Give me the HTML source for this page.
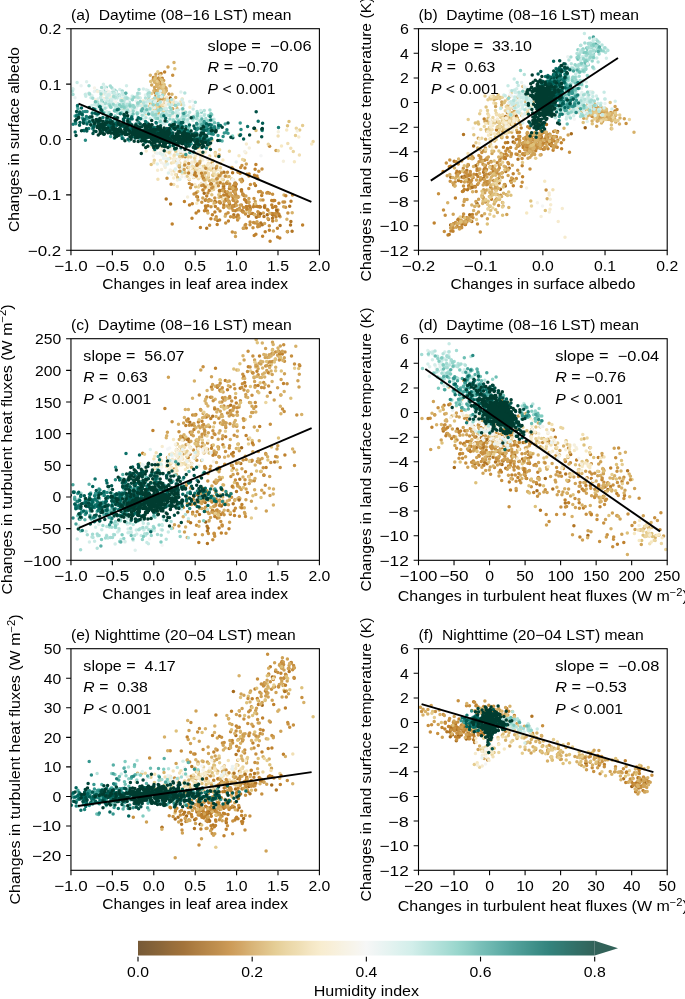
<!DOCTYPE html><html><head><meta charset="utf-8"><style>html,body{margin:0;padding:0;background:#fff}svg{display:block;will-change:transform} text{white-space:pre}</style></head><body>
<svg width="685" height="999" viewBox="0 0 685 999" font-family="Liberation Sans, sans-serif" font-size="14.6">
<rect width="685" height="999" fill="#fff"/>
<defs>
<clipPath id="c0"><rect x="70.96" y="28.70" width="248.44" height="221.60"/></clipPath>
<clipPath id="c1"><rect x="418.50" y="28.70" width="248.70" height="221.60"/></clipPath>
<clipPath id="c2"><rect x="70.96" y="338.70" width="248.44" height="221.60"/></clipPath>
<clipPath id="c3"><rect x="418.50" y="338.70" width="248.70" height="221.60"/></clipPath>
<clipPath id="c4"><rect x="70.96" y="648.70" width="248.44" height="221.60"/></clipPath>
<clipPath id="c5"><rect x="418.50" y="648.70" width="248.70" height="221.60"/></clipPath>
<linearGradient id="cb" x1="0" x2="1" y1="0" y2="0">
<stop offset="0.000" stop-color="#543005"/>
<stop offset="0.025" stop-color="#613806"/>
<stop offset="0.050" stop-color="#6e4007"/>
<stop offset="0.075" stop-color="#7e4909"/>
<stop offset="0.100" stop-color="#8b500a"/>
<stop offset="0.125" stop-color="#995d13"/>
<stop offset="0.150" stop-color="#a5691b"/>
<stop offset="0.175" stop-color="#b17423"/>
<stop offset="0.200" stop-color="#bf812d"/>
<stop offset="0.225" stop-color="#c79040"/>
<stop offset="0.250" stop-color="#cfa256"/>
<stop offset="0.275" stop-color="#d7b169"/>
<stop offset="0.300" stop-color="#dec17b"/>
<stop offset="0.325" stop-color="#e5cc8f"/>
<stop offset="0.350" stop-color="#ead59f"/>
<stop offset="0.375" stop-color="#f1dfb3"/>
<stop offset="0.400" stop-color="#f6e8c3"/>
<stop offset="0.425" stop-color="#f6ebcf"/>
<stop offset="0.450" stop-color="#f5efdc"/>
<stop offset="0.475" stop-color="#f5f2e8"/>
<stop offset="0.500" stop-color="#f4f5f5"/>
<stop offset="0.525" stop-color="#e9f2f1"/>
<stop offset="0.550" stop-color="#def0ed"/>
<stop offset="0.575" stop-color="#d2ede9"/>
<stop offset="0.600" stop-color="#c7eae5"/>
<stop offset="0.625" stop-color="#b4e2db"/>
<stop offset="0.650" stop-color="#a3dbd3"/>
<stop offset="0.675" stop-color="#92d4ca"/>
<stop offset="0.700" stop-color="#7fccc0"/>
<stop offset="0.725" stop-color="#6dbfb4"/>
<stop offset="0.750" stop-color="#58b0a7"/>
<stop offset="0.775" stop-color="#47a49b"/>
<stop offset="0.800" stop-color="#35978f"/>
<stop offset="0.825" stop-color="#278a82"/>
<stop offset="0.850" stop-color="#1a7e76"/>
<stop offset="0.875" stop-color="#0c7169"/>
<stop offset="0.900" stop-color="#01655d"/>
<stop offset="0.925" stop-color="#015b52"/>
<stop offset="0.950" stop-color="#005046"/>
<stop offset="0.975" stop-color="#00463b"/>
<stop offset="1.000" stop-color="#003c30"/>
</linearGradient></defs>
<g clip-path="url(#c0)" stroke-linecap="round" stroke-width="3.50" fill="none">
<path stroke="#c79040" d="M269.6 146.2h0"/>
<path stroke="#cfa256" d="M276.0 150.4h0"/>
<path stroke="#dec17b" d="M244.4 160.2h0M258.2 141.9h0M289.0 121.6h0M256.0 130.5h0M287.5 125.8h0"/>
<path stroke="#e5cc8f" d="M299.7 129.9h0M302.6 125.5h0M323.1 176.4h0M295.5 135.5h0"/>
<path stroke="#ead59f" d="M338.7 156.6h0M268.3 144.3h0M313.1 141.4h0M293.3 151.4h0M278.2 150.7h0M296.3 128.3h0"/>
<path stroke="#f1dfb3" d="M278.1 136.1h0M299.4 154.9h0M287.8 143.4h0M290.8 148.3h0M239.0 134.7h0"/>
<path stroke="#f6e8c3" d="M294.4 161.8h0M311.7 143.9h0M281.5 145.9h0M286.7 129.9h0"/>
<path stroke="#f6ebcf" d="M245.8 152.8h0M246.4 144.0h0M298.8 137.1h0"/>
<path stroke="#f5efdc" d="M249.3 148.1h0M278.3 131.7h0M283.4 161.2h0M297.2 131.1h0"/>
<path stroke="#f5f2e8" d="M244.7 151.5h0"/>
<path stroke="#f4f5f5" d="M261.0 155.8h0"/>
<path stroke="#35978f" d="M240.2 123.1h0"/>
<path stroke="#1a7e76" d="M278.5 127.4h0M262.2 130.4h0M226.9 129.7h0"/>
<path stroke="#0c7169" d="M258.2 121.3h0M247.6 126.5h0M240.6 134.7h0"/>
<path stroke="#01655d" d="M220.4 125.4h0"/>
<path stroke="#015b52" d="M243.6 139.1h0M262.6 123.3h0M239.9 135.5h0"/>
<path stroke="#005046" d="M261.8 129.2h0M261.7 136.7h0M232.8 137.7h0M256.2 111.7h0"/>
<path stroke="#00463b" d="M222.2 127.3h0M249.6 134.9h0M254.5 128.3h0"/>
<path stroke="#003c30" d="M262.3 128.5h0M253.9 128.2h0"/>
<path stroke="#d7b169" d="M178.3 161.4h0M180.9 153.3h0"/>
<path stroke="#dec17b" d="M177.0 161.9h0M179.4 164.2h0M151.2 164.4h0M177.6 177.6h0"/>
<path stroke="#e5cc8f" d="M170.1 148.7h0M154.6 147.9h0"/>
<path stroke="#ead59f" d="M183.1 155.3h0M179.0 171.5h0M166.3 161.3h0M190.8 156.9h0M190.5 172.1h0M185.0 164.6h0M161.2 146.9h0M163.9 154.8h0M175.6 159.8h0"/>
<path stroke="#f1dfb3" d="M165.4 164.2h0M179.3 159.1h0M169.9 158.3h0M169.9 151.6h0M179.9 163.0h0M165.0 156.1h0M202.8 154.3h0M171.5 163.0h0M156.2 144.2h0M179.7 149.7h0M153.8 162.7h0M174.2 171.0h0M157.9 179.2h0M197.1 167.9h0"/>
<path stroke="#f6e8c3" d="M214.8 171.4h0M188.1 157.3h0M200.6 157.3h0M185.6 154.4h0M197.1 171.6h0M192.9 174.2h0M173.4 159.2h0M184.4 172.1h0M182.3 173.8h0M173.5 162.5h0M195.6 163.2h0M184.0 154.5h0M166.1 139.0h0M166.3 151.4h0M194.4 162.2h0M157.7 133.2h0M174.0 156.3h0"/>
<path stroke="#f6ebcf" d="M191.6 174.8h0M146.2 150.9h0M187.6 173.1h0M182.0 168.5h0M208.2 159.7h0M162.1 149.8h0M156.9 144.4h0M201.6 159.1h0M171.3 171.1h0M182.3 157.4h0M174.6 149.4h0M178.0 154.5h0M204.3 172.8h0M200.4 172.5h0M164.1 157.1h0M154.0 150.6h0M166.0 146.2h0M157.7 147.3h0M194.9 162.2h0M168.8 148.0h0M199.7 147.9h0M186.9 147.1h0M164.9 166.0h0M160.4 160.6h0M212.2 161.7h0M213.5 185.4h0M157.6 170.2h0M192.8 169.5h0M150.9 146.5h0M184.5 163.6h0M185.6 155.7h0M180.4 155.5h0"/>
<path stroke="#f5efdc" d="M182.9 166.5h0M187.1 155.4h0M177.4 180.1h0M180.4 157.1h0M171.9 174.3h0M188.6 170.2h0M160.4 148.5h0M210.2 144.4h0M173.5 142.6h0M186.6 163.0h0M213.0 167.5h0M171.5 146.3h0M169.0 153.3h0M161.6 169.5h0M187.1 167.2h0M188.4 170.8h0M168.8 152.1h0M163.7 157.4h0M157.4 142.2h0M165.2 167.4h0M173.5 159.7h0M186.0 163.4h0M160.9 153.7h0M155.5 152.8h0M202.8 160.0h0M164.2 156.5h0M202.2 167.9h0M174.8 158.7h0M180.1 151.1h0"/>
<path stroke="#f5f2e8" d="M178.4 161.9h0M186.1 154.0h0M187.7 161.9h0M170.2 169.9h0M217.3 180.3h0M186.1 152.7h0M194.4 145.9h0M163.7 154.2h0M151.8 143.3h0M153.3 155.9h0M181.4 142.9h0M178.8 158.4h0M175.8 152.7h0M191.2 164.6h0M181.8 176.7h0M163.8 164.1h0M192.6 162.8h0M213.5 178.5h0M157.1 143.0h0M178.4 163.8h0M161.3 162.6h0M187.7 160.5h0M181.4 170.1h0M171.7 149.5h0M160.1 152.6h0"/>
<path stroke="#f4f5f5" d="M199.2 170.5h0M175.8 170.1h0M205.7 176.7h0M194.9 156.6h0M162.0 155.5h0M177.6 166.2h0M168.1 149.6h0M196.9 162.1h0M185.2 159.9h0M185.5 177.1h0M197.2 162.2h0M182.7 151.6h0M164.9 158.4h0M163.2 150.7h0M194.4 175.7h0M177.7 160.2h0M194.6 146.5h0M192.3 161.2h0M194.3 168.9h0M178.4 149.8h0M193.8 171.0h0"/>
<path stroke="#e9f2f1" d="M180.4 150.9h0M175.9 148.5h0M163.5 158.5h0M194.9 160.6h0M157.2 153.3h0M161.5 138.8h0M196.9 171.5h0M167.0 158.7h0M183.2 169.9h0M190.6 164.5h0M165.1 144.3h0M165.7 165.2h0M183.7 170.7h0M181.4 166.7h0M176.9 163.3h0M170.2 154.0h0"/>
<path stroke="#def0ed" d="M167.7 163.9h0M168.4 173.1h0M199.2 177.6h0M192.3 153.4h0M162.6 154.7h0M168.9 150.5h0M185.3 156.3h0M181.5 155.2h0M168.4 159.1h0M218.3 174.1h0M160.1 153.4h0M175.3 169.1h0M157.3 164.0h0M214.6 171.7h0"/>
<path stroke="#d2ede9" d="M195.2 155.7h0M177.5 154.2h0"/>
<path stroke="#c7eae5" d="M193.4 166.8h0"/>
<path stroke="#b4e2db" d="M181.8 172.0h0"/>
<path stroke="#a3dbd3" d="M177.4 139.5h0"/>
<path stroke="#b17423" d="M211.7 184.7h0"/>
<path stroke="#bf812d" d="M226.7 183.6h0M219.0 202.1h0M185.2 156.7h0"/>
<path stroke="#c79040" d="M189.3 183.4h0M211.9 168.3h0"/>
<path stroke="#cfa256" d="M179.4 166.9h0M200.1 142.5h0M231.6 168.3h0M213.0 174.9h0M212.1 162.9h0M216.4 178.9h0M202.9 174.3h0M202.8 197.9h0M189.3 179.4h0M220.7 175.8h0M219.1 155.0h0M187.8 167.5h0M216.7 169.4h0"/>
<path stroke="#d7b169" d="M169.6 141.8h0M209.4 180.7h0M194.3 167.9h0M200.0 161.2h0M176.3 174.7h0M217.6 178.1h0M208.3 176.9h0M199.5 166.0h0M260.7 200.1h0"/>
<path stroke="#dec17b" d="M212.5 185.8h0M231.8 168.5h0M194.3 171.0h0M211.8 194.7h0M213.8 171.4h0M205.8 170.8h0M197.7 191.4h0M213.1 175.4h0M199.7 185.4h0M200.5 167.3h0M214.0 180.7h0M179.1 165.7h0M201.3 183.9h0M224.2 206.5h0M215.8 155.8h0M189.7 171.4h0M208.0 186.0h0M174.3 128.4h0M227.7 181.5h0M198.5 175.7h0M174.0 142.1h0M204.3 166.3h0M185.0 172.8h0M203.8 170.0h0M229.6 193.7h0M219.0 197.5h0M218.8 194.8h0M212.0 179.9h0M210.9 186.8h0M195.6 186.8h0M193.9 177.2h0"/>
<path stroke="#e5cc8f" d="M223.3 179.8h0M193.6 177.6h0M175.8 151.3h0M233.4 190.0h0M203.2 178.9h0M217.9 176.3h0M196.7 174.0h0M184.8 165.6h0M215.3 152.4h0M207.8 178.8h0M231.7 178.9h0M206.2 179.5h0M219.5 193.0h0M212.1 140.0h0M219.5 190.3h0M208.3 187.1h0M213.4 180.6h0M179.7 156.5h0M218.0 177.6h0M187.3 176.3h0M213.6 189.4h0M227.7 176.7h0M223.0 186.9h0M212.9 160.4h0M204.9 188.3h0M212.9 188.4h0M223.8 185.0h0M250.2 206.9h0M220.5 167.7h0"/>
<path stroke="#ead59f" d="M204.7 182.0h0M223.7 184.3h0M202.4 169.3h0M201.6 170.9h0M208.3 169.1h0M245.8 212.3h0M218.3 174.3h0M184.4 155.5h0M198.5 186.9h0M204.0 141.5h0M217.3 169.5h0M199.1 177.1h0M199.0 176.4h0M242.6 159.4h0M194.7 158.3h0M202.6 166.6h0M203.2 189.9h0M188.2 156.8h0M195.4 175.1h0M154.3 160.3h0M229.4 151.3h0M209.7 156.1h0M196.9 169.2h0M213.8 173.9h0M220.5 163.5h0M206.5 168.9h0M210.9 169.9h0M169.2 152.5h0M219.0 182.2h0M204.6 176.5h0M233.9 188.5h0"/>
<path stroke="#f1dfb3" d="M202.0 172.9h0M226.1 174.6h0M201.7 175.7h0M174.3 154.9h0M208.5 175.2h0M173.8 184.6h0M192.3 170.3h0M221.0 170.9h0M179.4 140.1h0M205.1 184.2h0M215.6 174.9h0M208.4 163.6h0M194.9 161.4h0M189.0 167.2h0M175.7 174.5h0M200.3 151.9h0M209.2 146.7h0M219.6 149.7h0M211.2 190.7h0M215.2 200.8h0M214.3 185.3h0M224.2 190.8h0M195.4 167.8h0M222.4 199.0h0M222.1 179.0h0M209.5 159.3h0M208.4 173.2h0M192.5 166.3h0M215.3 153.8h0M234.8 186.2h0M210.5 167.7h0M198.5 178.8h0M197.4 166.2h0M206.3 171.2h0M185.2 162.0h0"/>
<path stroke="#f6e8c3" d="M222.9 159.9h0M239.7 179.7h0M204.8 182.5h0M199.9 171.3h0M216.1 187.2h0M205.5 152.0h0M213.6 204.4h0M198.8 171.9h0M198.2 174.0h0M214.1 171.2h0M225.4 196.9h0M217.6 164.3h0M197.2 196.4h0M241.0 190.3h0M220.4 181.7h0M208.7 187.0h0M189.5 179.1h0M239.0 155.7h0M233.4 179.7h0M195.8 155.8h0M200.6 177.0h0M196.8 203.3h0M207.2 165.6h0M189.5 174.4h0M222.3 183.6h0M196.8 177.3h0"/>
<path stroke="#f6ebcf" d="M208.7 186.8h0M208.3 164.3h0M173.7 178.1h0M191.8 162.3h0M194.9 184.4h0M190.1 171.4h0M198.3 152.1h0M201.9 184.5h0M197.0 137.0h0M191.9 171.8h0M223.1 185.1h0M185.4 165.4h0M197.2 167.7h0M211.3 166.3h0M177.4 186.4h0M210.2 186.4h0M218.0 156.1h0"/>
<path stroke="#f5efdc" d="M239.9 196.5h0M205.0 170.0h0M202.2 169.0h0M213.0 164.5h0M208.4 157.6h0M222.5 170.9h0M187.6 197.0h0M207.3 158.8h0M190.2 174.8h0M217.5 169.0h0"/>
<path stroke="#f5f2e8" d="M200.4 166.8h0M198.7 176.2h0M193.4 177.1h0M191.8 171.4h0M201.1 184.8h0M223.1 176.5h0"/>
<path stroke="#f4f5f5" d="M235.2 181.7h0M229.4 166.3h0M232.5 179.7h0M203.2 182.1h0"/>
<path stroke="#e9f2f1" d="M236.2 161.9h0M193.6 173.1h0"/>
<path stroke="#def0ed" d="M179.8 179.4h0"/>
<path stroke="#a5691b" d="M267.3 214.8h0M235.8 196.7h0M235.3 187.2h0M258.3 214.8h0M204.2 193.3h0M227.2 193.0h0M242.8 211.0h0"/>
<path stroke="#b17423" d="M224.0 172.2h0M197.5 197.1h0M260.3 207.0h0M277.1 212.0h0M233.8 214.8h0M260.8 222.9h0M170.6 204.0h0M234.6 205.3h0M211.3 183.8h0M196.9 165.2h0M166.2 199.1h0M255.5 185.5h0M273.2 215.0h0M219.4 190.7h0M226.6 199.4h0M206.7 228.3h0M250.2 208.6h0M257.8 178.4h0M264.0 216.5h0M217.6 220.5h0M205.3 200.2h0M237.9 215.0h0M223.7 186.3h0M232.0 206.9h0M221.8 190.2h0M242.9 193.9h0M235.6 189.3h0M232.6 172.7h0M227.1 192.8h0M236.0 184.1h0M275.8 206.8h0M214.9 201.4h0M256.4 217.3h0M226.5 194.8h0M235.4 186.1h0M248.4 216.2h0M272.5 218.3h0M241.5 189.8h0M246.7 202.2h0"/>
<path stroke="#bf812d" d="M259.1 213.0h0M230.2 193.3h0M244.1 195.8h0M233.3 186.1h0M250.5 213.6h0M196.0 193.1h0M195.2 172.7h0M267.8 192.5h0M188.6 172.9h0M259.7 225.9h0M233.0 197.2h0M302.6 225.0h0M220.3 203.1h0M265.2 231.7h0M192.0 218.3h0M242.5 180.7h0M225.9 199.3h0M219.6 219.9h0M248.9 176.0h0M223.7 195.1h0M203.1 184.9h0M204.5 210.7h0M237.8 209.8h0M244.5 199.6h0M277.6 237.0h0M241.7 210.8h0M240.1 173.2h0M255.9 164.6h0M253.3 206.8h0M235.2 183.0h0M220.0 211.1h0M237.9 196.6h0M268.5 219.6h0M264.7 207.4h0M262.6 236.3h0M210.9 218.7h0M278.9 203.3h0M236.6 217.0h0M257.5 206.6h0M228.4 220.9h0M203.5 178.2h0M252.7 213.6h0M224.8 191.4h0M200.4 227.4h0M209.2 190.6h0M197.8 147.3h0M261.7 195.4h0M228.7 196.8h0M238.1 216.0h0M189.5 205.0h0M235.3 210.7h0M255.9 234.3h0M194.5 174.8h0M225.5 200.5h0M254.3 204.6h0M226.5 194.8h0M229.1 202.5h0M238.0 197.3h0M172.2 223.9h0M215.5 202.3h0M192.3 203.8h0M249.5 212.0h0M196.1 213.0h0M215.4 206.6h0M191.8 184.7h0M272.6 207.5h0M210.6 183.9h0M223.8 204.8h0M246.0 201.3h0M234.0 206.0h0M241.6 191.2h0M202.9 190.1h0M223.8 188.6h0M242.9 211.4h0M207.9 205.7h0M249.1 206.0h0M254.4 175.3h0M254.2 206.3h0M258.9 206.7h0M249.1 174.1h0M206.7 195.9h0M230.5 188.4h0M229.4 188.6h0M241.8 179.2h0M277.4 228.3h0M258.4 216.2h0M197.5 164.0h0M201.5 173.2h0M245.9 200.4h0M240.8 269.7h0M270.1 241.3h0M234.8 205.9h0M243.3 228.3h0M233.2 197.0h0M205.5 206.1h0M220.2 182.7h0M198.6 210.9h0M272.7 221.1h0M254.5 214.6h0M229.6 204.3h0M184.4 201.6h0M236.0 189.6h0M246.3 227.9h0M214.9 212.1h0M254.2 235.4h0M205.7 207.9h0M196.3 176.1h0M207.4 211.0h0M279.8 237.9h0M249.6 205.9h0M246.9 174.2h0M233.0 200.0h0M291.0 201.3h0M205.1 187.0h0M246.3 206.5h0M257.0 176.0h0M255.1 169.2h0M216.1 167.9h0M212.4 214.8h0M245.0 168.1h0M217.2 224.4h0"/>
<path stroke="#c79040" d="M223.6 207.5h0M245.5 214.0h0M248.8 188.5h0M167.0 178.2h0M272.6 194.3h0M222.8 190.2h0M233.3 191.3h0M233.6 200.6h0M225.8 214.3h0M254.0 198.5h0M283.0 202.1h0M235.8 203.1h0M239.5 208.4h0M238.0 172.2h0M267.4 209.4h0M285.6 207.3h0M228.1 212.8h0M212.9 186.9h0M216.2 216.8h0M262.0 168.9h0M214.8 197.9h0M243.5 207.6h0M269.5 193.3h0M201.7 185.4h0M209.3 199.6h0M254.4 183.7h0M220.9 196.5h0M236.2 188.9h0M257.7 226.8h0M277.9 210.1h0M201.8 202.2h0M218.4 185.7h0M233.6 217.3h0M259.2 225.8h0M227.5 172.3h0M237.1 201.6h0M236.0 184.3h0M205.9 199.7h0M242.9 212.0h0M241.4 205.0h0M241.9 165.4h0M273.3 200.5h0M246.8 209.6h0M234.7 183.8h0M225.3 176.3h0M229.7 184.0h0M258.8 171.2h0M217.1 178.7h0M284.6 202.1h0M225.7 222.9h0M245.1 225.3h0M257.8 224.2h0M230.6 216.7h0M223.3 184.2h0M209.6 225.2h0M292.5 195.1h0M245.7 224.6h0M248.7 202.2h0M250.0 224.7h0M258.5 191.7h0M250.4 184.5h0M258.5 213.9h0M219.8 201.8h0M207.9 193.0h0M184.7 165.0h0M235.6 194.2h0M250.1 222.1h0M253.5 222.5h0M242.9 194.7h0M232.3 231.9h0M211.7 188.0h0M221.6 173.1h0M231.9 208.2h0M217.9 208.8h0M188.7 163.5h0M237.7 209.4h0M215.2 219.3h0M253.0 227.7h0M190.5 187.8h0M273.3 213.8h0M235.0 193.5h0M226.5 182.9h0M202.4 176.3h0M259.4 216.3h0M228.7 207.3h0M205.8 168.2h0M266.8 193.1h0M179.9 171.3h0M275.6 206.8h0M260.5 191.5h0M240.7 167.6h0M263.0 200.0h0M250.1 209.5h0M237.6 220.0h0M219.1 175.8h0M269.3 225.7h0M229.0 201.3h0M194.0 194.1h0M233.1 210.5h0M196.7 196.6h0M171.1 184.3h0M264.8 205.4h0M255.0 223.1h0M232.6 168.6h0M232.6 205.7h0M211.0 206.7h0M262.3 193.0h0"/>
<path stroke="#cfa256" d="M240.1 205.2h0M224.1 201.7h0M255.5 204.5h0M217.0 183.1h0M267.9 218.6h0M283.7 206.7h0M238.9 217.9h0M240.3 179.8h0M222.6 190.7h0M263.3 213.1h0M208.4 201.2h0M235.5 236.5h0M237.8 197.1h0M248.9 198.4h0M239.5 209.8h0M231.9 167.5h0M231.7 195.5h0M216.2 218.7h0M249.9 210.8h0M235.2 232.7h0M229.7 186.5h0M199.7 163.1h0M211.2 200.5h0M236.4 205.6h0M232.1 187.4h0M229.2 202.2h0M227.1 205.9h0M216.7 166.5h0M204.3 179.9h0M184.2 169.5h0M198.0 200.1h0M249.0 202.1h0M234.6 197.1h0M205.3 173.0h0M280.1 216.7h0M246.3 164.0h0M182.6 156.3h0M227.6 199.2h0M227.4 191.7h0M237.7 196.5h0M241.6 181.7h0M255.2 201.4h0M235.3 192.1h0M243.6 228.3h0M273.4 231.1h0"/>
<path stroke="#d7b169" d="M254.6 214.7h0M229.1 176.5h0M284.0 195.0h0M214.2 203.1h0M249.1 212.4h0M207.9 212.9h0M229.9 193.8h0M225.2 216.2h0M236.1 199.2h0M233.1 188.2h0M229.3 208.1h0"/>
<path stroke="#a5691b" d="M260.5 213.8h0M276.6 210.2h0M287.5 231.7h0"/>
<path stroke="#b17423" d="M290.9 221.5h0M280.1 225.5h0M289.7 206.2h0M290.5 225.1h0M279.1 215.4h0M264.4 206.8h0M292.1 231.3h0M262.3 224.7h0M272.3 214.4h0"/>
<path stroke="#bf812d" d="M274.6 214.5h0M271.9 213.5h0M275.3 206.6h0M246.9 208.6h0M274.7 200.6h0M276.0 216.9h0M275.1 215.2h0M285.8 195.8h0M271.8 205.0h0M273.2 200.7h0M256.0 206.2h0M259.7 206.4h0M268.0 210.2h0M271.7 200.5h0M269.4 230.3h0M278.8 214.0h0"/>
<path stroke="#c79040" d="M257.9 211.7h0M275.5 213.5h0M287.9 213.0h0"/>
<path stroke="#cfa256" d="M245.9 196.0h0M264.6 223.6h0M287.3 231.4h0M257.0 221.8h0"/>
<path stroke="#d7b169" d="M286.9 219.2h0M269.7 213.3h0M292.2 212.7h0M276.3 220.6h0"/>
<path stroke="#dec17b" d="M255.4 203.7h0"/>
<path stroke="#a5691b" d="M158.3 80.0h0"/>
<path stroke="#b17423" d="M158.7 98.3h0"/>
<path stroke="#bf812d" d="M163.5 94.0h0M164.6 72.1h0M158.7 78.1h0M156.6 84.0h0M153.5 77.4h0M166.0 98.8h0M155.0 92.5h0M162.2 78.3h0M156.7 79.8h0M161.1 73.6h0M158.4 82.5h0M154.9 90.5h0M163.4 85.0h0"/>
<path stroke="#c79040" d="M160.1 82.4h0M156.5 92.3h0M159.6 74.0h0M161.3 90.5h0M153.2 79.6h0M159.1 88.6h0M155.9 95.4h0M150.6 101.2h0M162.1 99.1h0M159.1 97.5h0M172.7 75.2h0M168.9 94.0h0M165.5 87.9h0M160.3 84.1h0M165.5 87.8h0M165.0 102.5h0M156.5 86.1h0M158.8 83.3h0"/>
<path stroke="#cfa256" d="M155.3 100.4h0M156.2 79.7h0M154.5 87.6h0M157.1 107.5h0M161.6 87.7h0M151.7 84.9h0M159.0 100.0h0M156.6 84.0h0M155.3 98.9h0M168.0 66.9h0M166.3 90.6h0M161.5 85.9h0M159.8 78.4h0M161.2 103.7h0M164.5 86.8h0M156.8 90.5h0M156.4 82.6h0M166.1 88.6h0M159.3 96.3h0M163.7 80.4h0M157.4 84.9h0M163.8 94.2h0M155.9 74.3h0M161.4 96.8h0M162.3 99.0h0M161.0 87.7h0"/>
<path stroke="#d7b169" d="M157.9 84.3h0M153.8 99.2h0M161.3 86.2h0M174.0 62.4h0M158.7 87.9h0M158.8 95.7h0M153.7 80.6h0M156.7 85.3h0M150.3 75.3h0M154.5 82.2h0M165.7 91.0h0M160.0 102.2h0M154.2 98.8h0M163.6 92.3h0M158.2 83.9h0M172.0 94.3h0M162.1 97.6h0M155.3 77.1h0M158.0 93.6h0M165.4 91.7h0M169.9 85.7h0M158.5 90.8h0M156.7 85.9h0M153.9 90.7h0M158.6 82.7h0M158.9 96.0h0M157.9 84.4h0M161.8 104.0h0"/>
<path stroke="#dec17b" d="M174.8 68.8h0M158.9 98.4h0M165.4 100.1h0M150.7 81.6h0M157.6 102.1h0M155.0 78.8h0M161.8 91.8h0M164.5 92.6h0M157.7 105.8h0M161.5 79.7h0M154.7 107.0h0M162.9 88.5h0M164.2 84.4h0M161.8 87.3h0"/>
<path stroke="#e5cc8f" d="M157.2 81.3h0M163.5 95.1h0M163.4 86.6h0M157.8 71.7h0M157.1 97.4h0M163.8 91.3h0M156.5 98.6h0M162.7 82.8h0"/>
<path stroke="#f1dfb3" d="M160.4 75.7h0"/>
<path stroke="#995d13" d="M170.3 97.9h0"/>
<path stroke="#b17423" d="M150.5 106.7h0M151.2 103.2h0"/>
<path stroke="#bf812d" d="M150.4 102.7h0"/>
<path stroke="#c79040" d="M157.0 102.4h0M161.0 100.0h0"/>
<path stroke="#cfa256" d="M150.0 107.0h0M156.8 110.8h0M171.0 101.6h0M154.2 113.2h0M158.1 105.8h0M148.4 99.7h0M172.7 108.8h0M143.0 105.9h0"/>
<path stroke="#d7b169" d="M155.4 104.8h0M175.7 97.6h0M127.8 107.7h0M159.4 102.3h0M161.0 96.9h0M147.2 110.8h0M158.3 113.1h0M159.9 107.3h0M167.4 101.8h0M177.2 108.8h0M150.1 105.8h0M174.1 104.6h0M144.3 105.5h0M170.1 104.0h0"/>
<path stroke="#dec17b" d="M163.0 105.7h0M136.8 97.6h0M176.7 105.2h0M168.6 100.4h0M132.4 98.0h0M168.1 113.0h0M155.6 104.0h0M122.6 110.7h0"/>
<path stroke="#e5cc8f" d="M165.1 100.9h0M163.5 105.6h0M157.7 108.2h0M151.2 103.2h0M163.5 110.9h0M143.8 103.5h0M151.7 93.4h0M154.4 109.1h0M152.4 108.8h0M146.0 113.7h0M162.6 104.3h0M181.3 104.4h0M175.9 114.2h0M149.5 101.5h0"/>
<path stroke="#ead59f" d="M173.0 101.4h0M163.4 109.5h0M152.2 101.3h0M161.4 104.7h0M162.3 95.5h0M156.8 106.4h0M173.7 102.5h0M152.0 100.1h0"/>
<path stroke="#f1dfb3" d="M153.2 102.6h0M182.2 99.0h0M162.3 103.6h0M157.7 95.4h0M146.2 111.3h0M137.4 103.0h0M180.1 102.0h0M152.0 108.2h0M162.9 104.4h0"/>
<path stroke="#f6e8c3" d="M172.0 101.3h0M166.8 97.3h0M141.8 105.4h0M172.4 103.5h0M143.2 101.1h0M154.2 100.5h0M129.2 105.9h0M189.9 107.2h0M161.6 109.6h0"/>
<path stroke="#f6ebcf" d="M164.3 108.2h0M173.4 99.8h0M166.0 105.0h0M151.0 108.9h0M139.6 97.8h0M183.9 111.5h0M167.2 102.4h0M164.6 109.5h0M175.4 114.9h0"/>
<path stroke="#f5efdc" d="M155.5 100.7h0M141.5 103.0h0M165.2 105.3h0"/>
<path stroke="#f5f2e8" d="M166.0 102.5h0M161.7 101.9h0"/>
<path stroke="#f5efdc" d="M123.0 100.2h0M125.0 101.3h0"/>
<path stroke="#f5f2e8" d="M141.8 108.6h0M182.6 110.9h0M147.3 101.5h0"/>
<path stroke="#f4f5f5" d="M109.7 95.4h0M178.0 102.4h0M192.4 101.1h0M174.2 115.2h0M127.9 111.0h0M132.9 107.4h0"/>
<path stroke="#e9f2f1" d="M145.7 110.0h0M81.1 85.7h0M116.2 99.6h0M94.4 91.4h0M75.0 97.8h0M112.8 89.2h0M107.1 98.0h0M73.6 89.2h0M103.5 88.4h0M125.3 98.1h0M108.2 91.6h0M136.1 109.6h0M97.0 106.1h0M85.9 93.9h0M107.5 101.2h0M116.7 94.8h0M145.9 98.4h0M137.8 94.8h0M136.2 100.9h0M127.7 106.2h0M121.8 112.5h0"/>
<path stroke="#def0ed" d="M173.0 119.8h0M86.6 81.8h0M113.8 94.7h0M180.9 91.9h0M121.4 99.0h0M106.9 107.2h0M146.3 89.8h0M158.4 103.6h0M175.9 102.3h0M98.0 99.0h0M132.1 96.0h0M89.0 94.6h0M145.4 94.9h0M136.7 97.6h0M107.0 95.0h0M160.4 91.0h0M131.2 104.5h0M189.7 101.5h0M106.2 91.2h0M143.9 108.8h0M147.2 107.8h0M124.7 95.1h0M120.8 98.5h0M150.6 106.0h0M92.0 95.8h0M136.4 105.7h0"/>
<path stroke="#d2ede9" d="M171.3 111.5h0M127.4 107.0h0M140.3 105.6h0M143.8 105.4h0M143.4 89.0h0M122.0 94.7h0M115.1 106.6h0M109.2 98.1h0M144.6 103.4h0M120.1 110.4h0M119.8 89.5h0M117.9 103.6h0M148.1 90.5h0M182.1 99.7h0M158.9 103.7h0M115.5 92.0h0M72.6 88.8h0M140.3 98.1h0M139.2 112.4h0M105.1 94.0h0M97.0 90.5h0M105.1 99.8h0M103.4 84.2h0M105.0 90.5h0M101.1 96.1h0M122.8 111.6h0M151.5 100.8h0M183.8 105.3h0M150.7 109.0h0M151.7 101.2h0M137.6 93.6h0M122.6 99.1h0M149.3 101.1h0M179.0 104.0h0M126.5 85.7h0M146.9 101.6h0M138.9 93.4h0"/>
<path stroke="#c7eae5" d="M178.4 110.1h0M117.2 98.0h0M145.5 102.2h0M85.8 96.3h0M146.2 104.5h0M147.6 94.5h0M117.2 93.9h0M100.5 97.5h0M148.9 99.9h0M117.8 94.5h0M143.8 102.0h0M91.0 97.7h0M127.3 103.0h0M85.3 94.6h0M139.5 93.6h0M153.7 103.0h0M113.3 102.4h0M125.7 110.1h0M125.8 96.8h0M167.4 100.2h0M129.8 107.5h0M130.8 114.9h0M117.7 96.5h0M100.0 91.5h0M131.6 99.0h0M193.1 109.0h0M128.3 98.5h0M123.3 117.9h0M132.6 96.4h0M77.1 82.4h0M158.6 93.7h0M168.7 104.3h0M114.5 105.2h0M164.3 109.0h0"/>
<path stroke="#b4e2db" d="M136.9 96.8h0M171.6 99.6h0M143.6 103.1h0M151.5 114.0h0M137.0 96.0h0M72.2 91.3h0M141.4 111.1h0M131.4 106.2h0M114.1 94.7h0M129.4 102.3h0M160.3 102.0h0M145.5 98.1h0M178.3 104.2h0M168.6 111.7h0M137.9 103.1h0M184.8 92.9h0M138.1 97.7h0M112.2 92.6h0M126.1 93.0h0M125.0 98.1h0M109.7 101.1h0M147.8 110.4h0M158.5 109.8h0M124.1 102.0h0M155.0 102.4h0M123.2 100.4h0M156.7 112.1h0M166.5 110.7h0M89.0 93.2h0M126.8 100.4h0"/>
<path stroke="#a3dbd3" d="M139.0 89.5h0M89.0 85.7h0M111.8 87.8h0M156.8 93.6h0M148.1 93.4h0M162.3 115.9h0M122.0 106.6h0M127.0 98.0h0M122.3 90.9h0M99.3 112.7h0M115.0 90.3h0M101.6 87.6h0M153.2 102.0h0M116.3 91.4h0M158.7 96.5h0M156.6 93.5h0M110.3 85.9h0M162.6 95.2h0M122.4 107.8h0M149.5 92.7h0M137.9 93.2h0M89.7 93.9h0M92.8 98.3h0M154.8 98.1h0M73.0 94.5h0M148.8 96.8h0"/>
<path stroke="#92d4ca" d="M133.9 97.3h0M140.3 101.4h0M157.7 104.5h0M201.5 112.2h0M106.0 90.4h0M132.4 99.8h0M170.0 107.6h0M106.3 87.4h0M175.5 105.4h0M114.1 90.8h0M99.0 104.4h0"/>
<path stroke="#7fccc0" d="M102.4 101.7h0"/>
<path stroke="#6dbfb4" d="M119.5 95.3h0M160.9 109.1h0"/>
<path stroke="#58b0a7" d="M125.6 93.2h0"/>
<path stroke="#ead59f" d="M113.4 96.7h0"/>
<path stroke="#f6ebcf" d="M103.9 98.4h0M121.9 99.5h0"/>
<path stroke="#f5efdc" d="M124.4 106.6h0M95.6 100.0h0M97.6 91.6h0M110.2 97.1h0M102.5 94.2h0"/>
<path stroke="#f5f2e8" d="M108.9 91.8h0M115.3 101.5h0M113.0 95.6h0M106.1 93.2h0M130.8 110.6h0M94.5 87.9h0"/>
<path stroke="#f4f5f5" d="M113.0 101.3h0M106.6 99.9h0M106.5 89.5h0M112.9 98.4h0M115.4 99.8h0"/>
<path stroke="#e9f2f1" d="M115.8 92.3h0M114.1 98.4h0M108.4 96.1h0M110.1 92.9h0M122.6 95.4h0M109.0 94.0h0M103.1 99.2h0"/>
<path stroke="#def0ed" d="M109.0 94.5h0M97.3 101.5h0M101.9 91.7h0M106.8 96.3h0"/>
<path stroke="#d2ede9" d="M108.0 95.0h0M105.1 92.7h0M113.4 89.9h0M105.0 87.0h0M111.6 99.2h0M111.6 100.4h0"/>
<path stroke="#c7eae5" d="M106.7 98.0h0M117.0 105.7h0M119.7 95.6h0"/>
<path stroke="#b4e2db" d="M113.9 92.5h0"/>
<path stroke="#f5f2e8" d="M172.2 116.5h0M170.6 113.7h0M101.7 104.8h0"/>
<path stroke="#f4f5f5" d="M94.8 102.7h0M183.2 122.5h0M100.6 102.5h0M146.2 112.8h0M194.8 115.0h0M174.2 120.1h0M95.9 105.7h0M127.1 101.7h0M180.1 121.4h0M169.8 130.8h0M146.0 105.3h0"/>
<path stroke="#e9f2f1" d="M196.1 128.2h0M101.4 110.5h0M104.4 105.4h0M104.8 111.8h0M143.6 109.0h0M193.6 105.7h0M105.0 118.0h0M185.5 131.5h0M163.1 118.4h0M161.5 120.6h0M124.3 116.2h0M128.2 108.0h0M210.9 122.6h0M212.6 115.0h0"/>
<path stroke="#def0ed" d="M211.3 121.0h0M119.5 110.9h0M154.4 107.8h0M124.5 105.4h0M181.4 123.1h0M102.3 105.7h0M161.4 96.8h0M136.9 107.1h0M154.7 101.9h0M188.5 127.3h0M129.2 107.1h0M173.4 121.8h0M133.8 124.4h0M133.1 106.0h0M102.0 117.9h0M96.6 109.9h0M125.8 123.4h0M132.4 112.6h0M116.9 109.3h0M211.4 136.1h0M153.8 115.0h0M131.0 107.6h0M191.4 116.8h0"/>
<path stroke="#d2ede9" d="M94.7 104.6h0M101.0 102.1h0M166.3 108.5h0M183.9 123.9h0M163.1 113.4h0M134.0 108.5h0M198.3 120.2h0M109.1 95.1h0M176.7 110.5h0M146.2 112.2h0M107.0 111.8h0M161.3 114.0h0M185.6 120.2h0M142.9 110.7h0M146.4 109.6h0M200.7 116.3h0M168.2 112.8h0M185.6 121.6h0M183.2 102.7h0M140.8 111.7h0M205.9 121.9h0M93.0 110.7h0M178.7 113.7h0M154.0 117.7h0M172.8 121.5h0M150.2 109.7h0M92.2 124.2h0M91.8 105.5h0M113.9 97.3h0M192.9 120.6h0M200.8 110.6h0M121.6 102.4h0M108.5 103.9h0M164.7 124.0h0M115.7 116.9h0M98.6 106.9h0M137.5 117.3h0"/>
<path stroke="#c7eae5" d="M189.3 118.3h0M158.3 116.5h0M99.7 105.6h0M187.6 132.7h0M195.2 116.0h0M197.6 118.7h0M152.2 113.8h0M121.6 108.3h0M143.6 115.3h0M143.2 119.2h0M204.7 114.2h0M162.4 123.1h0M188.2 122.6h0M193.0 118.4h0M201.2 117.6h0M123.1 94.7h0M114.0 93.8h0M165.0 115.1h0M110.9 102.1h0M126.4 104.9h0M115.5 97.9h0M207.2 121.7h0M128.8 123.7h0M182.0 109.3h0M130.7 106.3h0M177.7 119.7h0M95.9 104.7h0M132.6 108.5h0M129.0 111.8h0M152.9 112.3h0M171.8 104.9h0M214.0 119.2h0M123.6 104.6h0M106.9 101.1h0M97.6 105.4h0M101.8 112.4h0M122.3 92.6h0M154.8 111.4h0M161.6 117.7h0M176.0 112.7h0M183.1 116.2h0M171.7 104.9h0"/>
<path stroke="#b4e2db" d="M165.2 119.0h0M118.3 117.8h0M123.8 107.3h0M115.5 97.3h0M99.7 105.8h0M100.8 109.8h0M180.7 118.9h0M188.2 115.3h0M137.7 105.2h0M117.7 113.3h0M203.3 122.7h0M150.2 118.8h0M168.1 115.5h0M209.0 115.8h0M115.1 109.3h0M148.9 95.8h0M189.7 112.2h0M184.3 118.7h0M144.1 110.5h0M187.6 119.8h0M124.7 113.6h0M158.0 110.2h0M204.3 110.5h0M170.1 111.6h0M141.4 118.5h0M163.6 114.7h0M178.1 125.3h0M118.1 111.0h0M144.6 112.2h0M127.1 104.2h0M166.1 113.7h0M145.9 117.7h0M212.3 119.7h0M120.8 100.4h0M204.2 115.3h0M184.0 119.4h0M115.5 105.5h0M182.3 117.0h0"/>
<path stroke="#a3dbd3" d="M173.2 119.7h0M155.2 116.8h0M176.9 118.2h0M209.9 110.1h0M105.1 108.3h0M138.2 103.5h0M183.7 114.6h0M110.2 115.0h0M102.3 110.0h0M189.2 124.9h0M185.5 116.0h0M109.6 104.5h0M212.6 120.3h0M162.8 113.5h0M170.0 115.5h0M141.3 109.8h0M109.1 104.3h0M197.2 113.3h0M195.3 102.2h0M105.6 103.2h0M205.8 118.4h0M197.1 111.6h0M101.6 100.2h0M105.2 103.4h0M200.1 124.5h0M127.6 109.9h0M196.3 118.4h0M132.9 106.6h0M109.2 112.4h0M152.3 112.8h0M206.9 123.9h0M117.9 108.1h0M92.9 112.6h0M126.3 106.6h0M142.1 115.2h0M190.9 130.8h0M97.2 102.1h0M110.7 107.2h0M205.8 120.0h0M200.1 120.8h0M172.4 113.4h0M161.0 110.0h0M138.9 119.2h0M182.7 113.3h0M113.6 96.6h0M192.4 118.8h0"/>
<path stroke="#92d4ca" d="M149.9 108.8h0M169.9 119.0h0M161.4 116.3h0M161.2 115.0h0M101.0 94.1h0M160.3 121.1h0M200.9 123.4h0M122.0 100.7h0M115.5 111.2h0M146.0 106.0h0M172.9 112.6h0M202.0 129.6h0M145.1 106.1h0M123.1 104.4h0M153.2 104.7h0M190.4 130.3h0M117.5 120.5h0M152.8 114.9h0M158.6 110.4h0M213.8 129.2h0M134.3 107.2h0M133.2 105.6h0M171.2 109.2h0M208.5 120.6h0M183.4 115.1h0M137.0 112.8h0M173.5 120.8h0M201.0 121.9h0M210.8 113.5h0M156.0 118.6h0M124.6 108.0h0M129.8 104.8h0M155.8 114.4h0M133.2 110.9h0M98.8 105.6h0M137.8 103.1h0M185.7 112.2h0M113.1 104.3h0M96.9 115.5h0"/>
<path stroke="#7fccc0" d="M119.6 104.8h0M208.8 115.5h0M121.1 106.4h0M126.7 111.8h0M107.3 115.2h0M183.5 119.4h0M159.9 121.8h0M193.3 118.1h0M211.5 114.6h0M208.8 129.7h0M197.6 127.5h0M111.0 107.2h0M196.7 123.3h0M197.4 115.8h0M203.4 126.0h0M197.8 113.8h0M115.1 115.9h0M178.7 122.2h0M130.0 105.9h0M157.8 118.4h0M121.3 112.7h0M137.2 113.9h0M123.9 107.0h0M110.1 105.9h0M104.1 112.8h0"/>
<path stroke="#6dbfb4" d="M210.8 115.0h0M92.3 119.6h0M95.2 109.3h0M146.7 109.8h0M178.9 121.1h0M182.8 108.7h0M114.4 110.7h0M127.4 116.2h0M95.4 101.7h0M133.1 114.0h0"/>
<path stroke="#58b0a7" d="M201.9 119.1h0M174.0 128.0h0M205.0 122.8h0M142.6 108.8h0M141.6 110.7h0"/>
<path stroke="#47a49b" d="M203.3 123.9h0"/>
<path stroke="#35978f" d="M177.5 116.1h0M100.5 107.0h0M148.6 114.0h0M183.8 113.4h0"/>
<path stroke="#278a82" d="M118.6 109.2h0"/>
<path stroke="#0c7169" d="M163.8 115.8h0"/>
<path stroke="#b4e2db" d="M205.1 126.4h0"/>
<path stroke="#7fccc0" d="M232.5 136.1h0M210.8 132.1h0"/>
<path stroke="#6dbfb4" d="M214.6 122.8h0M200.4 127.4h0M213.0 132.4h0M198.0 128.9h0M188.9 127.2h0"/>
<path stroke="#58b0a7" d="M178.2 122.4h0M197.8 137.3h0M222.1 141.0h0M197.1 124.6h0M185.3 136.4h0M201.5 128.8h0M201.7 124.5h0"/>
<path stroke="#47a49b" d="M225.2 123.9h0M218.2 123.4h0M209.5 132.3h0M211.5 138.4h0M193.2 117.1h0M202.2 129.1h0"/>
<path stroke="#35978f" d="M204.9 129.3h0M218.0 135.6h0M212.5 131.3h0M204.8 129.8h0M204.1 121.4h0M226.4 132.5h0M218.4 127.7h0M179.6 123.5h0M224.3 133.1h0M208.6 133.5h0M228.0 133.3h0M212.0 128.1h0"/>
<path stroke="#278a82" d="M211.8 124.9h0M223.1 136.4h0M197.3 128.7h0M186.3 131.3h0M241.0 129.5h0M207.1 126.8h0M206.3 128.2h0M205.6 137.5h0M203.3 131.7h0M198.6 139.3h0M189.2 135.0h0M184.8 136.3h0M196.7 123.6h0M173.1 127.9h0M180.3 125.5h0M196.5 130.0h0M197.7 128.6h0M213.3 134.2h0M214.7 126.8h0"/>
<path stroke="#1a7e76" d="M180.9 131.9h0M214.7 128.0h0M215.9 130.6h0M175.1 122.3h0M210.2 116.4h0M201.8 134.1h0"/>
<path stroke="#0c7169" d="M210.7 120.1h0M206.6 130.6h0M209.8 124.4h0M185.9 126.6h0M203.7 129.9h0M210.5 124.9h0M219.8 140.4h0M187.6 130.5h0M208.4 129.5h0M206.5 136.5h0"/>
<path stroke="#01655d" d="M218.6 125.6h0M179.8 128.7h0M182.3 126.5h0M201.5 133.6h0M206.4 123.8h0"/>
<path stroke="#015b52" d="M210.9 127.9h0M208.3 125.0h0M204.1 130.4h0"/>
<path stroke="#005046" d="M228.0 123.0h0"/>
<path stroke="#00463b" d="M191.2 117.7h0M215.8 131.8h0"/>
<path stroke="#003c30" d="M171.0 135.0h0"/>
<path stroke="#b4e2db" d="M110.2 131.1h0M143.6 132.0h0"/>
<path stroke="#7fccc0" d="M135.7 132.2h0M91.1 122.2h0M208.4 138.3h0M202.2 139.4h0M107.6 130.3h0M174.4 141.7h0M145.4 135.8h0"/>
<path stroke="#6dbfb4" d="M117.2 124.5h0M146.7 128.7h0M172.1 123.9h0M154.0 135.9h0M124.3 133.0h0M96.1 120.2h0"/>
<path stroke="#58b0a7" d="M90.7 121.2h0M75.0 115.9h0M77.5 106.9h0M182.4 140.7h0M114.3 138.3h0M88.0 119.1h0M111.3 127.8h0M129.2 140.8h0M201.6 138.0h0M109.1 122.8h0M191.4 143.8h0M166.9 121.5h0M135.2 128.1h0M114.1 120.6h0"/>
<path stroke="#47a49b" d="M78.0 108.8h0M156.1 134.3h0M147.5 125.9h0M120.7 126.9h0M194.8 147.6h0M144.1 130.0h0M110.6 136.5h0M123.2 138.4h0M154.5 135.8h0M191.3 140.0h0M175.0 149.5h0M86.8 122.7h0M149.9 134.9h0M140.2 139.1h0M179.6 139.1h0M114.7 126.1h0"/>
<path stroke="#35978f" d="M145.0 142.4h0M127.0 129.2h0M110.1 125.1h0M86.6 118.4h0M76.8 114.9h0M137.6 127.1h0M160.9 134.6h0M75.9 120.3h0M119.5 132.8h0M82.5 118.3h0M111.0 127.5h0M209.8 130.5h0M111.9 126.0h0M157.4 134.4h0M85.2 121.3h0M151.6 144.4h0M198.6 142.6h0M189.8 152.5h0M186.9 132.8h0M156.5 123.2h0M116.4 130.1h0M125.4 115.7h0M117.6 124.0h0M185.8 154.4h0M147.0 133.3h0"/>
<path stroke="#278a82" d="M110.9 115.1h0M99.9 118.5h0M146.7 141.0h0M99.2 127.4h0M133.5 129.6h0M95.1 122.2h0M156.5 145.2h0M85.4 140.2h0M87.0 111.4h0M82.5 115.1h0M135.2 138.2h0M204.0 139.4h0M206.0 138.2h0M201.0 133.0h0M101.7 127.7h0M82.9 111.8h0M137.7 126.1h0M206.3 126.6h0M91.7 125.8h0M85.2 111.6h0M146.8 134.3h0M138.9 122.5h0M106.3 123.3h0M146.0 130.1h0M123.5 126.4h0M178.4 137.2h0M75.7 123.8h0M203.7 136.5h0M99.6 124.4h0M97.6 119.5h0M134.2 136.8h0M147.3 126.1h0M105.2 123.8h0M201.6 137.7h0M82.1 113.0h0M193.6 136.1h0M101.2 125.4h0M92.7 128.7h0M127.9 122.7h0M206.1 137.1h0M204.5 138.3h0M128.3 124.1h0M112.5 122.9h0M197.1 138.5h0M121.8 136.3h0M123.6 123.8h0M113.6 130.7h0"/>
<path stroke="#1a7e76" d="M126.1 131.8h0M88.8 128.5h0M182.5 131.9h0M170.9 130.1h0M94.5 125.0h0M75.6 122.8h0M187.7 135.2h0M120.1 127.7h0M134.8 129.5h0M112.0 126.3h0M179.7 131.6h0M185.2 134.2h0M179.9 141.9h0M106.9 119.0h0M120.3 113.7h0M78.5 118.2h0M132.2 119.0h0M108.0 125.5h0M130.1 119.2h0M86.4 116.6h0M194.6 140.2h0M156.2 131.1h0M211.4 133.8h0M154.8 127.6h0M199.6 141.4h0M173.5 145.7h0M164.4 134.2h0M147.3 123.1h0M140.1 129.7h0M171.8 138.0h0M147.5 133.8h0M109.5 119.4h0M154.7 129.6h0M73.1 124.2h0"/>
<path stroke="#0c7169" d="M103.1 113.5h0M131.8 116.8h0M131.5 128.6h0M169.9 143.2h0M76.3 116.1h0M140.6 118.8h0M125.8 134.1h0M162.8 133.0h0M181.1 130.4h0M90.2 117.1h0M102.9 117.5h0M149.0 131.2h0M206.3 147.9h0M124.8 128.8h0M83.3 122.2h0M146.9 127.0h0M204.5 139.2h0M172.8 135.9h0M154.5 128.8h0M99.5 121.4h0M145.5 121.6h0M106.9 117.6h0M117.2 109.8h0M98.0 121.5h0M169.8 146.3h0M100.8 127.0h0M160.0 134.1h0M93.2 121.6h0M183.5 129.4h0M171.7 133.6h0M77.5 105.6h0M116.5 125.6h0M181.2 124.0h0M211.4 138.8h0M131.4 118.3h0M191.5 138.5h0M115.9 130.2h0M159.3 132.0h0M129.8 122.5h0M148.5 129.5h0M158.1 131.8h0M209.2 139.8h0M156.0 122.4h0M77.9 115.2h0M187.1 134.3h0M110.7 129.1h0M172.4 134.6h0M174.8 126.5h0M195.4 144.9h0"/>
<path stroke="#01655d" d="M138.7 135.6h0M111.2 125.8h0M79.4 113.9h0M153.3 127.8h0M145.7 132.5h0M87.0 124.0h0M164.7 135.6h0M194.8 128.5h0M94.3 109.5h0M109.2 125.8h0M201.9 133.4h0M165.7 118.3h0M187.4 133.4h0M151.7 134.8h0M138.5 130.7h0M127.9 119.0h0M128.4 129.6h0M123.8 120.7h0M163.2 133.2h0M158.8 129.7h0M124.7 117.4h0M185.5 134.3h0M209.2 144.0h0M186.0 140.8h0M122.2 138.6h0M169.6 130.6h0M131.5 118.6h0M195.3 133.1h0M130.6 128.9h0M176.0 139.8h0M189.5 125.0h0M169.7 135.8h0M115.2 123.5h0M188.2 142.8h0M84.2 130.7h0M108.8 131.7h0M129.3 128.8h0M138.4 117.7h0M169.7 125.1h0M171.9 126.8h0M110.1 127.7h0M176.2 137.8h0M173.9 124.4h0M189.9 132.8h0M110.2 131.9h0M81.5 107.9h0M75.2 132.0h0M99.7 106.8h0M150.0 129.2h0M130.4 130.6h0M207.7 144.9h0M195.5 141.7h0M167.6 129.5h0M92.2 113.3h0M84.3 119.2h0M154.8 149.4h0M83.3 130.4h0"/>
<path stroke="#015b52" d="M89.3 121.7h0M79.5 125.2h0M101.8 110.8h0M166.9 128.4h0M173.1 136.0h0M82.0 114.3h0M114.5 134.6h0M86.8 130.9h0M121.9 133.6h0M145.1 124.5h0M117.2 121.2h0M93.1 108.7h0M177.5 128.2h0M165.8 135.0h0M199.8 138.5h0M79.7 112.1h0M97.4 113.9h0M206.4 141.1h0M136.0 123.9h0M83.4 120.1h0M123.0 126.1h0M158.9 137.9h0M157.2 133.2h0M95.1 113.3h0M193.7 152.0h0M203.6 142.0h0M175.0 129.6h0M102.2 129.3h0M123.4 119.3h0M193.9 125.9h0M181.3 122.6h0M197.9 146.6h0M171.9 133.1h0M181.0 147.8h0M189.9 139.4h0M89.6 117.2h0M105.0 125.0h0M110.4 120.2h0M80.0 122.6h0M178.8 139.7h0M170.1 133.7h0M184.4 137.8h0M128.4 122.9h0M98.3 113.8h0M182.8 122.6h0"/>
<path stroke="#005046" d="M189.2 146.0h0M111.1 114.5h0M208.1 140.9h0M169.5 132.7h0M201.9 141.2h0M171.3 136.1h0M94.1 131.0h0M194.8 141.0h0M203.1 126.2h0M76.6 111.6h0M98.8 125.8h0M100.9 109.4h0M199.7 141.4h0M114.4 117.8h0M75.2 120.8h0M143.4 134.7h0M151.4 129.1h0M98.8 123.3h0M143.5 124.9h0M165.5 139.1h0M131.6 125.3h0M83.6 123.2h0M137.1 119.9h0M196.5 133.9h0M124.6 115.7h0M165.5 134.1h0M86.4 128.8h0M144.7 132.0h0M144.2 133.6h0M166.4 130.1h0M142.5 135.4h0"/>
<path stroke="#00463b" d="M152.8 131.3h0M173.1 145.2h0M131.6 124.7h0M103.4 124.5h0M81.5 130.7h0M203.3 133.5h0M188.6 139.0h0M206.0 135.3h0M107.4 122.0h0M123.9 114.6h0M124.7 126.6h0M76.0 135.5h0M127.2 125.1h0M124.0 124.6h0M203.6 139.2h0M99.7 119.7h0M139.0 128.8h0M179.9 132.2h0"/>
<path stroke="#003c30" d="M92.0 116.7h0M174.2 140.6h0M76.6 119.3h0M165.1 121.0h0M151.7 120.6h0M127.7 120.9h0M124.8 124.5h0M160.3 132.2h0M172.9 124.8h0M150.7 134.6h0M173.9 128.3h0M100.0 118.5h0M137.5 129.1h0M144.6 124.6h0M206.5 136.3h0M78.7 117.4h0M119.1 124.8h0M99.7 129.2h0M197.0 139.5h0M203.6 127.0h0M89.2 107.6h0M117.3 117.7h0M212.4 130.6h0M117.5 135.5h0M207.6 144.5h0M148.6 126.0h0M168.2 130.8h0M126.7 112.7h0M102.3 123.7h0"/>
<path stroke="#01655d" d="M196.9 133.8h0M190.0 144.4h0M128.0 139.3h0M175.6 138.4h0"/>
<path stroke="#015b52" d="M107.8 130.8h0M93.4 127.4h0M188.1 141.1h0M159.8 129.9h0M198.8 142.3h0M190.1 141.6h0M177.1 137.9h0M203.1 146.5h0M106.2 120.9h0M94.1 126.3h0M205.0 136.9h0M140.8 132.2h0M119.2 130.9h0M195.5 139.8h0"/>
<path stroke="#005046" d="M106.3 131.2h0M102.3 131.6h0M112.1 127.3h0M105.8 121.8h0M204.3 139.1h0M93.0 133.5h0M169.0 134.8h0M172.9 133.1h0M117.2 124.8h0M184.5 141.9h0M196.3 134.8h0M140.3 124.0h0M125.3 127.1h0M160.6 125.8h0M94.3 122.5h0M146.9 136.1h0M164.5 129.3h0M127.1 129.4h0M106.0 124.6h0M182.5 136.5h0M185.6 144.7h0M182.5 137.3h0M190.2 141.3h0M109.9 130.9h0M201.2 134.2h0M109.6 130.6h0M132.8 127.6h0M101.1 128.1h0M119.9 132.5h0M185.3 143.2h0M121.4 133.7h0M162.3 135.9h0M176.0 139.5h0"/>
<path stroke="#00463b" d="M174.0 138.0h0M169.2 138.5h0M98.0 123.4h0M119.0 123.9h0M118.0 122.5h0M189.8 138.2h0M172.1 138.3h0M140.0 133.7h0M190.9 140.2h0M113.6 126.9h0M103.8 134.3h0M104.2 128.7h0M193.6 139.6h0M177.2 139.1h0M96.0 131.5h0M160.7 137.5h0M194.9 136.1h0M104.1 128.2h0M158.7 127.2h0M165.0 133.6h0M192.3 134.2h0M100.3 127.7h0M111.9 127.8h0M184.9 134.5h0M175.4 138.1h0M165.1 135.8h0M175.1 140.3h0M118.3 132.3h0M165.9 135.4h0M154.4 132.5h0M185.4 136.9h0M141.8 126.8h0M155.0 132.0h0M144.8 137.4h0M122.7 132.0h0M175.3 138.7h0M195.0 148.2h0M185.2 141.7h0M149.1 135.1h0M184.2 131.9h0M131.9 137.0h0M156.2 131.0h0M119.7 128.5h0M149.0 125.9h0M153.8 131.8h0M131.6 132.8h0M169.3 132.8h0M193.3 147.4h0M138.0 137.7h0M135.4 127.2h0M146.1 135.8h0M193.2 134.0h0M111.2 123.7h0"/>
<path stroke="#003c30" d="M128.0 123.9h0M167.8 142.1h0M122.7 133.2h0M101.2 125.4h0M180.0 141.9h0M175.2 128.2h0M188.2 138.7h0M156.6 129.3h0M169.5 142.6h0M121.6 131.7h0M177.7 135.7h0M186.8 134.0h0M146.3 136.5h0M109.9 122.4h0M117.9 129.6h0M201.3 141.3h0M138.6 128.7h0M194.4 145.4h0M103.8 125.8h0M152.3 139.3h0M146.4 128.1h0M100.0 120.3h0M173.3 137.1h0M127.9 125.6h0M163.6 143.5h0M168.1 135.0h0M127.6 115.8h0M161.7 141.3h0M172.2 136.6h0M148.9 124.2h0M167.0 131.4h0M191.4 140.0h0M114.0 133.6h0M105.4 128.2h0M128.3 126.1h0M124.8 129.7h0M200.4 135.4h0M161.4 138.4h0M182.1 127.8h0M100.9 124.6h0M90.7 124.7h0M158.9 128.6h0M99.7 128.8h0M158.3 146.2h0M112.9 129.4h0M186.0 138.7h0M142.5 130.8h0M190.6 137.0h0M199.7 145.1h0M150.3 126.7h0M184.2 134.3h0M104.6 124.8h0M107.4 122.2h0M104.3 134.1h0M114.1 131.3h0M176.4 144.4h0M147.0 131.3h0M159.2 136.2h0M103.0 133.5h0M99.9 133.5h0M153.9 129.4h0M150.3 136.9h0M116.1 129.0h0M186.6 136.7h0M115.3 130.3h0M137.9 129.7h0M185.7 129.1h0M146.5 126.6h0M97.2 127.6h0M102.2 127.0h0M177.9 143.5h0M168.5 130.8h0M196.1 148.1h0M196.6 141.8h0M100.7 124.8h0M163.8 136.7h0M191.8 135.6h0M150.2 135.2h0M123.3 123.5h0M147.9 137.2h0M161.2 131.8h0M120.9 129.9h0M102.1 125.3h0M143.1 131.4h0M163.7 135.0h0M183.4 140.5h0M118.7 123.5h0M167.7 135.9h0M125.7 128.1h0M197.6 141.3h0M158.4 133.6h0M184.2 131.9h0M202.1 147.5h0M150.4 126.7h0M107.3 117.6h0M147.4 134.1h0M202.4 143.7h0M191.1 138.9h0M112.2 121.7h0M117.0 136.1h0M201.6 133.1h0M138.2 141.6h0M169.3 128.6h0M145.2 130.9h0M182.5 135.8h0M154.3 135.7h0M120.8 124.3h0M157.7 126.8h0M194.4 136.3h0M133.3 130.3h0M129.1 133.8h0M99.4 126.7h0M178.0 134.0h0M159.0 135.1h0M182.6 139.6h0M184.6 140.3h0M165.4 134.0h0M104.6 129.1h0M145.3 127.3h0M136.1 127.2h0M145.7 132.7h0M105.1 123.4h0M150.5 131.4h0M182.3 143.7h0M98.7 120.9h0M203.9 146.3h0M96.8 121.0h0M177.8 126.2h0M132.0 125.8h0M136.6 135.1h0M97.6 125.9h0M148.8 135.2h0M102.8 121.3h0M165.5 142.9h0M133.2 132.7h0M151.3 130.8h0M165.4 132.7h0M165.4 137.4h0M92.8 120.3h0M103.7 129.5h0M109.9 131.1h0M202.8 144.3h0M173.9 138.3h0M140.5 132.0h0M133.3 129.5h0M186.5 136.5h0M185.7 139.7h0M115.5 132.1h0M176.3 148.2h0M185.8 137.6h0M111.0 133.3h0M113.8 132.3h0M115.6 136.7h0M145.3 125.4h0M154.9 134.1h0M177.8 140.2h0M141.4 131.9h0M203.7 133.7h0M152.9 136.2h0M138.6 131.0h0M182.1 133.8h0M203.9 138.2h0M113.0 128.8h0M135.3 135.0h0M151.6 125.1h0M153.2 133.8h0M196.2 143.6h0M96.2 119.4h0M138.1 136.0h0M168.8 133.6h0M113.2 127.6h0M191.1 131.0h0M105.8 129.8h0M144.3 124.9h0M185.2 140.5h0M134.2 132.9h0M160.9 136.5h0M176.4 133.7h0M98.3 135.0h0M154.8 142.7h0M150.4 132.5h0M162.7 135.3h0M136.6 137.3h0M171.3 125.7h0M100.3 131.2h0M116.8 133.5h0M154.1 137.7h0M94.4 123.5h0M139.9 136.6h0M107.9 132.7h0M164.1 127.9h0M190.8 138.2h0M160.1 136.2h0M180.2 138.7h0M172.6 137.0h0M107.9 128.1h0"/>
<path stroke="#003c30" d="M146.2 135.2h0M163.1 135.9h0M135.8 127.8h0M159.8 144.4h0M115.7 129.0h0M164.3 146.5h0M157.9 134.0h0M164.2 150.8h0M159.6 142.1h0M187.9 136.4h0M167.9 147.6h0M172.9 142.2h0M147.8 134.1h0M129.7 131.2h0M131.7 133.5h0M150.5 134.4h0M146.3 136.9h0M129.9 136.8h0M157.0 141.3h0M147.9 135.9h0M156.8 139.0h0M147.0 135.1h0M144.5 134.5h0M140.7 131.7h0M134.2 141.2h0M141.5 135.2h0M135.4 135.4h0M178.0 138.6h0M157.2 138.2h0M170.7 140.5h0M152.6 136.6h0M116.6 136.3h0M186.3 139.7h0M170.7 141.0h0M182.5 140.6h0M162.1 146.0h0M165.3 141.2h0M155.0 135.5h0M158.8 134.5h0M186.3 146.8h0M154.2 131.1h0M174.7 148.6h0M163.8 144.5h0M172.8 141.7h0M151.4 138.7h0M180.3 140.5h0M127.1 134.4h0M158.7 139.0h0M160.7 134.1h0M140.7 134.3h0M154.5 141.0h0M169.5 142.2h0M154.3 133.8h0M148.4 129.9h0M142.1 138.2h0M166.9 135.7h0M179.1 131.5h0M165.2 140.2h0M151.9 139.8h0M145.7 147.5h0M146.8 135.3h0M162.4 130.3h0M153.7 131.4h0M180.4 140.4h0M153.9 129.6h0M189.7 136.1h0M128.1 129.9h0M113.5 124.5h0M145.5 141.5h0M175.7 136.1h0M142.9 139.1h0M176.5 137.8h0M148.9 136.9h0M156.6 137.1h0M187.4 142.7h0M175.7 144.3h0M218.8 156.5h0M117.8 134.7h0M114.8 137.6h0M150.4 127.1h0M135.7 133.0h0M180.9 143.1h0M163.5 136.3h0M145.8 129.1h0M146.0 134.9h0M152.3 133.2h0M148.8 134.3h0M157.4 134.9h0M141.3 130.7h0M138.8 133.1h0M131.0 139.2h0M170.3 141.8h0M166.6 133.4h0M139.6 132.3h0M155.0 141.2h0M168.6 132.6h0M149.3 141.8h0M146.0 138.0h0M119.5 131.3h0M148.0 126.4h0M165.2 145.8h0M167.1 137.8h0M149.4 133.2h0M162.6 141.0h0M178.6 141.5h0M169.3 138.8h0M138.2 134.4h0M136.1 129.9h0M165.0 142.6h0M137.4 129.9h0M148.2 132.5h0M164.9 137.5h0M127.0 128.2h0M157.3 147.7h0M161.9 131.8h0M133.6 134.3h0M147.5 136.6h0M189.7 138.3h0M132.3 133.0h0M151.3 137.6h0M166.5 139.2h0M170.8 140.9h0M159.6 129.7h0M134.9 131.8h0M163.9 135.7h0M133.5 129.8h0M184.8 135.3h0M155.4 137.6h0M177.7 144.7h0M144.4 139.6h0M176.2 139.4h0M121.0 125.6h0M153.4 132.2h0M153.1 142.6h0M153.7 147.8h0M150.2 130.7h0M154.5 142.2h0M125.2 134.4h0M182.9 143.4h0M187.6 135.9h0M163.9 130.9h0M120.0 124.1h0M171.4 141.8h0M178.8 137.5h0M118.9 135.3h0M139.7 127.3h0M165.3 144.3h0M136.8 134.9h0M162.8 134.2h0M135.8 135.4h0M183.7 137.7h0M166.7 142.4h0M155.8 136.7h0M135.5 137.4h0M152.0 124.7h0M159.1 134.4h0M147.8 146.3h0M160.5 128.2h0M144.8 130.1h0M174.2 124.5h0M163.0 139.2h0M144.9 137.9h0M188.6 134.2h0M142.3 135.2h0M153.1 136.0h0M161.6 139.5h0M145.9 126.8h0M164.7 146.8h0M175.6 143.6h0M177.7 134.5h0M168.8 142.1h0M151.4 143.1h0M150.7 135.3h0M135.6 125.4h0M143.3 144.7h0M190.5 141.2h0M155.6 145.8h0M134.1 132.1h0M124.9 140.8h0M141.6 133.8h0M153.7 133.4h0M202.9 152.3h0M197.0 135.1h0M169.2 139.7h0M132.1 134.5h0M185.0 149.4h0M141.3 153.4h0M178.0 138.2h0M138.8 132.2h0M153.8 135.5h0M141.5 140.9h0M142.3 136.9h0M143.4 135.2h0M179.2 143.0h0M171.4 141.1h0M178.2 142.6h0M179.9 136.4h0M177.8 145.0h0M138.3 132.2h0M116.6 130.4h0M159.7 136.6h0M178.0 131.4h0M151.8 131.4h0M143.9 140.7h0M153.0 145.5h0M148.0 133.6h0M150.2 129.7h0M137.0 134.6h0M173.3 136.1h0M137.1 126.6h0M125.5 132.3h0M153.3 139.1h0M146.3 141.5h0M117.8 130.9h0M165.3 137.7h0M161.1 137.6h0M144.8 136.7h0M139.6 134.8h0M165.4 133.9h0M165.1 145.5h0"/>
<path stroke="#005046" d="M208.7 143.3h0"/>
<path stroke="#00463b" d="M230.9 137.3h0M205.2 136.6h0M210.5 149.4h0M188.2 144.2h0M216.0 130.2h0M196.7 139.8h0"/>
<path stroke="#003c30" d="M191.5 139.6h0M210.6 143.1h0M197.6 141.0h0M202.6 141.9h0M205.5 142.5h0M190.0 140.5h0M201.2 128.8h0M217.8 140.4h0M198.0 144.2h0M211.3 130.8h0M185.4 133.9h0M215.6 131.8h0M188.3 139.6h0"/>
</g>
<line x1="78.5" y1="103.7" x2="311.4" y2="201.8" stroke="#000" stroke-width="1.9"/>
<g clip-path="url(#c1)" stroke-linecap="round" stroke-width="3.50" fill="none">
<path stroke="#c79040" d="M546.1 190.0h0"/>
<path stroke="#d7b169" d="M547.2 198.8h0"/>
<path stroke="#dec17b" d="M545.3 210.4h0M530.8 201.1h0"/>
<path stroke="#e5cc8f" d="M535.7 158.2h0"/>
<path stroke="#ead59f" d="M531.5 206.1h0"/>
<path stroke="#f1dfb3" d="M552.9 189.7h0"/>
<path stroke="#f6e8c3" d="M526.7 213.0h0M544.7 181.3h0"/>
<path stroke="#f6ebcf" d="M562.3 208.5h0M558.2 221.5h0M549.1 192.9h0M550.0 209.3h0M565.0 237.3h0M550.7 204.8h0M549.2 195.0h0"/>
<path stroke="#f5efdc" d="M549.3 212.0h0M541.1 216.6h0M550.2 199.2h0"/>
<path stroke="#f5f2e8" d="M526.6 188.0h0M537.4 202.7h0"/>
<path stroke="#f4f5f5" d="M542.5 206.0h0"/>
<path stroke="#995d13" d="M500.4 189.3h0M477.0 203.4h0"/>
<path stroke="#a5691b" d="M483.6 172.3h0M505.3 186.1h0M474.9 186.6h0M473.6 145.9h0M509.2 168.2h0"/>
<path stroke="#b17423" d="M497.4 121.8h0M484.6 160.2h0M463.3 190.9h0M476.5 174.5h0M505.8 171.6h0M499.2 183.0h0M484.1 169.6h0M505.4 158.6h0M450.7 177.3h0M528.1 153.3h0M484.4 169.2h0M470.2 186.4h0M483.7 178.2h0M482.1 178.8h0"/>
<path stroke="#bf812d" d="M485.4 165.4h0M503.4 147.3h0M510.6 181.0h0M477.9 176.6h0M498.6 178.6h0M496.2 147.0h0M501.9 157.0h0M473.1 177.5h0M508.6 163.8h0M490.7 140.9h0M462.4 191.4h0M455.4 198.0h0M490.7 187.2h0M496.0 190.1h0M472.4 214.4h0M468.6 185.7h0M487.0 159.6h0M473.2 158.1h0M491.0 161.5h0M513.2 173.7h0M497.2 162.7h0M485.2 165.5h0M489.2 174.0h0M485.3 202.0h0M510.6 147.4h0M493.7 180.6h0M485.1 168.0h0M484.5 175.6h0M470.7 183.3h0M487.1 181.5h0M434.2 223.1h0M535.1 135.5h0M505.4 142.7h0M486.5 169.6h0M517.3 154.4h0M504.8 184.4h0M484.0 171.3h0M500.0 159.7h0M505.9 153.9h0M492.8 166.5h0M493.2 171.6h0M522.2 165.8h0M491.5 199.2h0M512.9 179.0h0M513.3 185.7h0M461.1 181.5h0M522.6 176.8h0M464.4 189.6h0"/>
<path stroke="#c79040" d="M480.3 232.1h0M491.9 168.8h0M488.8 182.4h0M495.6 173.7h0M522.2 182.2h0M488.4 163.3h0M480.8 156.9h0M521.2 186.4h0M478.7 206.0h0M469.0 187.4h0M499.2 165.2h0M443.5 210.0h0M476.2 191.5h0M467.3 176.2h0M517.7 170.2h0M496.6 199.0h0M486.2 158.9h0M480.2 180.2h0M498.6 205.5h0M481.4 159.7h0M473.5 186.7h0M522.1 158.4h0M516.4 178.6h0M470.8 181.5h0M473.9 174.2h0M491.7 193.0h0M498.1 170.1h0M530.0 169.0h0M527.1 133.5h0M500.6 195.2h0M480.3 158.2h0M516.0 154.0h0M469.8 175.2h0M483.6 198.4h0M488.7 181.5h0M477.0 170.4h0M496.3 172.3h0M480.6 178.1h0M486.4 174.2h0M485.5 181.2h0M470.3 171.5h0M463.3 168.2h0M485.3 148.0h0M445.2 215.2h0M438.5 193.8h0M504.1 158.4h0M479.0 161.8h0M507.9 162.4h0M503.2 154.4h0M498.9 173.9h0M477.5 184.5h0M481.8 152.5h0M478.8 170.0h0M477.5 223.9h0M482.1 195.2h0M483.7 150.7h0M507.8 149.0h0M483.0 164.3h0M484.3 183.0h0M470.1 175.7h0M499.4 168.0h0M478.9 155.5h0M463.2 205.2h0"/>
<path stroke="#cfa256" d="M487.1 157.8h0M522.5 153.8h0M483.2 184.9h0M478.6 182.9h0M487.4 218.8h0M516.1 148.5h0M511.4 182.4h0M489.0 183.0h0M464.5 181.9h0M467.1 199.5h0M472.2 176.9h0M492.2 189.0h0M528.0 158.2h0M491.1 161.9h0M486.9 176.9h0M495.4 171.2h0M491.1 194.0h0M465.3 181.3h0M502.5 202.4h0M490.1 166.8h0M511.5 178.0h0M508.1 175.6h0M472.3 158.7h0M490.6 173.1h0M510.8 156.5h0M504.2 184.7h0M488.4 157.1h0M502.7 157.3h0M496.7 120.7h0M494.5 168.7h0M512.3 165.3h0M464.5 199.4h0M470.3 188.2h0M507.5 169.1h0M483.6 189.7h0M492.0 153.4h0M486.3 184.7h0M481.4 161.8h0M497.9 170.1h0M475.9 201.5h0M483.2 197.5h0M464.1 201.5h0M502.4 172.8h0M453.2 214.3h0M517.3 146.1h0M472.0 156.3h0M495.0 201.9h0M484.8 192.8h0M486.7 190.0h0M505.6 167.1h0M480.8 177.8h0M484.4 179.6h0M477.6 164.3h0M502.4 177.3h0M496.2 194.6h0M478.6 199.3h0M501.1 153.2h0M509.5 151.4h0M499.5 161.1h0"/>
<path stroke="#d7b169" d="M479.9 149.6h0M482.8 161.2h0M447.7 202.7h0M496.8 186.3h0M471.6 184.7h0M491.7 191.7h0M491.3 177.2h0M479.6 173.4h0M454.5 167.9h0M499.4 128.3h0M493.7 151.2h0M469.7 217.3h0M501.6 196.5h0M472.6 191.8h0M489.8 146.2h0M494.9 181.1h0M499.6 176.2h0M490.2 180.0h0M508.2 170.1h0M490.8 185.4h0M527.0 138.1h0M473.6 210.5h0M495.1 175.0h0M494.9 194.1h0M495.6 175.2h0M500.7 164.4h0M498.7 157.1h0M485.3 151.4h0M492.8 175.6h0M497.4 194.6h0M490.4 180.3h0M504.1 166.2h0M484.3 165.3h0M474.7 206.4h0M519.1 173.5h0M471.8 205.0h0M485.9 171.1h0M499.6 196.9h0M452.8 177.5h0M472.0 176.6h0M492.9 184.3h0M484.6 213.8h0"/>
<path stroke="#dec17b" d="M483.0 201.1h0M494.2 160.9h0M504.8 169.7h0M482.0 191.2h0M493.8 173.7h0M491.9 151.1h0M489.3 196.5h0M519.7 155.7h0M527.6 149.6h0M477.1 205.2h0"/>
<path stroke="#e5cc8f" d="M477.0 165.4h0M489.7 167.5h0M495.2 165.7h0M501.4 155.1h0M489.1 190.1h0M522.5 162.4h0M502.6 162.3h0"/>
<path stroke="#995d13" d="M462.0 176.9h0M459.7 172.0h0"/>
<path stroke="#a5691b" d="M475.7 165.7h0"/>
<path stroke="#b17423" d="M468.6 179.5h0M457.5 176.2h0M468.1 175.1h0M466.8 170.3h0M464.8 176.1h0M454.2 161.3h0M468.4 165.1h0M472.2 187.6h0M465.1 176.8h0M450.6 166.2h0M467.4 189.7h0M458.5 180.5h0"/>
<path stroke="#bf812d" d="M449.3 166.8h0M456.9 171.2h0M443.1 171.6h0M456.3 173.2h0M477.2 168.8h0M459.6 172.6h0M470.2 174.8h0"/>
<path stroke="#c79040" d="M449.8 160.1h0M470.1 173.0h0M471.6 180.3h0M456.9 162.3h0M463.6 177.7h0M450.2 181.2h0M455.2 182.1h0M458.3 164.1h0M468.1 181.9h0M446.3 163.0h0M475.4 186.9h0M453.6 184.9h0M456.1 161.7h0M466.9 175.6h0M464.2 171.9h0M466.3 172.8h0M463.5 185.9h0"/>
<path stroke="#cfa256" d="M458.1 174.2h0M468.4 158.2h0M461.7 161.1h0M468.0 164.5h0M476.6 180.1h0M447.2 175.8h0M452.9 183.0h0M479.8 169.1h0M467.2 166.5h0M456.6 176.5h0"/>
<path stroke="#d7b169" d="M455.2 185.7h0M473.5 166.4h0M454.9 186.2h0M458.6 159.0h0M455.3 178.2h0M471.3 158.5h0M449.8 174.5h0"/>
<path stroke="#dec17b" d="M466.1 179.7h0M462.4 171.1h0M459.0 178.1h0M464.3 165.7h0"/>
<path stroke="#c79040" d="M495.8 200.0h0M487.3 184.4h0"/>
<path stroke="#cfa256" d="M483.1 197.8h0M495.3 187.7h0M506.8 214.6h0M495.4 185.6h0M478.5 211.9h0M496.9 199.8h0M476.4 214.1h0M496.5 188.9h0"/>
<path stroke="#d7b169" d="M498.6 188.5h0M503.1 206.1h0M491.0 196.8h0M508.8 207.4h0M503.5 193.2h0M489.8 206.5h0M501.4 173.2h0M506.2 194.5h0M494.1 204.1h0M497.4 212.5h0M482.6 203.4h0M489.8 192.5h0"/>
<path stroke="#dec17b" d="M490.7 210.5h0M503.3 187.1h0M484.8 201.1h0M494.6 201.4h0M495.7 209.7h0M488.2 201.3h0M507.5 195.6h0M510.9 195.2h0M481.8 196.7h0M502.6 215.3h0M487.3 224.0h0M514.5 180.7h0M499.6 199.5h0M496.7 179.0h0M492.8 194.7h0M508.7 192.1h0M495.3 180.3h0M497.1 199.5h0"/>
<path stroke="#e5cc8f" d="M490.3 206.1h0M487.7 204.5h0M497.5 181.4h0M502.5 207.1h0M494.0 216.2h0M496.1 190.9h0M488.0 208.9h0M493.1 184.5h0M489.8 214.3h0M490.1 197.4h0M476.5 219.6h0M495.8 194.7h0M502.9 202.8h0M485.8 199.5h0M482.5 193.5h0"/>
<path stroke="#ead59f" d="M492.8 207.9h0M499.3 197.0h0M500.1 180.6h0M496.5 184.5h0M488.2 208.7h0"/>
<path stroke="#a5691b" d="M450.6 224.9h0M469.7 214.7h0M465.0 224.6h0"/>
<path stroke="#b17423" d="M471.8 221.5h0M449.2 234.4h0M462.2 224.0h0"/>
<path stroke="#bf812d" d="M466.1 220.3h0M457.2 226.6h0M457.8 219.8h0M450.9 230.9h0M465.5 224.6h0M448.0 234.9h0M461.5 226.8h0M453.4 223.7h0M458.5 219.0h0M463.1 216.7h0M453.0 231.3h0M466.6 217.7h0M459.7 222.0h0"/>
<path stroke="#c79040" d="M481.8 215.8h0M461.7 227.8h0M464.8 223.4h0M444.3 231.4h0M459.7 227.6h0M460.8 222.9h0M452.7 225.3h0M452.2 228.5h0M473.0 217.7h0M453.2 228.1h0M471.8 216.4h0M462.8 221.9h0M466.8 222.0h0M463.6 213.9h0M466.2 220.5h0M455.5 222.5h0"/>
<path stroke="#cfa256" d="M467.9 218.1h0M450.6 228.0h0M452.8 224.6h0M469.6 220.6h0M456.1 227.2h0M464.6 222.1h0M461.0 219.9h0M456.6 223.4h0M461.5 220.8h0M462.2 221.5h0M459.5 229.0h0"/>
<path stroke="#d7b169" d="M461.6 221.5h0M470.6 220.8h0M459.9 222.8h0M465.9 221.8h0M458.1 223.6h0M451.8 225.1h0"/>
<path stroke="#dec17b" d="M460.8 221.8h0M464.7 218.0h0"/>
<path stroke="#e5cc8f" d="M460.2 217.1h0"/>
<path stroke="#995d13" d="M516.2 116.1h0"/>
<path stroke="#b17423" d="M507.9 129.5h0M463.5 134.4h0M505.6 116.4h0M507.2 116.7h0"/>
<path stroke="#bf812d" d="M496.5 129.9h0M510.4 105.0h0M512.8 107.9h0M521.2 127.9h0M484.2 118.9h0M516.3 139.5h0M514.0 106.7h0"/>
<path stroke="#c79040" d="M514.6 124.0h0M504.0 122.0h0M515.7 112.3h0M506.1 127.1h0M499.1 126.6h0M507.5 119.1h0M502.8 131.5h0M508.9 118.9h0M514.3 100.1h0M507.4 112.7h0"/>
<path stroke="#cfa256" d="M528.1 96.1h0M495.6 106.6h0M528.6 108.2h0M502.4 117.6h0M509.6 102.8h0M507.9 109.1h0M517.4 117.9h0M501.8 102.1h0M478.3 138.3h0M487.0 120.9h0M508.6 118.0h0M501.4 137.2h0M485.0 121.6h0M504.2 132.7h0M511.7 115.3h0M533.0 102.5h0M508.9 112.5h0M525.3 101.2h0M506.4 119.3h0M530.5 100.7h0M514.2 111.5h0M501.7 104.8h0"/>
<path stroke="#d7b169" d="M485.6 139.2h0M486.3 129.8h0M508.5 115.7h0M494.5 141.1h0M497.9 126.7h0M522.9 86.5h0M503.2 119.7h0M498.6 122.0h0M517.5 97.5h0M490.3 120.3h0M506.2 125.5h0M511.2 124.6h0M537.4 123.3h0M477.7 148.0h0M502.3 117.5h0M516.7 130.3h0M520.6 124.4h0M512.4 112.6h0M518.5 103.0h0M501.9 137.7h0M511.7 132.3h0M507.4 106.1h0"/>
<path stroke="#dec17b" d="M509.6 96.8h0M473.8 134.8h0M495.4 137.1h0M499.2 125.9h0M512.0 122.1h0M502.9 127.5h0M504.2 102.8h0M515.4 107.1h0M498.9 151.1h0M505.7 120.3h0M486.1 106.9h0M498.6 126.5h0M507.2 131.7h0M521.8 115.5h0M478.6 123.9h0M528.7 103.1h0M511.6 102.9h0M503.7 119.2h0M525.3 100.0h0M510.3 103.8h0M486.7 131.3h0M498.7 132.7h0M503.6 129.8h0M478.0 121.9h0M475.3 123.0h0M488.1 118.2h0M529.1 103.5h0M500.6 126.6h0M514.1 104.7h0M518.6 120.6h0M513.2 121.1h0M516.8 118.4h0M508.4 127.9h0"/>
<path stroke="#e5cc8f" d="M512.5 121.0h0M513.5 101.6h0M503.1 123.1h0M527.7 112.2h0M538.9 97.8h0M513.1 115.3h0M489.6 127.6h0M503.7 128.1h0M487.5 110.4h0M490.6 138.7h0M490.7 134.3h0M503.8 127.1h0M510.1 120.0h0M502.0 136.2h0M497.1 127.3h0M479.7 113.8h0M501.2 107.6h0M513.5 126.9h0M516.3 106.1h0M511.1 93.1h0M512.9 125.9h0M504.1 124.0h0M511.9 115.6h0M500.7 117.2h0M496.2 139.5h0M537.0 109.5h0M502.2 120.8h0M527.1 107.9h0M507.7 99.0h0M511.4 118.1h0M492.3 123.1h0M506.4 129.6h0M488.7 123.3h0M468.2 119.4h0M488.4 129.3h0M508.7 132.2h0M479.7 148.4h0M499.6 123.4h0M476.0 142.7h0M495.0 123.0h0"/>
<path stroke="#ead59f" d="M507.7 118.5h0M496.2 113.2h0M515.6 105.3h0M494.2 120.8h0M508.4 127.4h0M504.8 127.4h0M498.5 121.5h0M490.7 144.3h0M529.8 108.3h0M499.5 115.4h0M505.3 110.7h0M508.9 122.8h0M505.7 131.1h0M525.5 114.0h0M480.8 129.6h0M495.5 110.4h0M513.2 121.1h0M500.0 126.5h0M497.7 133.9h0M485.8 149.4h0M481.8 138.2h0M534.9 101.1h0M506.3 106.8h0M489.7 130.1h0M513.9 113.8h0M487.8 113.7h0M493.2 140.3h0M509.4 110.2h0M504.8 124.5h0M492.9 117.5h0M500.0 129.9h0M484.3 126.6h0M506.2 122.3h0"/>
<path stroke="#f1dfb3" d="M493.8 102.9h0M527.8 96.7h0M496.6 114.7h0M511.5 114.7h0M499.2 114.9h0M514.9 113.2h0M508.9 107.9h0M514.5 121.6h0M480.6 110.8h0M492.2 129.7h0M488.8 115.4h0M507.3 108.7h0M502.7 114.7h0M527.8 109.7h0M505.8 131.8h0M509.3 113.5h0M516.6 126.9h0M506.3 133.4h0M506.8 122.9h0M503.1 122.5h0M511.4 107.4h0M508.3 115.1h0M490.5 120.1h0M468.0 153.5h0"/>
<path stroke="#f6e8c3" d="M539.6 102.2h0M494.4 133.7h0M524.1 118.9h0M485.6 123.6h0M503.1 118.3h0M500.2 97.5h0M492.7 125.8h0M508.2 126.3h0M489.7 139.1h0M493.8 139.5h0M488.5 135.3h0M512.4 123.7h0M509.5 121.1h0M492.0 147.2h0M539.0 102.4h0M516.8 119.5h0M479.5 139.0h0M531.7 106.4h0M503.8 121.6h0M490.9 132.6h0M516.0 100.3h0M516.0 112.6h0"/>
<path stroke="#f6ebcf" d="M494.7 120.5h0M528.0 104.9h0M520.4 113.2h0M497.5 118.9h0M513.9 118.3h0M521.3 113.7h0M523.6 119.2h0M487.7 131.8h0M479.1 143.2h0M506.0 118.0h0M490.6 126.9h0"/>
<path stroke="#f5efdc" d="M490.9 122.6h0M506.1 118.3h0M519.4 136.7h0M505.8 123.2h0M473.2 128.2h0M490.6 124.2h0M520.8 108.9h0M512.5 130.0h0M513.8 121.1h0"/>
<path stroke="#f5f2e8" d="M506.1 126.8h0M489.9 119.4h0"/>
<path stroke="#995d13" d="M557.6 131.4h0M585.2 127.7h0M513.2 142.1h0"/>
<path stroke="#a5691b" d="M546.5 124.4h0M525.8 139.6h0M571.3 133.7h0M534.0 134.4h0M540.2 138.5h0M551.5 145.8h0M530.2 141.1h0"/>
<path stroke="#b17423" d="M531.5 138.4h0M537.5 137.9h0M543.4 149.3h0M544.2 139.2h0M518.0 159.3h0M539.2 140.5h0M537.9 140.8h0M541.3 136.4h0M518.8 138.8h0M513.0 137.0h0M528.2 138.1h0M549.7 144.2h0M546.2 137.2h0M533.1 135.2h0M541.6 138.5h0M522.4 143.9h0M551.3 142.9h0M507.7 142.5h0"/>
<path stroke="#bf812d" d="M553.3 136.4h0M530.5 150.5h0M553.7 131.5h0M543.2 132.5h0M534.0 141.1h0M532.7 148.1h0M526.7 149.1h0M530.8 146.2h0M523.3 154.0h0M531.0 134.1h0M519.6 151.6h0M524.5 155.1h0M535.7 150.7h0M537.0 147.6h0M542.8 144.0h0M527.0 148.0h0M533.4 145.4h0M533.2 139.5h0M525.9 137.3h0M526.6 147.3h0M528.6 146.2h0M540.6 129.7h0M504.8 157.5h0M507.4 148.6h0M552.4 138.1h0M518.4 145.8h0M545.5 142.9h0M523.2 146.2h0M536.4 138.6h0M525.7 142.4h0M539.7 142.6h0M538.8 137.5h0M524.2 138.5h0M561.3 142.8h0M532.3 135.8h0M554.2 140.9h0M523.1 147.6h0M546.9 140.0h0M553.1 150.2h0M531.1 147.1h0M519.5 132.2h0M529.7 141.9h0M519.8 136.4h0M525.7 139.6h0M531.6 137.1h0M556.4 136.8h0M548.6 141.9h0M529.5 127.9h0M549.5 134.3h0M532.1 135.3h0M561.6 148.8h0M517.4 132.6h0M542.8 143.5h0M548.0 148.7h0M557.2 147.2h0M529.7 143.6h0"/>
<path stroke="#c79040" d="M532.0 146.8h0M544.5 148.9h0M538.0 147.8h0M511.3 154.6h0M536.0 145.4h0M539.7 122.3h0M537.3 146.6h0M542.0 145.3h0M518.0 146.2h0M569.5 152.3h0M553.9 145.7h0M507.3 155.4h0M523.0 154.2h0M539.2 134.8h0M541.0 154.8h0M540.8 148.4h0M551.5 144.7h0M539.1 144.8h0M536.8 148.3h0M538.4 137.5h0M557.2 141.3h0M534.8 142.3h0M557.9 140.0h0M505.8 151.1h0M542.8 140.9h0M536.2 145.4h0M519.7 140.6h0M527.6 143.0h0M550.3 140.2h0M544.9 132.3h0M541.8 145.1h0M511.4 153.5h0M531.0 143.5h0M546.4 133.3h0M525.9 140.8h0M540.0 141.4h0M526.8 145.4h0M536.0 126.6h0M555.9 146.7h0M552.8 140.1h0M523.8 142.6h0M532.3 143.5h0M534.7 143.3h0M527.3 136.6h0M540.1 136.4h0M527.1 150.3h0M528.3 145.3h0M546.8 135.1h0M518.7 136.3h0M514.6 142.8h0M527.7 126.8h0M528.3 144.3h0M552.2 140.5h0M524.1 144.3h0M541.8 140.5h0M554.3 137.0h0M563.6 139.7h0M519.2 137.2h0M519.2 145.6h0M507.1 137.2h0M541.6 133.5h0M535.6 138.9h0M544.8 147.6h0M524.8 149.7h0M547.9 137.5h0"/>
<path stroke="#cfa256" d="M529.3 148.9h0M533.3 148.1h0M531.1 139.2h0M531.6 155.2h0M538.8 137.1h0M525.1 149.2h0M534.6 154.6h0M540.1 141.0h0M525.4 153.2h0M568.1 134.9h0M532.7 150.1h0M530.2 147.7h0M532.0 134.4h0M546.8 146.5h0M528.5 138.4h0M534.8 132.5h0M538.1 144.6h0M532.3 152.2h0M547.1 139.3h0M530.4 150.3h0M519.4 142.4h0M553.6 148.1h0M539.0 137.1h0M522.4 143.2h0M527.4 132.5h0M539.8 140.7h0M529.6 149.6h0M530.1 140.6h0M534.3 153.7h0M538.1 133.4h0M535.8 134.9h0M553.5 146.2h0M523.7 138.4h0M530.0 157.3h0M555.0 136.4h0M546.1 144.1h0M527.1 137.0h0M535.2 140.0h0M538.2 139.7h0M525.6 142.8h0M535.7 138.3h0M539.7 147.9h0M537.9 139.6h0M550.0 134.2h0M546.2 132.8h0M557.3 132.4h0M517.5 145.0h0M535.8 142.6h0M546.1 136.3h0M536.5 137.1h0M530.1 142.0h0"/>
<path stroke="#d7b169" d="M540.1 155.1h0M534.9 141.9h0M530.8 151.9h0M560.4 137.8h0M543.3 140.1h0M555.2 130.7h0M539.8 133.0h0M537.2 140.3h0M532.8 145.8h0M534.0 147.5h0M564.0 128.3h0M540.2 142.5h0M554.0 137.3h0M550.6 135.9h0M533.9 134.8h0M555.8 143.7h0M535.2 139.2h0M540.1 145.1h0M546.1 131.9h0M529.4 151.2h0M530.2 146.2h0M557.1 141.5h0M533.1 148.7h0M525.3 142.1h0"/>
<path stroke="#dec17b" d="M531.5 145.4h0M527.4 153.7h0M533.4 144.5h0M549.5 141.2h0M536.7 134.8h0M527.9 142.6h0"/>
<path stroke="#d7b169" d="M494.1 99.7h0M496.7 98.5h0"/>
<path stroke="#dec17b" d="M498.1 95.1h0M505.1 101.0h0M500.5 97.6h0M490.1 97.5h0"/>
<path stroke="#e5cc8f" d="M497.3 97.6h0M485.0 96.1h0M495.7 103.4h0M493.3 96.1h0M499.7 98.7h0M488.0 99.8h0M490.9 99.1h0M495.6 97.4h0"/>
<path stroke="#ead59f" d="M493.1 97.8h0M502.4 97.3h0M493.4 97.0h0"/>
<path stroke="#f6e8c3" d="M491.1 96.3h0"/>
<path stroke="#b17423" d="M590.3 109.7h0M587.9 112.2h0"/>
<path stroke="#bf812d" d="M579.8 107.4h0M604.3 115.2h0M615.7 115.0h0M585.7 111.3h0M607.8 119.0h0M592.0 116.3h0M614.9 111.0h0M587.7 103.3h0"/>
<path stroke="#c79040" d="M593.2 113.2h0M611.0 119.1h0M600.4 112.2h0M595.8 106.7h0M602.6 121.3h0M582.9 110.1h0M591.8 113.5h0M617.0 109.6h0M626.1 123.6h0M598.5 116.4h0M586.7 110.3h0M599.5 109.3h0M601.7 117.6h0M601.1 107.5h0M597.2 121.0h0M596.0 113.2h0M592.6 110.3h0M610.9 112.6h0M606.0 118.4h0M602.3 115.0h0M607.7 115.1h0M606.6 115.4h0M595.7 105.2h0M604.8 113.9h0M592.6 116.5h0M608.0 117.8h0"/>
<path stroke="#cfa256" d="M579.2 111.6h0M596.1 105.4h0M591.8 113.4h0M591.8 106.8h0M599.8 107.3h0M611.3 128.8h0M598.0 118.1h0M599.3 119.3h0M615.8 121.9h0M603.4 112.6h0M581.1 108.7h0M608.1 117.6h0M589.8 114.4h0M581.7 111.5h0M585.7 101.3h0M590.8 109.0h0M591.0 110.1h0M615.1 106.6h0M598.1 114.1h0M598.0 108.1h0M605.9 112.0h0M597.6 110.2h0M589.4 104.5h0M602.1 118.4h0M609.7 117.6h0M604.1 117.1h0M609.9 117.3h0M583.7 118.3h0M598.1 108.2h0M624.3 118.7h0M589.5 107.6h0M606.5 118.2h0M615.5 115.1h0M607.7 119.1h0M594.9 115.5h0M596.7 126.2h0M591.7 109.3h0M586.3 113.7h0M604.5 116.2h0M603.7 110.8h0"/>
<path stroke="#d7b169" d="M606.6 111.5h0M599.9 119.9h0M614.6 118.6h0M615.5 121.1h0M611.9 113.2h0M591.6 114.4h0M591.5 112.5h0M609.3 116.9h0M603.0 109.8h0M620.0 118.1h0M566.7 110.0h0M587.1 116.3h0M601.5 123.1h0M611.2 114.9h0M592.1 121.1h0M586.3 113.9h0M609.1 119.6h0M611.7 121.1h0M601.4 119.5h0M606.5 112.3h0M603.9 115.3h0M588.3 115.5h0M597.7 120.7h0M613.8 112.8h0M585.3 106.6h0M595.8 116.0h0M610.1 116.5h0M582.2 108.3h0M600.5 107.4h0M634.0 132.2h0M569.8 108.6h0M594.2 103.7h0M605.4 110.1h0M613.2 117.2h0M566.2 107.6h0M591.6 107.6h0M572.3 111.4h0M577.0 106.5h0M595.2 115.8h0M619.5 124.0h0M600.3 111.1h0"/>
<path stroke="#dec17b" d="M594.8 112.7h0M611.4 124.9h0M576.4 107.7h0M603.9 110.1h0M586.4 106.9h0M592.3 123.8h0M606.5 109.3h0M613.3 119.4h0M615.7 114.8h0M571.4 107.6h0M587.6 112.2h0M597.8 111.3h0M609.5 113.6h0M588.8 105.7h0M591.1 114.1h0M593.0 112.0h0M592.4 112.5h0M595.9 110.7h0M594.1 114.0h0M582.2 110.1h0M593.9 113.9h0M587.8 112.0h0M605.1 108.2h0M577.6 112.0h0M583.2 122.5h0M610.2 102.6h0M580.4 111.2h0M596.5 113.3h0M602.6 115.6h0M608.5 114.8h0M596.9 117.6h0M598.0 115.3h0"/>
<path stroke="#e5cc8f" d="M611.9 128.7h0M596.2 114.5h0M615.4 112.7h0M598.9 110.2h0M604.6 116.0h0M618.0 120.5h0M605.3 114.7h0M615.3 120.8h0M595.1 113.0h0M586.6 118.6h0M594.3 118.9h0M586.6 109.3h0M619.7 115.0h0M606.1 119.5h0M580.4 114.1h0M596.1 113.1h0M603.3 119.8h0"/>
<path stroke="#ead59f" d="M629.4 119.4h0M613.0 117.6h0M603.7 115.0h0"/>
<path stroke="#f1dfb3" d="M601.1 121.0h0"/>
<path stroke="#f6ebcf" d="M526.1 98.5h0"/>
<path stroke="#f5f2e8" d="M524.5 91.2h0"/>
<path stroke="#f4f5f5" d="M525.8 97.0h0M518.2 101.9h0M517.8 106.5h0M517.3 94.8h0M530.9 99.3h0M508.6 103.0h0M510.1 90.7h0M513.5 96.9h0M532.2 86.1h0M510.0 94.3h0M527.0 87.2h0"/>
<path stroke="#e9f2f1" d="M511.3 96.1h0M529.9 94.9h0M524.2 86.1h0M528.5 90.4h0M528.1 101.8h0M514.0 108.2h0M519.6 102.3h0M533.2 96.8h0M519.2 100.0h0M521.6 92.0h0M522.7 116.0h0M510.9 105.7h0M537.0 90.6h0M521.5 95.6h0M521.6 82.6h0"/>
<path stroke="#def0ed" d="M522.6 108.1h0M524.7 113.8h0M516.7 108.0h0M514.3 98.9h0M522.3 104.4h0M522.9 100.8h0M523.3 99.4h0M509.3 102.5h0M529.3 99.7h0M520.2 102.6h0M519.7 110.2h0M519.5 105.2h0M524.5 87.6h0M519.2 100.0h0M527.5 107.7h0M514.3 102.3h0M538.1 102.2h0M508.0 111.5h0"/>
<path stroke="#d2ede9" d="M528.9 102.8h0M522.8 123.0h0M534.2 107.8h0M527.1 93.7h0M523.8 97.2h0M518.2 96.2h0M535.7 99.2h0M515.8 99.1h0M503.9 95.1h0M522.3 93.9h0M533.2 93.2h0M516.1 92.3h0M537.7 101.8h0M515.1 92.5h0M522.7 106.0h0M516.7 88.7h0M519.3 96.1h0M522.5 108.5h0M521.4 102.1h0"/>
<path stroke="#c7eae5" d="M517.2 111.4h0M544.5 97.9h0M514.8 97.0h0M526.9 89.3h0M531.3 102.7h0M524.6 94.5h0M512.6 101.5h0M540.3 90.1h0M510.9 101.8h0M513.9 103.7h0M508.0 85.7h0M512.2 104.4h0M500.6 108.6h0M505.2 95.7h0M514.2 79.1h0M519.1 112.8h0M521.1 97.4h0M518.3 106.2h0M511.0 114.9h0M530.9 101.1h0M514.6 90.1h0M540.6 86.5h0M527.4 100.8h0M519.3 93.9h0M528.9 98.2h0M518.2 85.4h0M523.2 97.7h0M517.4 103.1h0"/>
<path stroke="#b4e2db" d="M526.4 99.2h0M526.5 97.3h0M524.9 109.7h0M519.0 92.3h0M517.2 82.4h0M513.8 100.5h0M514.9 108.1h0M524.3 74.6h0M525.6 104.5h0M511.9 90.8h0M537.9 91.0h0M529.8 107.6h0"/>
<path stroke="#a3dbd3" d="M510.7 114.8h0M527.6 91.4h0"/>
<path stroke="#92d4ca" d="M508.6 98.2h0M520.5 70.6h0"/>
<path stroke="#7fccc0" d="M522.8 91.3h0"/>
<path stroke="#f5f2e8" d="M577.2 89.6h0M592.0 91.5h0M578.4 101.2h0M573.2 103.0h0M567.4 108.9h0"/>
<path stroke="#f4f5f5" d="M586.7 101.7h0M574.4 119.3h0M570.7 112.7h0M563.4 103.0h0M581.5 84.0h0M572.0 102.7h0M580.4 113.4h0M580.6 105.8h0M584.4 112.7h0M578.0 90.0h0M583.4 105.0h0M561.6 90.7h0"/>
<path stroke="#e9f2f1" d="M583.2 101.8h0M588.3 91.5h0M586.7 112.2h0M589.7 98.5h0M587.3 95.5h0M570.1 102.8h0M577.4 111.8h0M584.7 100.3h0M552.0 83.9h0M571.9 108.2h0M581.4 88.6h0M581.8 106.2h0M591.4 101.7h0M567.9 103.6h0M576.5 103.7h0M605.0 103.6h0M582.1 97.8h0M571.9 109.1h0M576.5 102.2h0M560.4 112.5h0M581.5 108.9h0M588.3 106.0h0M589.9 106.0h0"/>
<path stroke="#def0ed" d="M586.3 82.1h0M577.4 98.3h0M575.2 113.0h0M564.5 103.1h0M563.8 89.6h0M583.4 110.5h0M581.9 92.6h0M569.8 114.6h0M572.0 103.4h0M573.5 110.6h0M572.7 93.0h0M580.2 94.8h0M563.4 96.8h0M595.1 115.6h0M577.6 101.8h0M578.3 105.3h0M571.4 104.6h0M587.2 121.4h0M581.7 115.2h0M601.9 114.9h0M582.5 109.3h0M573.7 109.2h0M589.4 105.1h0M592.2 100.9h0M572.6 111.7h0M575.3 102.6h0M582.4 85.4h0M590.3 91.8h0M585.4 100.8h0M605.3 98.9h0M576.3 108.6h0M567.1 117.1h0M582.3 103.8h0M583.0 104.2h0M590.8 109.3h0M592.3 93.7h0M570.6 105.5h0M593.1 99.9h0M554.1 100.1h0M600.0 109.3h0M549.9 90.3h0"/>
<path stroke="#d2ede9" d="M572.7 93.1h0M581.1 98.0h0M568.6 116.7h0M588.5 98.9h0M578.0 105.9h0M589.9 107.2h0M564.2 93.8h0M572.7 111.3h0M581.4 101.8h0M611.9 108.9h0M584.9 101.6h0M567.5 110.0h0M572.4 110.8h0M564.9 113.4h0M577.6 102.0h0M585.6 115.9h0M573.7 115.8h0M569.8 100.9h0M575.8 109.6h0M573.8 110.0h0M604.0 108.0h0M569.6 100.1h0M569.7 111.6h0M589.9 102.5h0M566.6 117.1h0M560.3 100.3h0M590.5 103.4h0M562.3 109.1h0M573.4 106.2h0M581.3 98.3h0M559.4 109.7h0M564.5 102.4h0M571.4 102.7h0M615.2 101.3h0M598.1 103.3h0M577.7 96.2h0M587.6 102.5h0M568.2 99.4h0M596.4 95.9h0"/>
<path stroke="#c7eae5" d="M573.8 107.8h0M569.9 102.6h0M565.9 110.0h0M562.1 94.7h0M604.1 92.2h0M587.9 98.0h0M573.1 104.5h0M592.9 92.4h0M580.7 108.3h0M579.8 106.8h0M559.4 106.4h0M569.8 112.2h0M552.5 102.3h0M592.8 96.6h0M590.7 106.8h0M568.4 95.7h0M584.7 106.4h0M604.8 99.1h0M583.5 102.4h0M566.9 109.3h0M583.2 101.3h0M580.6 102.2h0M582.8 99.7h0M576.0 99.5h0M565.8 102.2h0M584.0 106.8h0M572.8 99.4h0M566.3 119.0h0M564.4 109.5h0M578.8 111.1h0M576.4 104.3h0M582.4 98.2h0M582.6 114.5h0M600.9 103.3h0M565.6 91.4h0M598.7 109.6h0M569.1 86.6h0M594.0 109.3h0M592.5 103.0h0M587.2 113.4h0M582.4 115.8h0M577.9 96.3h0M602.6 114.7h0M565.0 106.3h0"/>
<path stroke="#b4e2db" d="M584.9 99.2h0M584.8 94.3h0M595.8 105.4h0M589.2 101.0h0M582.0 108.8h0M582.2 105.0h0M599.0 111.5h0M600.6 105.5h0M577.3 104.0h0M584.4 108.3h0M586.4 107.7h0M573.3 109.5h0M555.3 117.8h0M590.6 112.8h0"/>
<path stroke="#a3dbd3" d="M580.9 100.8h0M577.6 102.9h0M570.5 117.9h0M597.6 99.1h0M583.5 95.0h0M581.3 114.0h0M565.0 103.6h0M580.5 116.6h0M594.4 101.1h0M590.2 101.9h0M591.4 99.9h0M559.7 113.5h0M588.8 95.0h0M561.5 106.0h0M575.8 91.6h0"/>
<path stroke="#92d4ca" d="M575.3 94.9h0M589.8 110.2h0M594.2 105.4h0M557.3 84.7h0M582.9 115.7h0"/>
<path stroke="#7fccc0" d="M586.6 86.4h0M576.8 103.1h0"/>
<path stroke="#e9f2f1" d="M567.8 56.7h0"/>
<path stroke="#def0ed" d="M568.0 67.6h0M591.7 56.5h0M573.3 78.1h0M597.8 51.4h0M577.6 81.1h0"/>
<path stroke="#d2ede9" d="M572.6 67.4h0M586.1 58.0h0M581.1 52.4h0M568.5 81.1h0M594.2 57.9h0M584.1 65.9h0M572.7 80.4h0M606.4 58.2h0M606.8 49.3h0M582.4 56.8h0"/>
<path stroke="#c7eae5" d="M567.1 65.4h0M588.4 55.0h0M583.9 66.8h0M589.9 56.5h0M575.1 69.3h0M593.2 40.5h0M565.1 78.9h0M592.1 43.8h0M585.0 62.1h0M567.6 76.1h0M575.6 74.2h0M563.7 77.3h0"/>
<path stroke="#b4e2db" d="M589.0 54.4h0M607.9 50.5h0M583.7 80.6h0M587.6 50.4h0M580.0 64.1h0M584.7 65.2h0M580.9 45.3h0M586.1 68.9h0M602.0 45.0h0M590.5 50.9h0M596.2 39.5h0M578.6 64.8h0M581.6 63.6h0M598.4 48.0h0M582.6 69.2h0M587.3 60.0h0M592.8 67.1h0M579.4 53.8h0M604.2 48.1h0M571.5 70.1h0M578.1 71.3h0M571.4 68.0h0M599.2 47.8h0M568.9 59.9h0M566.2 74.1h0M593.9 68.8h0M599.1 42.3h0M605.6 52.4h0M577.9 72.0h0M594.4 43.7h0M568.1 68.1h0M582.3 82.1h0M571.3 63.7h0M577.0 53.4h0M588.0 56.4h0"/>
<path stroke="#a3dbd3" d="M575.8 77.2h0M597.7 49.1h0M599.1 54.0h0M594.0 47.8h0M579.0 55.3h0M572.2 78.5h0M581.2 65.0h0M570.1 68.8h0M584.8 43.0h0M585.5 59.9h0M567.0 68.9h0M576.4 66.1h0M580.3 80.6h0M585.7 68.3h0M584.3 60.3h0M578.8 69.2h0M563.6 67.9h0M599.2 47.6h0M573.2 68.8h0M586.9 60.4h0M579.2 76.3h0M597.5 41.1h0M587.2 54.3h0M595.6 50.4h0M590.5 55.6h0M578.0 84.4h0M589.5 51.4h0M605.0 47.8h0M579.1 64.9h0M570.9 57.0h0M578.0 66.2h0M564.7 73.3h0M573.0 76.9h0M584.2 71.8h0"/>
<path stroke="#92d4ca" d="M568.1 80.3h0M590.9 44.9h0M603.3 50.9h0M577.0 57.6h0M578.1 56.6h0M600.7 50.8h0M564.1 67.3h0M592.2 61.0h0M586.3 65.7h0M574.2 77.4h0M587.3 75.6h0M575.1 64.7h0M572.9 77.5h0M584.0 70.3h0M568.4 76.8h0M586.1 63.7h0M589.7 38.0h0M598.1 45.7h0M592.9 67.3h0M591.3 56.6h0M575.8 79.9h0M585.6 69.4h0M573.8 82.0h0M577.9 49.7h0M588.4 64.8h0M593.7 47.7h0"/>
<path stroke="#7fccc0" d="M583.0 71.1h0M587.8 49.6h0M581.4 63.3h0M583.8 52.5h0M600.7 49.8h0M580.0 72.1h0M586.6 48.0h0M591.0 47.6h0M594.4 47.6h0M583.0 49.0h0M598.7 48.0h0M587.1 62.4h0M572.2 80.5h0M594.3 51.5h0"/>
<path stroke="#6dbfb4" d="M587.0 63.6h0M578.0 59.2h0M593.5 52.8h0M585.0 62.8h0M579.5 72.1h0M568.1 78.4h0"/>
<path stroke="#58b0a7" d="M591.1 56.1h0M577.1 70.1h0M598.3 51.4h0M599.5 47.0h0M595.9 44.3h0M564.9 68.0h0"/>
<path stroke="#47a49b" d="M593.4 37.0h0"/>
<path stroke="#e9f2f1" d="M587.7 63.8h0"/>
<path stroke="#def0ed" d="M592.3 57.2h0M588.4 57.2h0M592.0 56.0h0M589.6 50.1h0"/>
<path stroke="#d2ede9" d="M589.8 45.2h0M589.6 43.1h0M588.7 54.4h0M594.4 39.1h0M587.6 55.1h0M585.5 55.2h0M588.6 55.7h0M593.3 51.8h0M594.4 48.7h0"/>
<path stroke="#c7eae5" d="M587.8 53.7h0M584.4 33.4h0M588.4 47.4h0M580.4 60.5h0M592.3 53.9h0M579.9 50.2h0M596.8 58.1h0M590.4 50.8h0M583.3 57.2h0"/>
<path stroke="#b4e2db" d="M589.6 57.5h0M580.5 45.4h0M581.0 51.7h0M589.2 45.2h0M598.1 62.1h0M591.1 47.0h0M592.7 51.0h0"/>
<path stroke="#a3dbd3" d="M588.2 43.5h0M589.1 59.3h0M582.9 49.9h0M593.6 55.0h0M590.9 43.2h0M596.1 46.0h0M590.4 51.8h0M588.1 47.7h0M586.3 55.6h0M593.5 50.5h0M590.6 54.6h0"/>
<path stroke="#92d4ca" d="M579.0 57.7h0M583.3 58.7h0M590.6 57.2h0M587.6 53.7h0M591.7 45.4h0"/>
<path stroke="#7fccc0" d="M585.9 60.7h0M593.5 57.4h0M586.0 52.4h0M593.6 44.6h0"/>
<path stroke="#def0ed" d="M569.4 105.0h0"/>
<path stroke="#d2ede9" d="M568.8 85.7h0M564.3 80.0h0"/>
<path stroke="#c7eae5" d="M553.4 77.5h0M571.6 92.2h0M561.6 82.8h0M566.6 91.9h0M565.5 87.3h0"/>
<path stroke="#b4e2db" d="M566.4 87.3h0M560.1 101.8h0M562.9 92.2h0"/>
<path stroke="#a3dbd3" d="M575.2 112.1h0M557.6 85.4h0M551.9 98.9h0M566.4 83.8h0M573.9 92.3h0M558.4 96.5h0M556.1 91.3h0M569.9 107.3h0M552.4 106.8h0M547.5 80.1h0M560.2 84.7h0M574.9 90.2h0"/>
<path stroke="#92d4ca" d="M553.8 91.5h0M570.8 83.9h0M550.5 85.5h0M571.3 112.0h0M587.5 92.3h0M568.4 112.9h0M575.2 94.3h0M575.9 105.3h0M562.3 107.2h0M547.0 99.5h0M560.7 83.9h0M562.8 92.0h0M559.0 96.4h0M570.3 97.8h0M556.9 95.1h0M568.3 93.7h0M560.6 87.9h0M552.6 80.6h0"/>
<path stroke="#7fccc0" d="M541.7 96.9h0M568.6 93.6h0M541.9 106.7h0M565.2 83.2h0M579.4 88.3h0M556.1 89.5h0M562.1 83.3h0M563.8 77.5h0M583.9 107.7h0M569.7 103.8h0M556.8 92.9h0M568.0 113.4h0M561.6 98.6h0M557.5 92.6h0M559.9 86.9h0M567.6 103.5h0M541.6 82.5h0M564.8 74.6h0M568.7 89.5h0M554.0 83.1h0M562.2 106.8h0M573.5 90.2h0M557.8 109.1h0M556.7 80.5h0M558.6 94.2h0M559.5 87.0h0M560.7 111.2h0M561.0 84.9h0M581.6 84.4h0"/>
<path stroke="#6dbfb4" d="M558.7 93.7h0M567.9 88.6h0M569.3 85.0h0M553.3 86.6h0M575.8 83.5h0M565.3 94.8h0M561.1 86.8h0M570.1 86.4h0M564.4 108.9h0M584.0 105.4h0M557.2 84.6h0M575.2 90.1h0M575.9 88.7h0M567.2 123.9h0M570.4 85.4h0M563.1 96.8h0"/>
<path stroke="#58b0a7" d="M562.5 93.2h0M566.3 110.4h0M548.7 101.7h0M560.9 102.2h0M552.0 84.1h0M564.4 80.7h0M551.2 96.9h0M562.8 97.2h0M575.1 96.0h0M557.9 88.5h0M558.5 96.0h0M565.8 83.7h0M543.7 91.9h0M561.4 86.1h0M565.4 87.3h0M575.6 97.1h0M557.2 98.1h0M557.1 85.8h0M559.8 96.4h0M546.2 111.7h0M574.8 102.4h0M554.2 96.8h0M567.9 86.4h0M564.1 104.4h0M547.9 97.1h0M569.2 100.5h0M556.6 94.6h0M571.6 98.4h0M552.0 80.3h0"/>
<path stroke="#47a49b" d="M565.0 110.6h0M559.5 86.4h0M553.8 90.1h0M555.7 88.5h0M571.9 106.3h0M567.3 104.5h0M561.3 88.2h0M558.0 82.0h0M572.0 93.4h0M559.3 116.5h0M562.0 105.3h0M580.5 108.7h0M568.9 88.0h0M562.0 102.0h0M552.3 110.6h0M568.0 87.5h0M562.6 88.8h0M560.4 89.3h0M568.1 101.8h0M572.1 97.5h0M568.7 101.3h0M579.0 84.0h0M549.2 100.8h0M557.5 89.6h0M566.7 89.9h0M561.8 86.7h0M559.0 95.2h0M560.4 103.6h0M572.2 91.2h0M553.7 81.0h0M550.8 94.8h0M570.1 101.4h0M568.4 88.9h0M554.1 93.8h0M572.3 89.1h0"/>
<path stroke="#35978f" d="M554.7 95.4h0M566.4 98.2h0M571.7 92.3h0M556.4 86.8h0M557.7 86.7h0M542.1 85.2h0M555.6 82.8h0M572.9 106.4h0M576.1 96.3h0M544.4 88.7h0M567.0 105.0h0M576.4 100.3h0M561.3 94.7h0M548.8 90.2h0M562.7 104.6h0M561.6 98.0h0M569.0 94.6h0M569.9 105.7h0M565.9 84.8h0M571.7 89.8h0M572.4 92.9h0M565.1 80.6h0M558.6 97.3h0"/>
<path stroke="#278a82" d="M574.4 105.8h0M576.2 112.6h0M573.5 98.6h0M554.3 102.9h0M538.0 87.2h0M561.1 98.3h0M578.2 88.6h0M559.4 92.6h0M574.7 104.0h0M559.1 120.6h0M551.2 105.4h0"/>
<path stroke="#1a7e76" d="M577.7 94.9h0M566.0 99.4h0M562.0 93.6h0M562.5 98.2h0M568.0 107.6h0M577.9 82.6h0M557.8 92.6h0M562.5 79.3h0M568.4 88.4h0M553.9 87.5h0M556.8 85.9h0"/>
<path stroke="#0c7169" d="M570.5 100.5h0M562.2 114.2h0"/>
<path stroke="#01655d" d="M564.9 107.4h0M562.3 91.8h0M563.3 103.7h0"/>
<path stroke="#7fccc0" d="M553.3 81.5h0"/>
<path stroke="#6dbfb4" d="M551.6 79.6h0"/>
<path stroke="#47a49b" d="M548.1 78.3h0M552.7 88.6h0M573.5 70.9h0"/>
<path stroke="#35978f" d="M554.4 83.5h0"/>
<path stroke="#278a82" d="M560.3 71.9h0M566.9 73.4h0M555.2 84.3h0M545.5 83.5h0M565.9 78.0h0M556.0 68.6h0M551.2 83.0h0"/>
<path stroke="#1a7e76" d="M551.5 84.7h0M558.0 72.3h0M556.3 80.2h0M554.9 80.8h0M558.6 71.9h0M560.7 76.4h0M565.8 75.2h0M557.1 78.7h0"/>
<path stroke="#0c7169" d="M556.0 76.8h0M563.8 80.4h0M564.8 70.6h0M565.0 67.7h0M564.5 82.5h0M553.4 75.1h0M545.5 76.6h0M564.8 70.0h0M560.4 73.5h0M546.7 82.6h0M565.2 74.6h0M559.3 76.3h0M548.4 83.8h0M555.6 81.6h0M559.0 78.3h0"/>
<path stroke="#01655d" d="M549.3 83.3h0M561.9 71.4h0M551.5 87.4h0M561.9 71.6h0M553.6 61.2h0M559.4 67.7h0M549.5 86.4h0M564.6 78.3h0M551.8 81.6h0M543.1 83.0h0"/>
<path stroke="#015b52" d="M559.6 70.0h0M569.8 69.7h0M557.2 75.7h0M560.0 79.9h0M549.4 84.3h0M565.3 68.6h0M561.3 69.4h0M556.1 72.4h0M551.2 77.3h0M554.6 76.4h0"/>
<path stroke="#005046" d="M548.0 86.8h0M559.7 60.7h0M561.4 84.0h0M553.7 74.4h0M567.3 73.6h0M558.6 80.7h0M555.2 83.4h0M558.3 70.1h0M552.3 80.4h0M565.1 64.0h0M547.1 84.9h0M560.3 75.5h0M561.3 71.0h0M563.9 63.8h0"/>
<path stroke="#00463b" d="M564.7 67.6h0M565.0 77.2h0M555.6 74.8h0M561.0 65.7h0M561.2 70.9h0M566.8 72.6h0M553.7 71.0h0M551.1 79.4h0M555.9 81.9h0M553.9 82.4h0M555.4 74.1h0M553.5 82.8h0M567.3 68.0h0"/>
<path stroke="#003c30" d="M552.1 81.7h0M552.4 83.0h0M551.0 86.7h0M557.6 77.8h0M548.5 88.0h0M561.8 71.2h0M561.8 65.6h0"/>
<path stroke="#35978f" d="M547.6 99.2h0M552.7 80.5h0"/>
<path stroke="#278a82" d="M544.3 82.4h0M551.0 89.8h0M547.4 97.6h0M551.2 89.9h0M545.4 91.2h0"/>
<path stroke="#1a7e76" d="M560.2 114.6h0M548.8 90.0h0M538.8 92.1h0M559.0 78.9h0"/>
<path stroke="#0c7169" d="M562.2 91.9h0M545.8 94.1h0M538.4 85.8h0M569.9 104.0h0M554.3 74.3h0M547.3 81.6h0M554.1 76.3h0M542.9 97.1h0M563.4 101.6h0M553.7 83.4h0M559.0 100.1h0M558.9 82.6h0M550.7 96.8h0M548.0 77.0h0M547.9 75.5h0M557.4 93.4h0M548.3 88.1h0M551.1 88.4h0M556.7 105.5h0M555.6 85.7h0M558.3 96.1h0M549.6 100.8h0M578.6 102.9h0"/>
<path stroke="#01655d" d="M558.1 82.4h0M557.5 94.3h0M557.2 90.7h0M549.8 77.1h0M551.7 99.7h0M561.3 97.8h0M556.7 96.8h0M543.0 98.3h0M550.8 101.6h0M552.3 83.7h0M549.4 77.1h0M541.8 86.7h0M562.9 88.2h0M559.1 98.3h0M565.2 87.7h0M543.2 85.5h0M558.2 90.8h0M547.2 90.6h0M556.7 69.3h0M545.8 88.2h0M563.8 82.4h0M554.2 105.3h0M552.2 82.2h0"/>
<path stroke="#015b52" d="M561.0 99.8h0M550.4 82.7h0M555.3 100.3h0M543.2 91.1h0M555.1 98.2h0M573.1 99.3h0M540.8 71.4h0M556.4 100.8h0M546.2 100.1h0M544.9 96.1h0M548.9 100.0h0M562.7 103.5h0M550.9 97.0h0M538.5 96.9h0M560.9 105.8h0M547.5 90.7h0M549.8 81.0h0M561.0 94.6h0M555.8 92.3h0M556.5 112.0h0M550.1 84.2h0M542.9 92.1h0M538.1 74.0h0M554.6 95.5h0M554.8 93.5h0M541.0 82.9h0M545.6 94.1h0M560.5 109.7h0M551.8 104.4h0M561.4 91.0h0M548.2 94.7h0"/>
<path stroke="#005046" d="M550.7 94.3h0M546.0 84.1h0M553.9 108.3h0M554.7 103.9h0M561.3 90.4h0M559.3 84.6h0M558.9 94.0h0M570.1 103.4h0M556.8 75.1h0M552.6 103.7h0M560.6 90.5h0M549.4 114.9h0M547.5 76.9h0M542.5 81.3h0M552.8 97.1h0M570.5 86.1h0M545.1 89.8h0M555.4 82.6h0M552.1 89.0h0M561.4 95.3h0M549.6 92.9h0M548.8 83.7h0M553.7 88.6h0M553.6 98.4h0M549.8 85.5h0M555.6 86.7h0M555.4 96.6h0M554.0 78.1h0"/>
<path stroke="#00463b" d="M568.7 91.3h0M540.7 90.8h0M550.7 84.5h0M549.8 84.3h0M548.4 96.0h0M550.0 88.5h0M556.4 91.6h0M567.4 100.1h0M556.0 87.1h0M560.2 86.7h0M546.6 102.0h0M548.7 113.1h0M550.2 84.5h0M554.5 81.5h0M551.0 93.8h0M555.1 89.9h0M547.8 91.1h0M547.2 98.0h0M553.4 102.8h0"/>
<path stroke="#003c30" d="M552.2 92.5h0M558.2 89.7h0M554.1 86.9h0M562.5 87.5h0M539.1 99.8h0M560.9 97.3h0M554.5 92.6h0M557.6 122.9h0M548.8 92.2h0M559.0 105.8h0M561.6 83.2h0M558.9 91.5h0M551.5 86.2h0M556.6 82.9h0M560.5 95.7h0"/>
<path stroke="#01655d" d="M543.5 125.0h0M537.1 124.3h0"/>
<path stroke="#015b52" d="M538.6 123.9h0M537.4 124.1h0M539.7 125.9h0M529.9 123.0h0"/>
<path stroke="#005046" d="M537.6 124.9h0M538.9 128.2h0M540.8 125.6h0M530.9 125.7h0M536.4 129.4h0M539.4 113.5h0M536.8 125.5h0M540.8 128.2h0"/>
<path stroke="#00463b" d="M544.0 118.3h0M536.5 127.9h0M541.3 102.6h0M539.6 124.8h0M539.4 113.5h0M538.3 110.5h0M543.4 127.5h0M539.9 115.1h0M536.6 133.0h0M528.4 114.2h0M544.6 122.7h0M536.1 137.3h0M539.8 119.5h0"/>
<path stroke="#003c30" d="M537.2 121.2h0M538.6 125.1h0M544.6 128.9h0M541.5 119.2h0M538.6 125.2h0M532.8 116.9h0M537.9 128.5h0M537.0 122.3h0M533.1 121.3h0M535.4 125.7h0M528.9 121.7h0M534.0 127.7h0M537.9 109.1h0M532.7 124.1h0M535.0 122.6h0M537.7 120.5h0M534.1 120.0h0M542.5 115.2h0M530.1 136.0h0M542.1 124.3h0M532.7 113.0h0M541.9 131.3h0M539.5 109.8h0M535.8 121.1h0M535.0 119.5h0M539.3 125.8h0M538.8 106.6h0M533.0 121.5h0M531.6 132.8h0M540.6 121.3h0M532.8 120.6h0M539.7 115.4h0M537.9 126.3h0"/>
<path stroke="#00463b" d="M538.8 102.6h0M546.6 101.7h0M541.7 101.3h0M533.7 89.3h0M544.0 100.2h0"/>
<path stroke="#003c30" d="M552.1 101.0h0M554.6 90.2h0M532.2 75.0h0M535.7 95.4h0M546.9 106.9h0M536.8 99.9h0M544.2 97.7h0M549.6 111.5h0M539.0 103.2h0M547.6 98.0h0M548.5 93.9h0M548.0 99.6h0M542.6 92.8h0M543.7 87.9h0M547.2 97.9h0M547.1 110.4h0M536.9 109.0h0M542.1 94.8h0M546.0 98.2h0M550.1 92.2h0M554.4 108.9h0M541.8 93.6h0M537.9 89.0h0M536.5 96.1h0M539.4 87.4h0M542.8 95.2h0M548.7 103.1h0M539.5 103.1h0M541.4 95.0h0M540.1 99.2h0M532.9 91.4h0M537.4 84.5h0M546.8 105.9h0M541.0 104.3h0M539.9 106.8h0M559.3 98.2h0M541.4 99.7h0M532.4 96.3h0M538.4 95.1h0M546.0 110.1h0M532.5 96.9h0M538.7 89.5h0M538.3 105.4h0M545.4 101.2h0M537.9 105.9h0M544.2 94.1h0M540.8 97.0h0M538.5 95.5h0M541.0 92.0h0M552.1 101.7h0M546.9 118.6h0M535.3 80.3h0M549.3 103.4h0M541.6 100.3h0M534.9 90.8h0M543.6 122.6h0M538.8 102.0h0M548.7 90.4h0M539.8 96.0h0M535.5 106.6h0M544.0 96.6h0M542.4 105.3h0M551.1 114.8h0M547.7 105.2h0M534.3 89.7h0M545.8 90.5h0M545.5 99.3h0M538.4 103.5h0M554.8 108.2h0M538.7 98.6h0M527.8 93.6h0M539.0 100.9h0M542.8 95.4h0M545.4 90.2h0M542.5 90.4h0M540.8 102.3h0M543.9 92.8h0M539.4 98.9h0M547.9 111.6h0M544.7 96.2h0M544.4 111.1h0M552.3 106.3h0M539.5 92.7h0M536.4 100.7h0M554.2 99.2h0M543.6 90.5h0M548.4 94.6h0M543.4 101.9h0M541.2 95.9h0M551.8 116.3h0M543.3 108.0h0M538.0 105.1h0M543.7 113.4h0M542.4 106.6h0M539.5 90.5h0M542.9 100.4h0M546.2 97.6h0M530.6 95.5h0M542.1 107.1h0M543.5 108.7h0M542.3 104.2h0M548.1 99.9h0M537.5 113.0h0M543.9 107.5h0M528.4 105.3h0M540.8 96.6h0M538.7 92.2h0M539.0 105.8h0M543.3 106.7h0M542.1 93.6h0M541.4 97.5h0M549.9 113.0h0M541.0 96.0h0M552.3 94.0h0M537.5 98.5h0M536.0 116.7h0M551.1 107.2h0M544.5 97.7h0M537.3 94.8h0M548.8 106.5h0M543.1 90.2h0M549.7 90.3h0M542.2 99.8h0M533.0 82.3h0M534.2 97.7h0M545.9 94.8h0M540.1 89.4h0M543.8 110.8h0M552.4 99.7h0M545.4 100.2h0M541.7 101.0h0M545.0 92.5h0M538.1 106.9h0M540.1 104.3h0M537.3 104.0h0M538.1 96.2h0M543.5 93.4h0M525.9 94.0h0M545.5 113.9h0M536.3 90.7h0M542.1 109.6h0M545.2 103.3h0M549.3 111.5h0M539.5 113.4h0M542.3 91.1h0M550.0 110.3h0M544.1 109.1h0M527.0 91.8h0M545.1 100.0h0M547.3 103.3h0M542.4 86.8h0M538.6 112.6h0M544.5 100.3h0M546.8 114.4h0M540.4 105.3h0M548.5 93.3h0M539.0 99.1h0M536.2 113.7h0M553.5 114.2h0M544.4 104.6h0M551.8 113.6h0M546.7 104.6h0M541.2 105.3h0M546.7 109.9h0M543.9 90.5h0M539.2 106.1h0M542.3 104.4h0M545.4 88.7h0M542.5 92.3h0M542.7 100.0h0M530.7 83.7h0M537.3 91.4h0M544.0 101.1h0M549.0 103.3h0M527.8 89.7h0M537.7 101.0h0M541.8 94.4h0M541.4 92.2h0M546.7 94.8h0M538.6 97.5h0M547.3 112.8h0M546.8 108.3h0M541.2 107.6h0M549.9 107.7h0M535.7 95.3h0M545.1 105.7h0M539.5 104.0h0M545.2 81.9h0M536.1 101.5h0M545.4 99.8h0M550.0 111.6h0M538.3 94.9h0M545.2 84.6h0M551.6 110.4h0M543.2 96.0h0M542.6 96.3h0M555.3 102.6h0M545.1 104.6h0M549.2 108.8h0M542.7 94.1h0M538.8 92.8h0M537.2 105.7h0M540.1 100.7h0M549.4 107.6h0M542.4 96.5h0M544.4 93.3h0M549.8 94.7h0M546.2 90.6h0M548.9 103.4h0M546.0 110.2h0M546.5 101.1h0M544.5 105.4h0M541.9 94.5h0M539.5 101.1h0M531.6 87.2h0M545.9 94.9h0M555.5 98.7h0M549.7 105.9h0M542.5 98.0h0M532.0 94.9h0M532.1 91.6h0M536.1 105.4h0M538.0 117.7h0M540.2 105.7h0M545.9 103.8h0M542.0 99.4h0M546.3 107.9h0M547.2 101.1h0M533.0 96.3h0M547.0 110.4h0M548.6 93.3h0M543.0 95.5h0M538.5 103.2h0M534.6 114.6h0M535.5 113.3h0M559.5 124.1h0M534.0 99.1h0M544.9 104.2h0M543.9 110.9h0M540.9 101.7h0M545.0 107.0h0M540.7 86.8h0M544.0 90.9h0M536.1 96.5h0M543.7 106.3h0M541.6 87.4h0M545.8 109.8h0M548.3 100.7h0M541.2 107.2h0M537.6 89.9h0M531.9 109.6h0M555.0 115.0h0M551.2 102.2h0M543.1 102.7h0M542.9 89.9h0M542.5 97.4h0M548.3 104.6h0M527.2 91.4h0M544.2 105.0h0M538.7 103.0h0M540.9 96.0h0M540.4 104.4h0M546.6 93.3h0M546.0 101.2h0M538.0 96.7h0M538.1 103.4h0M544.5 96.8h0M533.5 104.2h0M540.4 97.1h0M545.3 91.3h0M541.0 101.9h0M546.4 88.5h0M537.6 84.5h0M537.8 98.9h0M537.0 107.0h0M540.9 93.1h0M540.4 93.8h0M539.8 98.6h0M546.2 90.0h0M548.3 108.5h0M544.4 105.0h0M549.2 87.5h0M538.3 107.2h0M547.1 112.7h0M539.8 102.0h0M539.3 81.6h0M549.8 98.3h0M536.2 97.1h0M544.0 112.4h0M542.1 113.0h0M541.0 105.2h0M540.6 100.9h0M547.2 97.9h0M542.5 109.6h0M552.2 95.1h0M539.6 96.4h0M533.5 96.8h0M542.5 94.5h0M544.6 101.3h0M550.0 111.5h0M537.9 89.0h0M545.1 104.5h0M551.4 97.3h0M536.1 93.9h0M544.5 97.1h0M551.2 109.3h0M544.0 104.9h0M544.2 105.1h0M532.7 95.5h0M545.8 84.8h0M538.5 106.6h0M535.9 98.2h0M541.9 113.9h0M546.3 113.6h0M538.3 86.2h0M537.2 84.6h0M540.2 80.1h0M549.0 102.6h0M550.9 101.0h0M542.3 96.4h0M536.7 95.1h0M539.7 98.7h0M555.2 99.2h0M541.5 112.8h0M540.4 94.0h0M540.5 94.2h0M543.7 96.3h0M543.6 87.8h0M539.1 88.6h0M547.7 86.9h0M551.2 94.2h0M544.7 91.3h0M544.6 112.2h0M537.0 107.3h0M540.1 120.4h0M541.8 82.7h0M543.4 109.5h0M553.3 95.2h0M536.3 113.9h0M537.8 101.2h0M535.0 88.8h0M534.8 116.9h0M542.3 99.5h0M539.5 103.7h0M532.2 91.7h0M529.6 89.7h0M537.9 85.9h0M550.3 94.6h0M537.7 97.9h0M541.9 76.6h0M546.4 114.0h0M547.5 99.9h0M546.1 119.7h0M544.6 116.3h0M531.3 87.8h0M539.7 95.5h0M528.3 103.5h0M553.3 93.3h0M543.2 98.2h0M541.8 99.0h0M544.3 102.2h0M537.2 86.2h0M532.9 90.9h0M544.4 112.7h0M541.1 95.0h0M554.0 102.3h0M539.0 104.6h0M549.5 105.6h0M538.9 102.5h0M537.9 81.7h0M543.6 108.4h0M544.4 98.0h0M550.1 101.8h0M543.4 92.7h0M539.5 95.8h0"/>
</g>
<line x1="430.8" y1="180.6" x2="618.0" y2="58.0" stroke="#000" stroke-width="1.9"/>
<g clip-path="url(#c2)" stroke-linecap="round" stroke-width="3.50" fill="none">
<path stroke="#a5691b" d="M205.2 502.6h0M241.6 447.8h0"/>
<path stroke="#b17423" d="M217.2 386.0h0M240.2 388.2h0M233.3 452.5h0M270.2 392.5h0"/>
<path stroke="#bf812d" d="M190.2 432.2h0M222.9 444.8h0M214.0 452.8h0M206.4 416.9h0M299.8 365.8h0M215.5 368.3h0M219.3 456.9h0M225.7 436.8h0M213.0 455.3h0M198.4 421.9h0M233.3 468.2h0M225.3 380.5h0M212.1 445.5h0M259.7 426.4h0M164.9 408.6h0M253.0 373.1h0M205.8 416.9h0M210.6 397.2h0M211.4 387.1h0M202.0 421.2h0M152.9 430.4h0M190.1 454.2h0M246.1 435.5h0M283.5 383.4h0"/>
<path stroke="#c79040" d="M228.2 406.6h0M233.2 456.0h0M205.3 435.0h0M212.9 430.7h0M215.5 454.5h0M234.2 435.2h0M203.9 491.7h0M296.8 415.0h0M220.3 391.1h0M174.2 468.9h0M212.1 437.5h0M229.6 445.8h0M253.3 444.7h0M255.8 406.4h0M192.6 414.9h0M229.3 448.1h0M200.5 409.5h0M265.7 453.4h0M199.3 394.9h0M233.9 407.9h0M268.6 386.1h0M264.1 387.7h0M227.5 413.1h0M215.0 434.4h0M230.0 423.8h0M284.2 411.6h0M270.3 424.3h0M265.7 366.0h0M263.2 467.8h0M206.8 397.1h0M218.5 447.3h0M220.2 383.3h0M248.4 439.0h0M220.4 422.9h0M225.8 427.4h0M252.9 355.9h0"/>
<path stroke="#cfa256" d="M196.1 440.5h0M274.2 399.9h0M253.8 408.5h0M229.2 416.0h0M207.6 449.3h0M200.8 369.9h0M202.5 443.0h0M236.9 415.1h0M323.2 307.4h0M222.8 435.8h0M277.2 457.1h0M225.6 426.0h0M194.5 425.9h0M217.2 469.7h0M267.6 357.6h0M202.4 425.4h0M214.6 407.8h0M168.4 377.2h0M284.5 373.8h0M212.6 384.5h0M176.5 496.0h0M259.2 440.7h0M193.8 423.4h0M254.3 427.0h0M218.8 456.4h0M202.5 426.6h0M207.5 426.0h0M247.6 391.2h0M280.8 395.0h0M249.5 402.5h0M221.7 414.4h0M210.7 466.3h0M226.2 422.9h0M233.2 415.5h0M239.3 450.7h0M167.4 432.3h0M214.5 422.8h0M232.9 410.2h0M252.8 451.8h0M208.3 432.7h0M204.1 429.1h0M245.9 396.8h0M299.0 386.9h0M237.1 436.6h0M217.8 409.4h0M277.6 387.7h0M218.2 439.3h0M204.5 432.6h0M224.1 400.1h0M234.0 406.2h0M212.2 389.3h0M200.9 410.3h0M214.2 451.1h0M201.7 436.7h0M254.1 377.8h0M211.5 376.8h0"/>
<path stroke="#d7b169" d="M224.6 457.2h0M301.7 414.6h0M284.2 391.4h0M236.3 448.6h0M271.7 362.2h0M247.7 397.5h0M194.4 381.0h0M233.4 426.2h0M216.5 462.4h0M205.1 401.0h0M243.0 477.0h0M205.7 399.1h0M271.1 370.9h0M215.2 399.2h0M230.3 439.5h0M187.4 421.4h0M235.3 420.6h0M199.6 437.2h0M207.9 406.0h0M238.4 443.9h0M205.9 426.6h0M234.3 422.5h0M217.8 446.7h0M207.1 390.4h0M204.0 453.0h0M280.3 406.2h0M249.6 460.9h0M201.6 460.4h0M295.8 346.2h0M262.6 374.2h0M198.0 442.2h0M250.7 402.8h0M198.9 439.5h0M215.1 386.3h0M236.5 463.3h0M223.3 423.3h0M237.6 290.6h0M198.8 446.7h0M255.8 412.1h0M206.7 414.8h0M221.7 389.5h0M191.5 467.2h0M251.7 481.0h0M243.0 378.3h0M218.5 449.1h0M192.5 398.3h0M280.9 413.8h0M206.2 403.6h0M280.9 394.9h0M243.0 355.8h0M233.5 424.9h0"/>
<path stroke="#dec17b" d="M213.3 445.1h0M209.1 453.1h0M257.4 430.4h0M177.6 461.1h0M290.8 398.3h0M234.4 482.5h0M252.2 440.4h0M177.3 444.0h0M227.9 398.4h0M221.6 389.4h0M199.1 419.8h0M238.5 448.3h0M220.4 380.3h0M278.5 438.0h0M233.8 369.1h0M242.4 312.6h0M157.5 472.9h0M223.9 446.9h0M221.5 424.1h0M195.0 443.4h0M222.4 477.4h0"/>
<path stroke="#e5cc8f" d="M248.5 444.0h0M202.4 440.1h0M188.9 443.0h0M213.5 427.1h0M245.2 419.4h0M225.4 431.2h0"/>
<path stroke="#995d13" d="M251.7 461.1h0"/>
<path stroke="#a5691b" d="M219.6 469.0h0"/>
<path stroke="#b17423" d="M240.8 463.6h0M263.9 475.2h0M239.8 479.2h0M274.7 461.9h0"/>
<path stroke="#bf812d" d="M217.9 480.8h0M251.4 474.3h0M231.6 453.9h0M284.9 454.9h0M245.5 471.7h0M252.4 443.0h0M244.8 484.2h0M219.0 467.6h0M266.1 467.6h0M210.1 469.5h0"/>
<path stroke="#c79040" d="M259.8 459.8h0M243.1 460.0h0M224.7 464.3h0M237.9 485.8h0M257.3 461.4h0M252.1 460.2h0M215.8 483.3h0M260.1 463.0h0M236.6 462.9h0M275.6 456.4h0M263.8 475.1h0M246.2 459.6h0M237.7 473.8h0M280.2 467.4h0M214.3 482.1h0M260.9 471.6h0M245.0 479.7h0M258.3 451.4h0M294.5 465.6h0M270.8 462.5h0M204.7 466.4h0M220.5 479.2h0M207.8 481.0h0M254.3 480.7h0M231.5 465.5h0"/>
<path stroke="#cfa256" d="M277.0 449.0h0M277.8 445.7h0M241.9 468.7h0M262.1 458.5h0M266.0 454.5h0M245.3 456.3h0M216.6 482.6h0M232.3 465.3h0M216.7 495.0h0M205.7 468.3h0M222.9 500.9h0M258.1 462.0h0M217.4 480.7h0M209.2 492.7h0M294.3 452.1h0M211.9 486.0h0M239.8 487.4h0M167.5 497.6h0"/>
<path stroke="#d7b169" d="M233.2 487.4h0M292.6 449.1h0M255.2 465.0h0M232.6 486.0h0M248.7 476.5h0M238.9 462.8h0M223.6 484.9h0M267.6 456.7h0M223.0 484.8h0M255.0 478.6h0M199.9 476.7h0M258.2 458.7h0"/>
<path stroke="#dec17b" d="M271.5 447.1h0M261.1 471.2h0M267.9 460.1h0M236.7 470.0h0M277.4 461.8h0M256.6 470.9h0"/>
<path stroke="#e5cc8f" d="M231.9 470.6h0M249.4 461.2h0M249.1 477.0h0"/>
<path stroke="#b17423" d="M188.3 439.1h0M230.7 405.3h0M212.7 416.2h0M189.2 441.5h0M224.1 398.9h0M187.1 439.5h0M271.9 353.7h0M189.8 422.2h0M217.4 387.3h0"/>
<path stroke="#bf812d" d="M223.9 406.0h0M230.2 410.7h0M279.2 355.2h0M258.1 385.4h0M255.2 385.8h0M243.8 376.6h0M227.5 389.8h0M214.7 408.9h0M182.1 436.4h0M191.7 424.9h0M244.7 382.5h0M194.0 429.4h0M257.0 371.2h0M185.8 425.5h0M184.3 438.7h0M245.4 386.1h0M210.8 418.4h0M211.5 448.3h0M236.3 403.1h0M248.3 366.7h0M188.2 419.0h0"/>
<path stroke="#c79040" d="M204.8 430.7h0M191.5 434.4h0M252.0 395.3h0M203.1 366.7h0M263.7 382.5h0M222.5 397.7h0M231.1 414.6h0M237.0 407.8h0M229.7 396.4h0M217.5 386.2h0M230.2 386.7h0M195.6 415.0h0M242.8 374.2h0M189.3 425.3h0M275.3 359.3h0M282.5 408.9h0M242.4 383.7h0M237.2 412.1h0M236.4 426.0h0M202.1 434.3h0M179.0 431.7h0M233.6 407.1h0M299.3 364.7h0M234.8 388.8h0M196.8 460.2h0M240.4 400.8h0M235.4 397.8h0M244.0 390.1h0M207.6 443.1h0M243.3 418.8h0M193.5 450.0h0M172.1 421.8h0M229.8 397.8h0M197.1 446.3h0M287.1 383.7h0M231.7 401.0h0M218.8 418.2h0M219.8 390.0h0M214.1 433.8h0M255.3 402.4h0M273.4 354.1h0M213.2 400.7h0M221.9 402.0h0M203.6 424.6h0M239.0 406.9h0M192.2 432.1h0M225.5 451.4h0M243.6 427.6h0M222.3 438.8h0M258.2 374.8h0M241.8 387.4h0M186.6 420.2h0M202.0 446.7h0M261.5 387.4h0M209.7 426.8h0M222.3 387.7h0M248.1 351.2h0M195.9 414.4h0"/>
<path stroke="#cfa256" d="M194.4 415.1h0M222.8 424.4h0M223.5 407.1h0M183.0 454.3h0M197.4 454.9h0M252.0 406.2h0M277.6 355.2h0M183.6 439.7h0M244.1 359.9h0M211.9 397.3h0M254.6 360.0h0M251.6 412.6h0M198.8 426.0h0M281.1 379.5h0M186.0 444.8h0M272.5 342.2h0M245.8 394.4h0M183.6 422.9h0M203.1 413.6h0M216.4 452.5h0M193.3 435.7h0M190.9 441.3h0M203.5 449.3h0M227.3 407.3h0M252.9 412.5h0M219.0 385.4h0M258.1 368.7h0M221.3 406.4h0M181.7 450.9h0M297.9 380.7h0M254.6 381.5h0M224.9 422.6h0M284.3 357.7h0M180.6 438.4h0M223.1 420.8h0M208.6 416.1h0M234.0 384.5h0M176.7 449.4h0M280.3 346.1h0M229.3 380.9h0M255.0 387.2h0M243.8 420.5h0M200.1 427.7h0M187.4 454.1h0M232.4 409.9h0M223.1 392.1h0M220.0 430.7h0M227.4 407.3h0M236.8 426.3h0M299.3 374.3h0M230.6 412.8h0M225.1 397.5h0M220.3 411.3h0M180.6 436.3h0"/>
<path stroke="#d7b169" d="M188.4 409.5h0M279.2 357.0h0M260.0 377.4h0M191.6 463.6h0M261.5 377.6h0M273.2 344.5h0M247.9 390.7h0M272.6 349.4h0M219.0 432.9h0M269.2 357.2h0M257.6 391.4h0M256.8 376.5h0M191.5 432.7h0M225.2 399.9h0M204.3 417.1h0M216.1 416.4h0M185.3 409.5h0M198.6 431.9h0M222.5 416.6h0M264.4 372.9h0M272.1 381.6h0M166.7 435.8h0M202.6 417.8h0M227.5 381.4h0M195.0 457.8h0M220.9 416.6h0M184.4 417.4h0M256.2 339.8h0M237.5 415.2h0M166.3 437.8h0M196.1 427.7h0M244.7 378.4h0M184.0 434.8h0M262.3 343.1h0M186.4 452.1h0M219.8 402.3h0M216.8 412.1h0M228.3 456.1h0M264.7 376.9h0M265.1 384.4h0M257.6 366.6h0M179.3 439.4h0M197.8 445.0h0M178.5 424.2h0M237.5 430.9h0M236.8 370.0h0M250.5 416.6h0M228.4 385.7h0M262.8 361.8h0M267.3 396.2h0"/>
<path stroke="#dec17b" d="M196.5 453.1h0M224.2 409.0h0M195.9 444.3h0M240.6 402.5h0M280.9 359.1h0M257.3 342.8h0M181.5 449.0h0M256.0 338.1h0M235.7 393.6h0M196.9 439.4h0M237.7 444.2h0M208.4 425.0h0M260.2 382.7h0M187.6 457.7h0M222.0 406.6h0M219.9 379.8h0M275.6 370.8h0M250.4 386.6h0M239.9 363.8h0M258.8 392.7h0M185.8 437.1h0M221.8 391.3h0M236.8 424.8h0M281.3 371.1h0M298.7 368.4h0M239.2 405.0h0M271.2 364.8h0"/>
<path stroke="#e5cc8f" d="M269.1 373.5h0M226.2 407.7h0M238.4 369.9h0M203.9 412.2h0M250.7 371.1h0M197.6 449.2h0M294.6 368.3h0M204.4 445.1h0M255.5 367.0h0M194.5 457.6h0"/>
<path stroke="#ead59f" d="M265.8 402.4h0"/>
<path stroke="#bf812d" d="M268.1 372.4h0M282.3 354.0h0M269.6 366.3h0M279.6 353.6h0M278.4 350.9h0M259.5 356.0h0"/>
<path stroke="#c79040" d="M285.0 352.1h0M270.0 361.8h0M272.5 361.5h0M291.5 355.9h0M279.3 359.9h0M250.1 366.9h0M268.4 362.3h0M294.5 364.0h0M284.5 361.2h0M252.5 372.7h0M275.6 352.1h0M256.2 365.9h0M283.7 344.8h0M247.5 371.6h0M280.1 352.2h0"/>
<path stroke="#cfa256" d="M260.9 364.0h0M265.6 348.4h0M282.3 351.2h0M259.1 363.2h0M269.3 354.8h0M266.8 370.4h0M265.2 357.6h0M255.9 364.8h0M267.0 365.5h0M297.2 332.8h0M272.2 374.4h0"/>
<path stroke="#d7b169" d="M260.8 361.2h0M278.0 351.6h0M271.1 356.1h0M269.6 367.5h0M254.0 377.0h0M263.8 354.4h0M282.9 360.5h0M273.0 353.2h0M275.7 367.2h0M265.9 355.0h0M262.6 368.1h0M278.0 348.0h0"/>
<path stroke="#dec17b" d="M266.6 361.6h0M274.4 362.1h0M280.4 357.1h0M272.3 350.2h0M275.5 359.1h0"/>
<path stroke="#e5cc8f" d="M255.0 362.2h0"/>
<path stroke="#bf812d" d="M247.3 492.4h0"/>
<path stroke="#c79040" d="M239.0 497.7h0M235.4 508.3h0M265.3 485.3h0M228.0 510.6h0M235.4 480.0h0M264.1 492.9h0"/>
<path stroke="#cfa256" d="M245.0 513.8h0M241.2 489.4h0M269.7 476.5h0M229.6 522.3h0M266.3 511.1h0M270.0 495.6h0M244.5 512.5h0M251.4 501.3h0M222.6 490.1h0M246.1 488.9h0M228.6 495.7h0M234.8 499.7h0M237.5 485.9h0M245.9 499.7h0M261.7 490.2h0"/>
<path stroke="#d7b169" d="M239.9 498.6h0M273.4 505.1h0M254.6 489.8h0M240.4 507.2h0M269.3 488.2h0M237.9 498.5h0M250.0 480.3h0M255.9 508.2h0M244.3 507.8h0M208.8 513.5h0M273.2 494.0h0M273.5 488.9h0M255.8 494.4h0"/>
<path stroke="#dec17b" d="M220.0 494.8h0M261.0 497.4h0M243.5 487.4h0M252.9 495.8h0"/>
<path stroke="#e5cc8f" d="M251.4 518.1h0"/>
<path stroke="#bf812d" d="M188.2 457.5h0M142.6 453.3h0M175.5 460.6h0"/>
<path stroke="#c79040" d="M170.3 463.8h0M167.5 457.5h0"/>
<path stroke="#d7b169" d="M176.3 474.6h0"/>
<path stroke="#dec17b" d="M167.8 463.5h0M180.0 452.2h0"/>
<path stroke="#e5cc8f" d="M187.2 451.3h0M159.3 464.1h0M177.3 462.1h0M158.4 475.4h0M169.7 463.8h0M171.1 467.7h0M144.5 454.2h0M156.0 464.8h0M186.4 453.5h0"/>
<path stroke="#ead59f" d="M249.7 438.0h0M194.8 458.6h0M186.8 456.7h0M181.6 463.4h0M152.2 474.0h0M158.2 465.2h0M187.5 467.3h0M185.8 464.5h0M207.0 435.9h0M170.3 462.8h0M171.4 467.6h0M169.7 454.6h0M178.5 457.1h0M166.7 466.4h0M182.6 445.9h0M161.0 465.6h0M190.4 447.3h0M176.3 464.5h0M176.0 444.7h0M139.8 463.7h0M154.5 468.7h0"/>
<path stroke="#f1dfb3" d="M159.3 471.4h0M177.1 470.8h0M153.9 459.0h0M184.3 447.6h0M156.6 467.3h0M184.6 462.9h0M179.6 446.7h0M182.7 459.0h0M172.4 459.7h0M156.2 452.8h0M198.0 453.8h0M197.9 451.8h0M182.0 464.4h0M169.5 470.2h0M159.2 467.8h0M178.3 459.4h0"/>
<path stroke="#f6e8c3" d="M197.4 454.4h0M185.4 469.4h0M176.2 467.7h0M189.0 460.8h0M151.4 481.0h0M176.1 450.7h0M179.8 462.6h0M180.2 451.2h0M170.5 467.5h0M175.6 454.3h0M179.0 464.9h0M171.2 461.1h0M154.8 456.2h0M157.5 463.0h0M176.3 453.7h0M161.4 466.2h0M161.0 466.6h0M168.6 458.6h0M159.9 458.0h0M173.5 439.4h0M178.8 464.1h0M168.4 459.6h0M172.5 453.5h0M161.5 460.8h0M143.0 474.6h0"/>
<path stroke="#f6ebcf" d="M171.8 463.1h0M181.0 464.9h0M184.0 451.2h0M155.1 467.5h0M188.7 465.7h0M141.7 480.7h0M171.4 467.2h0M172.2 460.9h0M177.6 461.5h0M206.4 448.4h0M174.2 472.0h0M154.1 482.7h0M203.4 448.4h0M188.0 465.9h0M156.1 480.1h0M162.2 446.6h0M159.9 454.7h0M203.3 452.6h0M135.7 472.6h0M194.7 455.8h0M188.1 444.6h0M176.7 453.6h0M175.2 461.1h0M167.9 460.9h0M174.5 470.4h0"/>
<path stroke="#f5efdc" d="M208.2 440.7h0M177.4 460.6h0M179.5 460.5h0M139.7 481.9h0M182.1 440.2h0M177.7 461.3h0M174.5 460.9h0M171.8 453.3h0M154.8 463.4h0M159.4 470.8h0M191.0 448.6h0M175.9 455.6h0M181.7 458.4h0M187.4 455.1h0M179.6 454.0h0M166.7 462.8h0M148.0 480.4h0M156.4 466.2h0M167.9 470.8h0M191.7 463.8h0M181.3 453.4h0M186.6 474.9h0M189.7 447.3h0M182.0 456.2h0M206.7 451.4h0M144.5 469.8h0M159.9 471.0h0M176.3 449.4h0M198.8 466.1h0M177.2 456.6h0M186.4 460.5h0M169.4 468.0h0"/>
<path stroke="#f5f2e8" d="M177.2 452.7h0M158.1 475.7h0M181.0 458.6h0M134.2 475.5h0M167.1 464.1h0M189.2 452.9h0M161.6 467.3h0M154.4 472.2h0M152.3 474.7h0M213.4 461.2h0M127.8 479.5h0M198.6 448.7h0M180.1 453.7h0M177.3 452.4h0M175.4 444.3h0M145.6 466.7h0"/>
<path stroke="#f4f5f5" d="M154.5 462.2h0M172.4 456.6h0M142.2 477.7h0M167.8 449.1h0M171.9 455.8h0M163.1 473.0h0M193.9 453.8h0M169.7 448.1h0M129.1 480.7h0M177.4 462.6h0M202.4 449.9h0M160.5 469.0h0"/>
<path stroke="#e9f2f1" d="M187.0 461.8h0M182.4 449.4h0M142.0 464.3h0M211.0 452.8h0M143.5 465.3h0M193.3 457.8h0M168.4 457.3h0M172.7 461.0h0"/>
<path stroke="#def0ed" d="M150.3 449.6h0M202.4 459.9h0M144.6 467.6h0M171.6 455.1h0"/>
<path stroke="#d2ede9" d="M179.8 453.7h0M195.3 452.5h0"/>
<path stroke="#c7eae5" d="M161.0 464.3h0"/>
<path stroke="#b4e2db" d="M169.7 460.6h0"/>
<path stroke="#995d13" d="M205.7 522.0h0"/>
<path stroke="#a5691b" d="M208.0 528.3h0M239.1 499.9h0M205.1 511.2h0M221.4 505.9h0"/>
<path stroke="#b17423" d="M199.5 514.4h0M205.5 495.2h0M212.1 511.6h0M207.1 526.2h0M190.6 522.7h0M207.4 531.1h0M214.4 512.4h0M197.6 495.1h0M207.4 543.6h0M213.5 499.2h0M236.5 491.4h0M233.2 503.7h0"/>
<path stroke="#bf812d" d="M230.3 514.3h0M241.9 504.5h0M187.6 511.7h0M216.0 498.9h0M195.2 504.5h0M222.1 524.9h0M217.1 509.9h0M217.8 512.9h0M214.2 534.0h0M197.1 511.7h0M221.3 533.0h0M234.5 515.4h0M192.7 512.3h0M229.0 528.8h0M234.1 510.7h0M212.5 510.2h0M209.8 499.8h0M232.2 486.5h0M217.3 517.9h0M214.8 516.5h0M203.3 488.6h0M202.3 501.4h0M220.9 514.5h0M212.0 502.0h0M241.7 507.8h0M219.1 527.9h0M219.6 505.6h0M195.1 502.8h0M198.8 542.5h0M219.9 504.7h0"/>
<path stroke="#c79040" d="M245.5 516.5h0M213.8 506.2h0M230.9 476.6h0M214.2 489.5h0M191.4 504.5h0M214.9 514.0h0M195.2 534.5h0M196.5 525.3h0M216.8 501.7h0M193.3 499.4h0M214.7 536.2h0M208.4 533.5h0M216.0 510.8h0M219.6 500.1h0M216.1 503.0h0M193.6 496.2h0M214.1 533.2h0M212.8 539.7h0M239.4 516.3h0M205.2 493.3h0M204.9 468.0h0M183.4 507.4h0M188.3 521.2h0M213.0 496.3h0M231.6 497.2h0M222.8 512.8h0M203.8 501.2h0M207.5 511.2h0M187.4 503.4h0M220.8 521.5h0M215.8 505.3h0M222.2 526.1h0M226.0 533.2h0M199.8 492.9h0M214.0 506.4h0M216.7 500.9h0M237.2 483.5h0M224.1 514.7h0M188.5 497.9h0M178.9 525.9h0M186.3 485.2h0M211.1 500.7h0M208.0 473.4h0M205.5 507.3h0M223.5 503.7h0M225.7 504.5h0M206.9 490.7h0"/>
<path stroke="#cfa256" d="M233.1 474.4h0M204.9 508.5h0M225.7 503.5h0M215.9 492.8h0M219.2 511.5h0M219.0 517.8h0M209.1 520.4h0M212.5 512.5h0M199.3 521.6h0M221.3 488.7h0M199.5 499.9h0M230.9 493.4h0M209.1 513.4h0M176.8 507.4h0M213.9 506.4h0M229.4 500.0h0M184.5 532.0h0M201.7 508.6h0M192.6 514.1h0M219.9 501.2h0M199.8 502.5h0M202.4 534.8h0M201.0 493.2h0M210.5 517.6h0M228.5 504.8h0M204.0 499.7h0M209.0 521.1h0M219.0 471.8h0M190.5 488.0h0M174.5 524.7h0M249.3 483.4h0M201.7 503.6h0"/>
<path stroke="#d7b169" d="M219.4 477.3h0M224.2 510.2h0M183.2 516.7h0M216.0 479.9h0M195.5 515.8h0M227.3 500.9h0M185.6 527.1h0M198.9 526.2h0M217.7 514.1h0M222.7 497.1h0M158.3 514.0h0M234.7 500.4h0M201.1 500.1h0M186.5 483.5h0M172.6 527.9h0M216.5 513.5h0M226.3 492.7h0M199.6 508.4h0M187.2 537.6h0"/>
<path stroke="#dec17b" d="M230.3 512.5h0M218.5 515.2h0M210.8 507.4h0M208.6 500.6h0"/>
<path stroke="#e5cc8f" d="M215.3 513.2h0"/>
<path stroke="#f4f5f5" d="M162.1 545.2h0M124.9 542.6h0M149.5 538.9h0"/>
<path stroke="#def0ed" d="M127.6 524.4h0M106.4 535.0h0M131.1 530.4h0M161.0 529.4h0M135.2 550.2h0M140.6 515.8h0M147.1 527.0h0M98.8 524.5h0M143.6 530.0h0M133.2 540.5h0"/>
<path stroke="#d2ede9" d="M125.0 541.6h0M154.4 530.6h0M128.1 529.0h0M136.7 534.1h0M79.2 526.1h0M117.6 532.0h0M137.0 513.8h0M89.4 542.1h0M115.2 544.0h0M95.6 527.3h0M120.0 521.3h0M115.1 544.1h0M86.1 531.2h0"/>
<path stroke="#c7eae5" d="M146.9 542.5h0M126.3 521.9h0M188.4 518.8h0M136.3 530.1h0M77.2 538.9h0M120.9 539.4h0M120.9 503.2h0M143.3 523.3h0M101.8 529.7h0M181.5 509.0h0M94.6 541.2h0M140.3 528.7h0M129.5 532.4h0M144.0 529.5h0M162.3 525.5h0M107.0 537.5h0M119.0 530.7h0M142.5 520.7h0M128.0 532.7h0M127.4 518.3h0M141.2 535.5h0M148.4 543.7h0M168.3 532.0h0M162.0 524.6h0M151.0 517.4h0M131.2 532.5h0"/>
<path stroke="#b4e2db" d="M66.5 533.7h0M148.7 503.1h0M148.2 523.7h0M162.2 529.9h0M117.3 524.0h0M113.5 534.4h0M151.2 518.2h0M133.2 524.6h0M207.4 509.4h0M134.6 535.5h0M166.2 539.2h0M188.4 537.8h0M134.4 514.3h0M93.0 537.6h0M144.7 533.7h0M92.0 536.9h0M146.4 527.4h0M119.0 528.8h0M163.9 519.8h0M97.2 548.2h0M145.6 535.2h0M108.0 537.9h0M96.5 519.5h0M154.1 515.6h0M106.8 526.5h0M140.0 528.7h0M97.7 535.8h0M162.9 516.4h0M185.4 514.4h0"/>
<path stroke="#a3dbd3" d="M135.0 519.4h0M126.5 522.7h0M114.3 523.2h0M135.6 521.8h0M142.8 527.5h0M111.7 527.2h0M171.4 528.5h0M161.2 535.3h0M112.5 537.6h0M157.5 534.4h0M110.4 537.6h0M153.4 526.4h0M147.1 533.4h0M106.7 535.7h0M87.3 534.8h0M130.6 528.2h0M99.1 535.4h0M109.5 527.1h0M122.6 514.7h0M80.6 549.8h0M120.8 518.2h0M138.8 529.8h0M179.5 531.6h0M97.2 533.9h0M171.1 521.4h0M115.8 527.5h0M105.5 538.1h0M148.9 529.8h0M114.5 534.8h0M92.6 534.2h0M151.7 530.1h0M130.0 523.1h0"/>
<path stroke="#92d4ca" d="M115.5 521.5h0M123.8 538.4h0M120.5 520.4h0M102.9 525.6h0M151.3 535.6h0M123.7 516.5h0M130.2 515.0h0M154.2 528.0h0M119.6 541.4h0M180.2 536.4h0M115.1 527.2h0M159.1 525.0h0M155.0 517.3h0M142.4 539.5h0"/>
<path stroke="#7fccc0" d="M143.4 536.6h0M115.5 525.8h0M132.9 539.0h0M122.1 534.8h0M137.9 521.0h0M203.6 520.7h0M161.0 542.1h0M80.7 531.0h0M101.5 539.5h0"/>
<path stroke="#6dbfb4" d="M131.2 535.4h0M111.3 519.6h0"/>
<path stroke="#58b0a7" d="M120.8 542.1h0M100.9 546.1h0"/>
<path stroke="#58b0a7" d="M213.0 498.5h0"/>
<path stroke="#35978f" d="M215.0 488.9h0"/>
<path stroke="#278a82" d="M225.9 491.4h0M214.2 499.0h0M216.7 494.5h0M189.7 508.4h0M222.5 501.4h0"/>
<path stroke="#1a7e76" d="M231.0 493.7h0M197.4 490.9h0M198.3 493.3h0M178.7 507.3h0M186.3 496.3h0M202.1 490.8h0M203.4 492.5h0"/>
<path stroke="#0c7169" d="M190.1 491.9h0M186.6 501.0h0M205.3 491.4h0M208.2 494.8h0M200.0 497.1h0"/>
<path stroke="#01655d" d="M214.5 501.1h0M197.2 506.5h0M209.2 492.3h0M210.6 489.1h0M229.3 495.9h0M205.3 488.3h0M210.7 497.4h0M207.9 505.6h0M207.7 498.4h0M204.3 511.5h0M211.3 496.2h0M221.0 487.7h0M216.0 501.6h0M182.8 494.3h0"/>
<path stroke="#015b52" d="M208.5 493.6h0M206.3 497.4h0M226.6 494.8h0M187.3 505.6h0M207.6 499.4h0M224.9 504.4h0M201.5 497.8h0"/>
<path stroke="#005046" d="M206.4 499.0h0M181.0 502.7h0M190.4 493.6h0M182.0 505.3h0M176.1 493.8h0M200.6 486.6h0M191.6 501.3h0M183.5 486.3h0M202.9 491.2h0M199.1 507.1h0"/>
<path stroke="#00463b" d="M198.9 488.5h0M197.9 501.8h0M200.6 498.1h0M217.8 495.8h0M189.7 498.3h0M222.9 494.7h0M201.6 497.2h0M221.5 489.2h0"/>
<path stroke="#003c30" d="M202.2 489.1h0M198.5 493.2h0M200.0 491.3h0M202.7 496.0h0M191.2 499.5h0M207.6 498.7h0M199.0 497.6h0M202.3 496.7h0M203.1 497.7h0M204.5 495.4h0M220.5 496.1h0M192.7 488.5h0"/>
<path stroke="#c7eae5" d="M121.9 501.4h0"/>
<path stroke="#b4e2db" d="M147.1 478.1h0"/>
<path stroke="#a3dbd3" d="M203.9 471.9h0M109.2 489.3h0M81.1 493.3h0"/>
<path stroke="#92d4ca" d="M165.7 490.4h0M140.2 501.5h0M145.7 476.7h0M132.9 473.6h0"/>
<path stroke="#7fccc0" d="M126.7 512.8h0M133.5 499.5h0M87.7 503.0h0M126.7 500.5h0M100.6 502.3h0M102.9 495.3h0M77.7 515.8h0M117.8 498.6h0M107.8 515.2h0M175.4 475.1h0M66.5 520.0h0M172.5 497.5h0M157.6 469.4h0M171.8 506.1h0"/>
<path stroke="#6dbfb4" d="M147.1 488.8h0M151.2 483.6h0M79.1 499.2h0M153.6 473.8h0M174.3 500.5h0M156.5 499.1h0M110.8 510.3h0M150.6 476.0h0M123.7 495.5h0M123.1 479.0h0M99.5 498.4h0M183.0 479.3h0M137.8 490.9h0M172.1 494.5h0"/>
<path stroke="#58b0a7" d="M139.1 509.6h0M165.5 485.4h0M153.9 516.0h0M140.4 492.4h0M145.3 504.6h0M90.7 492.9h0M146.9 477.8h0M90.0 515.2h0M79.6 500.6h0M189.0 471.4h0M95.8 516.6h0M123.9 489.2h0M103.9 514.7h0M160.6 489.7h0M122.8 474.4h0M159.1 470.9h0M111.4 505.6h0M127.7 513.9h0M104.4 491.5h0M136.0 486.7h0M97.1 511.4h0M154.6 483.9h0M74.7 497.3h0M89.1 484.3h0M172.9 481.2h0M110.0 516.8h0M89.2 501.0h0M163.1 473.7h0"/>
<path stroke="#47a49b" d="M76.0 524.0h0M187.6 492.9h0M160.3 473.7h0M130.6 498.3h0M49.3 495.1h0M157.7 500.1h0M173.0 498.3h0M121.2 506.8h0M146.7 498.2h0M91.2 519.1h0M95.8 504.9h0M149.6 498.0h0M95.5 498.0h0M112.7 502.5h0M90.3 505.2h0M158.2 456.6h0M154.2 489.2h0M139.0 499.2h0M140.9 481.8h0M141.1 484.3h0M171.4 503.9h0M175.7 461.7h0M95.9 494.9h0M125.3 504.6h0M81.9 511.5h0M72.9 484.8h0M152.1 504.5h0M200.2 498.0h0M143.9 508.4h0"/>
<path stroke="#35978f" d="M141.4 502.2h0M141.5 495.8h0M157.3 478.6h0M109.3 512.0h0M129.4 492.0h0M177.9 488.6h0M153.8 513.1h0M203.3 473.5h0M190.1 482.6h0M155.2 476.3h0M171.6 482.2h0M124.7 500.0h0M168.0 498.4h0M120.6 500.8h0M97.2 493.4h0M115.6 467.2h0M138.1 487.6h0M145.4 479.5h0M98.7 520.0h0M158.4 489.9h0M137.6 494.5h0M77.7 493.6h0M145.8 496.8h0M138.0 501.1h0M158.2 486.1h0M145.4 494.9h0M137.4 497.6h0M102.2 504.3h0M178.2 504.5h0M141.1 498.2h0M99.0 489.1h0M132.8 496.3h0M152.0 499.9h0M148.5 508.5h0"/>
<path stroke="#278a82" d="M145.4 482.2h0M156.2 496.0h0M150.9 482.8h0M130.4 509.0h0M148.2 484.5h0M151.4 473.6h0M102.9 502.3h0M143.4 499.2h0M115.4 479.8h0M120.3 504.7h0M138.6 482.7h0M73.0 517.9h0M67.1 527.8h0M45.5 523.3h0M166.2 495.3h0M145.9 498.7h0M107.8 497.9h0M114.8 502.3h0M135.9 521.7h0M147.4 498.6h0M158.2 485.3h0M181.4 485.9h0M96.7 504.5h0M127.0 503.3h0"/>
<path stroke="#1a7e76" d="M138.6 498.8h0M132.1 494.2h0M89.5 497.3h0M93.0 506.7h0M154.5 480.2h0M111.9 518.6h0M150.2 502.8h0M168.7 473.0h0M120.0 478.6h0M115.3 508.8h0M162.2 485.0h0M176.2 483.8h0M146.0 499.8h0M96.0 499.7h0M158.9 505.9h0M134.2 497.8h0M114.2 510.6h0M81.5 517.5h0M197.2 480.2h0M119.3 515.3h0M104.2 493.4h0M139.5 510.7h0M89.4 494.3h0M122.6 486.6h0M82.3 530.6h0"/>
<path stroke="#0c7169" d="M90.4 507.0h0M148.2 490.8h0M126.0 453.6h0M95.1 479.0h0M119.7 498.4h0M106.4 480.4h0M124.8 483.3h0M143.5 472.6h0M130.9 490.8h0M166.9 475.3h0M172.7 488.1h0M139.2 475.0h0M129.0 494.6h0M146.2 502.6h0M130.0 503.7h0"/>
<path stroke="#01655d" d="M125.8 482.0h0M92.8 502.8h0M160.5 454.4h0M134.3 493.3h0M115.5 497.9h0M125.7 481.6h0M121.2 496.5h0M141.2 496.9h0M140.8 505.7h0M86.7 499.9h0M177.9 491.7h0M60.8 525.6h0M111.1 522.2h0M140.7 485.4h0M118.6 505.3h0M107.0 483.0h0M159.6 481.9h0M160.3 489.8h0M90.5 494.2h0M145.8 500.9h0M186.5 499.6h0M142.5 499.9h0M98.1 506.7h0M139.5 455.0h0M79.3 519.1h0"/>
<path stroke="#015b52" d="M127.9 495.7h0M142.0 487.0h0M138.8 519.9h0M178.2 464.1h0M80.9 495.3h0M127.2 495.7h0M170.4 481.3h0M182.2 506.3h0M216.0 490.9h0M122.3 483.1h0M128.4 488.8h0M143.7 515.6h0M129.1 501.5h0"/>
<path stroke="#005046" d="M114.0 494.7h0M101.3 493.5h0M142.4 486.5h0M127.6 495.9h0M161.5 495.6h0M126.0 497.8h0M161.6 488.4h0M155.4 494.3h0M166.5 476.0h0M108.3 505.0h0M172.0 471.1h0M138.1 482.8h0M128.2 484.4h0M203.2 489.6h0M131.8 508.6h0M91.1 504.0h0"/>
<path stroke="#00463b" d="M148.1 463.9h0M142.7 472.0h0M170.8 476.2h0M135.5 519.0h0M148.4 478.7h0M78.3 529.1h0M119.9 505.5h0M69.3 522.9h0M70.3 495.2h0"/>
<path stroke="#003c30" d="M94.4 515.7h0M98.2 502.7h0M149.8 509.0h0M139.7 504.4h0M118.2 477.2h0"/>
<path stroke="#7fccc0" d="M112.2 493.4h0M135.3 492.0h0M129.5 486.6h0"/>
<path stroke="#6dbfb4" d="M80.3 519.2h0M108.5 511.5h0M85.2 498.7h0M94.2 504.8h0M100.5 505.9h0"/>
<path stroke="#58b0a7" d="M131.4 519.3h0M84.9 519.8h0M95.2 521.0h0M90.7 502.3h0M82.9 511.7h0M135.5 506.7h0M74.6 498.8h0M74.5 491.9h0"/>
<path stroke="#47a49b" d="M116.1 503.0h0M103.4 506.1h0M74.9 499.5h0M106.1 515.3h0M121.2 503.8h0M109.0 517.6h0M112.4 497.1h0M86.1 511.2h0M99.8 508.4h0"/>
<path stroke="#35978f" d="M90.2 507.5h0M130.6 487.8h0M90.2 511.0h0M85.3 514.4h0M125.8 497.3h0M95.5 493.3h0M101.5 503.4h0M98.1 510.4h0M107.8 514.2h0M80.2 514.5h0M109.6 524.8h0M94.2 500.0h0M121.7 508.0h0M137.4 495.0h0"/>
<path stroke="#278a82" d="M117.2 500.0h0M104.1 510.9h0M75.6 507.0h0M105.3 510.4h0M77.7 501.5h0M137.2 489.7h0M125.0 512.2h0M138.1 492.4h0M99.9 490.1h0M98.1 495.6h0M122.8 514.5h0M119.1 492.7h0M112.5 503.3h0M128.1 515.1h0M134.6 503.2h0M107.2 492.6h0M118.6 509.5h0M130.2 503.7h0M81.6 511.9h0M112.1 507.2h0M131.5 497.5h0M117.9 505.5h0"/>
<path stroke="#1a7e76" d="M140.4 507.2h0M125.9 511.0h0M77.9 508.0h0M94.5 507.5h0M116.0 500.9h0M113.4 501.0h0M99.6 504.2h0M123.9 511.4h0M122.4 504.2h0M137.0 501.4h0M120.2 493.6h0M76.4 505.8h0M137.2 502.9h0M93.4 517.7h0M130.7 508.4h0M101.0 511.8h0M107.2 508.1h0M77.1 501.5h0M94.5 495.7h0M99.9 520.8h0M128.1 502.3h0M136.2 494.5h0M136.4 496.3h0M138.1 505.0h0M135.4 500.8h0M128.9 499.3h0M112.4 506.5h0M79.3 504.9h0M127.3 499.3h0M104.3 495.6h0M123.8 487.6h0"/>
<path stroke="#0c7169" d="M112.0 498.6h0M86.6 506.4h0M92.1 501.0h0M134.4 510.2h0M87.4 505.5h0M94.8 499.2h0M85.4 501.1h0M98.4 506.7h0M80.2 506.0h0M80.7 496.4h0M106.4 514.1h0M139.3 515.5h0M98.1 510.5h0M138.7 507.6h0M75.0 503.9h0M114.8 513.8h0M119.1 510.1h0M97.8 504.0h0M128.0 500.8h0M130.4 493.8h0M86.4 513.1h0M95.4 505.3h0M94.3 517.0h0M122.0 492.9h0M108.4 496.8h0M97.1 501.3h0M114.5 495.9h0M123.2 513.9h0M76.8 507.0h0"/>
<path stroke="#01655d" d="M119.8 495.4h0M83.7 511.1h0M90.3 508.7h0M106.4 501.3h0M105.6 501.4h0M107.4 496.8h0M125.0 492.7h0M99.0 492.8h0M135.0 513.3h0M139.2 510.7h0M83.4 503.2h0M128.2 495.1h0M94.3 521.8h0M136.0 502.3h0M100.7 503.9h0M103.8 491.7h0M120.3 500.4h0M88.7 506.4h0M78.7 492.3h0M97.6 506.8h0M79.7 500.5h0M75.8 508.8h0M138.0 487.7h0M99.6 508.7h0M118.5 504.2h0M92.7 501.9h0M128.2 498.9h0M92.7 486.5h0M91.7 508.6h0M73.9 492.4h0M79.8 513.6h0M91.7 499.7h0M136.7 478.8h0M107.2 509.9h0M129.8 494.5h0"/>
<path stroke="#015b52" d="M91.6 504.7h0M100.0 507.5h0M74.9 504.3h0M80.8 508.4h0M115.4 498.2h0M86.3 502.8h0M98.8 505.5h0M120.1 515.7h0M89.2 503.6h0M119.3 505.6h0M112.4 498.5h0M127.7 504.8h0M132.9 505.1h0M133.0 503.4h0M108.0 505.6h0M80.6 508.5h0M117.7 503.2h0M105.2 503.3h0M73.3 491.9h0M119.7 494.0h0M93.1 506.7h0M116.9 500.5h0M107.3 497.8h0M106.6 510.3h0M136.6 497.2h0M118.3 498.0h0M111.6 485.7h0"/>
<path stroke="#005046" d="M117.3 515.8h0M139.2 509.3h0M132.4 501.1h0M120.5 506.9h0M88.8 506.5h0M137.5 497.7h0M129.1 507.1h0M135.6 504.9h0M89.9 517.0h0M110.7 492.7h0M134.8 506.3h0M106.0 506.1h0M112.2 497.8h0M137.7 520.2h0M89.9 498.7h0M111.7 501.1h0M110.7 497.3h0"/>
<path stroke="#00463b" d="M107.1 505.7h0M121.0 511.4h0M126.5 508.6h0M130.2 510.0h0M127.3 486.2h0M100.1 505.1h0M89.4 499.6h0M104.8 519.5h0M112.5 489.5h0M88.4 503.0h0M81.6 503.8h0M138.5 489.4h0M81.0 506.6h0M78.8 514.0h0M140.2 508.4h0M129.7 502.1h0M115.6 504.6h0"/>
<path stroke="#003c30" d="M80.5 517.2h0M112.2 496.5h0M133.5 504.0h0M98.5 497.8h0M138.2 493.2h0M126.3 493.4h0M116.1 498.8h0M85.6 498.5h0M135.1 485.4h0M104.5 506.7h0M85.5 505.8h0M98.9 495.3h0M123.4 507.4h0"/>
<path stroke="#278a82" d="M154.2 494.9h0"/>
<path stroke="#1a7e76" d="M153.2 499.7h0M168.0 505.7h0M155.7 478.8h0"/>
<path stroke="#0c7169" d="M156.1 507.1h0M161.9 508.1h0M155.8 512.3h0M172.8 500.1h0M148.8 488.6h0M194.8 493.2h0M164.8 488.2h0M131.1 473.9h0M165.6 505.2h0M133.9 488.7h0"/>
<path stroke="#01655d" d="M196.6 467.3h0M133.3 514.9h0M138.9 515.2h0M183.8 477.4h0M167.6 493.1h0M133.3 500.0h0M178.9 502.6h0M128.1 510.0h0M148.1 496.6h0M137.4 498.2h0M165.5 491.1h0M133.9 496.9h0M185.5 488.3h0M131.1 508.5h0M142.3 516.0h0M140.7 505.9h0M173.0 499.0h0M171.1 503.4h0M125.3 486.5h0M190.3 493.2h0M155.8 498.6h0M188.6 483.0h0M134.4 506.8h0M130.9 503.1h0M150.8 531.7h0"/>
<path stroke="#015b52" d="M155.4 501.4h0M178.2 495.0h0M116.6 494.7h0M153.6 504.6h0M130.4 499.6h0M159.1 504.3h0M143.7 494.6h0M128.4 508.6h0M171.4 482.6h0M144.3 500.0h0M136.0 507.4h0M176.3 490.1h0M149.5 500.9h0M96.3 490.6h0M145.1 508.7h0M160.0 489.1h0M165.0 495.0h0M84.3 495.8h0M139.4 507.9h0M155.6 505.7h0M133.7 498.6h0M123.7 493.2h0M133.7 501.1h0M132.5 514.6h0M162.1 501.6h0M127.1 508.3h0"/>
<path stroke="#005046" d="M122.2 494.5h0M127.5 505.6h0M177.7 487.3h0M145.3 507.7h0M96.2 514.9h0M127.3 496.7h0M162.6 508.8h0M143.5 483.8h0M175.0 492.2h0M177.4 498.1h0M154.1 488.5h0M166.7 478.1h0M204.5 472.7h0M161.1 482.8h0M99.5 521.0h0M143.9 485.3h0M112.5 513.0h0M165.8 507.1h0M157.1 476.3h0M102.3 507.5h0M133.8 494.4h0M174.4 515.3h0M120.2 503.7h0M169.5 490.3h0M166.7 520.6h0M194.2 475.6h0M138.9 490.1h0M132.8 511.2h0M136.6 504.0h0M114.1 509.6h0M100.9 512.5h0M131.2 520.2h0M114.4 501.4h0M143.7 499.1h0M157.3 492.1h0M150.1 501.8h0M146.8 492.8h0M154.4 496.0h0M143.0 492.8h0M170.6 489.3h0M191.6 486.3h0M152.5 501.6h0M116.5 493.7h0M90.3 524.1h0M123.4 481.9h0M142.6 488.6h0M90.7 509.1h0M122.8 487.2h0M137.4 514.9h0M158.2 470.6h0M143.3 481.9h0M138.2 494.5h0M137.4 496.4h0M112.0 505.5h0M124.0 504.3h0"/>
<path stroke="#00463b" d="M157.3 502.1h0M164.0 507.7h0M186.2 474.4h0M155.2 504.8h0M141.4 485.2h0M164.0 493.9h0M150.6 482.7h0M126.5 515.1h0M177.5 484.0h0M217.0 469.1h0M178.8 476.9h0M134.6 491.1h0M158.4 495.6h0M123.9 481.3h0M128.8 489.6h0M163.5 485.4h0M190.6 481.6h0M147.6 489.2h0M163.7 516.6h0M182.5 489.3h0M176.8 489.0h0M155.3 483.5h0M154.9 486.4h0M147.0 486.2h0M138.2 513.9h0M179.3 477.7h0M152.0 504.9h0M139.0 492.7h0M146.4 480.1h0M105.8 498.5h0M151.1 498.5h0M119.1 504.0h0M177.8 494.1h0M162.9 483.6h0M137.8 502.7h0M194.6 503.6h0M176.3 508.0h0M143.5 493.3h0M133.0 500.4h0M114.1 516.0h0M99.7 516.3h0M150.2 497.0h0M201.0 486.5h0M100.9 503.3h0M163.6 497.4h0M133.8 492.3h0M169.5 517.6h0M175.3 500.2h0M168.8 485.6h0M175.9 500.5h0M149.8 496.8h0M145.3 506.5h0M141.8 490.0h0M154.2 506.6h0M172.2 505.9h0M126.8 495.2h0M158.4 499.6h0M168.6 498.1h0M173.8 502.0h0M178.3 490.1h0M143.0 480.6h0M181.3 522.4h0M128.6 507.1h0M144.5 503.9h0"/>
<path stroke="#003c30" d="M144.5 483.1h0M157.5 484.6h0M145.5 512.2h0M166.2 513.1h0M117.3 500.5h0M135.7 521.5h0M133.4 490.5h0M157.2 506.3h0M155.7 501.9h0M158.1 495.1h0M132.2 506.8h0M193.7 469.2h0M165.8 500.2h0M123.9 502.1h0M149.6 493.9h0M118.6 519.9h0M141.6 491.1h0M162.9 473.4h0M135.2 501.9h0M154.3 509.8h0M155.1 489.8h0M174.1 494.8h0M160.2 479.1h0M175.0 487.3h0M193.6 495.6h0M128.2 510.2h0M148.1 494.0h0M155.2 499.2h0M170.9 498.7h0M151.1 507.9h0M181.8 503.1h0M128.7 505.4h0M156.2 500.7h0M118.0 499.7h0M151.6 500.2h0M158.2 483.4h0M139.1 474.1h0M194.1 495.9h0M168.6 490.8h0M140.0 488.1h0M167.9 498.7h0M173.6 476.1h0M121.9 505.8h0M168.9 497.3h0M123.8 517.3h0M142.5 504.7h0M149.0 493.6h0M201.5 478.0h0M150.5 487.6h0M150.7 499.2h0M129.6 490.5h0M198.4 481.7h0M141.7 486.6h0M177.2 480.3h0M161.5 498.7h0M136.8 504.6h0M102.2 510.5h0M117.1 501.5h0M148.4 505.3h0M168.8 484.8h0M189.8 504.1h0M108.7 486.4h0M153.3 490.5h0M145.6 497.5h0M154.1 492.9h0M111.7 513.3h0M161.6 483.6h0M134.5 483.9h0M172.8 505.7h0M131.4 518.2h0M180.3 481.5h0M169.0 472.8h0M142.4 504.6h0M156.9 491.0h0M197.1 499.9h0M128.6 508.4h0M157.6 492.6h0M153.6 487.8h0M153.4 496.7h0M158.8 497.9h0M134.0 495.4h0M179.7 503.1h0M148.7 485.3h0M159.9 497.6h0M102.5 512.2h0M167.5 465.6h0M178.1 479.5h0M152.7 478.8h0M92.0 511.0h0M182.3 499.9h0M130.6 496.8h0M167.9 489.9h0M171.9 493.0h0M133.1 500.6h0M111.4 496.3h0M134.1 502.2h0M156.5 489.7h0M161.0 510.8h0M137.8 498.6h0M155.2 496.3h0M157.1 508.2h0M161.2 487.7h0M132.1 501.8h0M161.9 484.3h0M167.2 514.0h0M148.2 487.4h0M185.7 496.0h0M147.6 497.0h0M131.1 505.2h0M170.4 509.1h0M169.3 480.1h0M157.4 511.0h0M185.5 489.0h0M138.7 506.0h0M158.8 486.5h0M196.7 485.3h0"/>
<path stroke="#0c7169" d="M147.4 486.4h0M159.5 459.7h0"/>
<path stroke="#01655d" d="M135.2 475.4h0M119.6 480.1h0M135.8 483.4h0"/>
<path stroke="#015b52" d="M129.1 474.3h0M127.9 479.4h0M138.2 464.4h0M130.0 486.8h0M141.8 471.2h0M159.8 473.5h0M156.3 481.8h0M155.9 478.4h0M138.5 467.4h0M132.6 466.9h0"/>
<path stroke="#005046" d="M138.8 466.3h0M145.9 471.5h0M155.3 473.0h0M138.8 473.9h0M134.1 485.3h0M151.7 475.3h0M156.6 472.5h0M130.1 472.7h0M142.4 475.2h0M142.5 471.1h0"/>
<path stroke="#00463b" d="M122.9 480.8h0M136.9 478.4h0M129.5 476.9h0M152.4 470.0h0M131.1 475.3h0M116.3 469.9h0M136.5 472.3h0M142.3 477.0h0M139.3 483.8h0M135.9 479.0h0M150.2 475.7h0M123.0 486.1h0M126.6 485.8h0M131.1 478.8h0M140.8 473.3h0M139.5 475.5h0M133.6 480.5h0M107.9 486.6h0M133.4 473.2h0M135.7 470.9h0M125.7 489.3h0M140.7 483.6h0M142.2 475.4h0M126.6 473.9h0M131.4 483.3h0M147.9 466.4h0M154.6 476.0h0"/>
<path stroke="#003c30" d="M146.0 467.3h0M131.3 475.7h0M133.8 477.1h0M137.8 476.9h0M124.2 479.4h0M128.9 477.4h0M152.0 464.8h0M138.4 478.6h0M136.6 479.5h0M170.7 480.0h0M146.5 471.0h0M140.9 483.8h0M128.6 480.1h0M139.0 476.8h0M134.2 469.8h0M148.6 463.2h0M167.5 460.9h0M158.0 464.8h0M152.0 471.9h0M145.2 474.0h0M134.4 482.1h0M160.1 473.2h0M130.7 467.6h0M157.2 472.9h0M141.2 469.3h0M154.1 482.9h0M155.2 464.8h0M138.8 481.4h0"/>
<path stroke="#00463b" d="M161.2 507.4h0M144.5 517.5h0M164.3 500.4h0M145.8 490.8h0M146.7 502.8h0M156.0 505.0h0M148.5 509.4h0M151.9 504.9h0M137.0 492.5h0M160.0 500.7h0M137.5 512.2h0M125.3 501.0h0M137.7 505.8h0M176.5 484.5h0"/>
<path stroke="#003c30" d="M154.3 500.1h0M139.3 512.3h0M150.4 507.3h0M124.7 521.5h0M160.1 505.1h0M145.6 494.7h0M152.6 499.1h0M140.7 500.5h0M159.0 498.7h0M134.1 509.4h0M158.5 502.9h0M140.7 499.1h0M152.9 511.3h0M135.9 498.6h0M143.3 494.6h0M174.1 490.2h0M160.4 494.2h0M182.8 500.9h0M163.1 491.0h0M159.8 501.6h0M175.2 499.1h0M153.9 497.1h0M138.3 510.4h0M134.3 506.7h0M153.0 488.1h0M129.3 492.8h0M154.9 500.6h0M151.2 500.6h0M169.5 526.1h0M157.8 514.8h0M131.6 507.9h0M170.8 491.0h0M169.6 490.6h0M150.0 497.9h0M148.8 485.2h0M148.1 502.6h0M148.6 510.8h0M160.3 496.6h0M162.1 493.5h0M150.9 505.8h0M155.7 509.9h0M150.2 499.2h0M167.6 500.9h0M167.8 517.4h0M166.4 499.1h0M152.4 495.5h0M153.4 496.0h0M166.4 497.6h0M134.7 509.4h0M171.6 502.4h0M162.9 510.9h0M144.1 506.7h0M152.0 506.4h0M138.3 513.7h0M148.8 509.2h0M171.2 499.4h0M181.9 488.4h0M142.6 499.5h0M149.9 508.5h0M172.3 498.1h0M145.3 501.1h0M129.1 509.2h0M131.9 515.3h0M140.2 519.6h0M121.7 516.5h0M126.8 506.4h0M145.4 507.5h0M177.1 503.9h0M132.3 515.9h0M127.2 503.6h0M171.2 487.7h0M142.1 504.7h0M134.0 510.5h0M128.9 516.3h0M155.5 500.4h0M167.9 489.4h0M159.6 502.6h0M151.1 503.5h0M142.2 494.1h0M124.3 514.0h0M164.6 498.2h0M145.6 493.5h0M175.3 492.9h0M164.2 503.8h0M140.2 506.2h0M161.7 497.7h0M155.3 505.1h0M116.7 514.4h0M148.9 502.2h0M127.9 503.3h0M145.7 498.7h0M150.6 496.8h0M146.2 501.0h0M177.5 493.7h0M122.6 498.7h0M159.6 504.6h0M142.6 498.9h0M155.0 487.3h0M158.7 501.9h0M152.4 487.3h0M157.9 506.5h0M145.5 497.9h0M134.9 504.7h0M161.3 500.7h0M159.7 508.8h0M140.4 493.4h0M130.2 505.9h0M151.1 502.5h0M171.5 489.9h0M126.2 498.7h0M147.9 518.9h0M153.1 503.4h0M129.2 503.7h0M138.1 511.5h0M149.5 509.1h0M134.7 505.9h0M161.3 510.5h0M176.1 487.9h0M168.7 495.6h0M149.1 500.4h0M150.0 488.2h0M156.2 496.4h0M149.8 487.7h0M148.1 499.6h0M147.3 502.9h0M164.1 498.4h0M156.9 495.6h0M135.3 501.9h0M142.9 508.4h0M160.6 504.8h0M155.6 497.6h0M138.4 513.3h0M163.8 487.0h0M184.9 488.4h0M168.2 490.5h0M158.3 501.5h0M166.3 499.8h0M144.1 515.2h0M127.1 505.3h0M128.8 514.8h0M153.4 498.9h0M175.6 500.7h0M154.3 500.8h0M167.6 501.6h0M172.7 500.3h0M148.2 503.7h0M147.5 512.6h0M169.8 494.9h0M156.0 497.3h0M153.9 498.1h0M171.8 491.9h0M169.2 494.3h0M160.0 499.9h0M143.8 499.7h0M158.2 505.9h0M161.8 504.2h0M152.5 510.6h0M149.7 502.3h0M131.4 511.9h0M158.4 505.0h0M203.9 490.3h0M134.2 500.5h0M162.0 497.5h0M161.5 502.9h0M145.4 489.5h0M137.3 501.2h0M154.4 496.1h0M158.4 514.3h0M125.2 510.5h0M151.1 518.4h0M131.0 494.2h0M149.9 507.3h0M178.9 508.4h0M168.3 497.8h0M145.9 498.7h0M134.9 504.6h0M137.4 509.0h0M160.3 505.0h0M137.9 501.5h0M145.8 492.0h0M144.0 502.6h0M153.3 497.2h0M176.6 500.9h0M143.5 499.6h0M149.8 506.9h0M165.4 504.3h0M161.2 503.0h0M137.5 503.3h0M155.4 505.0h0M166.6 486.7h0M139.8 507.6h0M170.9 506.0h0M147.2 498.9h0M176.4 501.1h0M157.7 497.7h0M145.5 508.5h0M152.3 501.3h0M150.6 506.8h0M167.3 502.5h0M151.1 489.9h0M158.9 500.1h0M122.0 506.6h0M153.8 506.3h0M165.0 490.1h0M166.4 499.3h0M145.8 479.4h0M157.5 505.2h0M154.7 506.3h0M175.6 497.1h0M157.8 500.4h0M138.4 515.5h0M165.7 494.8h0M147.5 508.7h0M153.1 495.4h0M145.2 514.5h0M144.8 502.4h0M161.2 504.9h0M164.1 496.5h0M149.3 503.6h0M144.3 518.9h0M152.3 510.4h0M141.0 500.7h0M143.1 500.4h0M130.5 503.6h0M162.8 508.8h0M169.9 505.8h0M178.8 497.2h0M171.1 506.4h0M148.8 504.3h0M170.4 509.6h0M142.1 516.7h0M145.7 496.7h0M137.7 493.0h0M149.9 503.2h0M174.1 501.7h0M177.9 512.8h0M177.8 492.8h0M143.8 505.8h0M152.9 507.0h0M147.4 499.5h0M170.9 501.4h0M175.0 506.3h0M147.0 511.1h0M164.1 504.7h0M163.3 495.4h0M145.1 496.6h0M132.3 501.5h0M131.9 514.0h0M158.6 500.9h0M160.9 487.5h0M181.7 487.5h0M156.6 501.6h0M145.6 508.1h0M151.0 508.9h0M166.1 497.5h0M181.9 500.4h0M145.3 500.2h0M159.4 482.9h0M139.1 507.1h0M162.2 500.6h0M152.8 496.0h0M141.6 516.8h0M148.6 505.1h0M153.7 511.9h0M124.8 509.0h0M140.8 503.7h0"/>
</g>
<line x1="79.0" y1="527.8" x2="311.6" y2="428.1" stroke="#000" stroke-width="1.9"/>
<g clip-path="url(#c3)" stroke-linecap="round" stroke-width="3.50" fill="none">
<path stroke="#a5691b" d="M545.3 478.6h0M537.0 490.8h0M607.9 489.4h0M501.6 441.0h0M587.9 535.6h0M503.1 461.0h0"/>
<path stroke="#b17423" d="M570.7 454.5h0M489.2 400.5h0M565.7 474.1h0M549.1 441.8h0M552.8 489.0h0M540.4 510.2h0M538.7 477.9h0M493.1 457.3h0M446.9 433.4h0M536.6 483.8h0M531.8 433.6h0M448.8 404.8h0M590.4 485.4h0M539.9 484.9h0M565.3 502.9h0M573.9 525.8h0M508.6 450.3h0M499.3 443.2h0M514.7 441.5h0"/>
<path stroke="#bf812d" d="M568.6 502.7h0M538.3 477.4h0M623.8 542.5h0M565.1 500.0h0M518.8 461.6h0M565.4 461.6h0M501.8 400.4h0M527.2 451.3h0M576.6 460.1h0M594.9 496.6h0M577.9 472.9h0M568.8 480.8h0M529.9 443.8h0M467.6 417.4h0M517.9 477.6h0M617.4 544.3h0M502.6 449.3h0M529.6 463.6h0M466.8 441.4h0M583.4 507.9h0M494.3 425.0h0M475.0 444.0h0M519.7 480.5h0M591.2 514.0h0M533.7 492.4h0M517.9 446.4h0M516.8 444.9h0M535.5 464.4h0M523.5 469.6h0M560.0 472.8h0M509.3 481.9h0M444.1 405.3h0M501.4 472.1h0M486.2 450.2h0M582.2 489.1h0M483.9 465.2h0M498.4 457.9h0M578.7 491.7h0M473.6 426.2h0M579.9 537.1h0M600.0 506.7h0M579.2 502.8h0M598.7 484.8h0M537.8 472.3h0"/>
<path stroke="#c79040" d="M502.1 460.7h0M570.4 462.7h0M579.4 508.2h0M478.9 455.4h0M623.9 498.6h0M563.4 468.4h0M586.2 514.3h0M556.6 514.5h0M534.0 465.2h0M450.1 403.9h0M513.6 430.9h0M474.1 448.0h0M660.9 512.7h0M603.2 497.8h0M501.7 480.4h0M516.6 457.9h0M575.0 498.5h0M612.7 546.8h0M545.3 489.7h0M568.0 481.1h0M509.1 506.8h0M560.9 507.0h0M417.0 375.1h0M546.2 514.6h0M628.0 514.0h0M605.2 491.7h0M598.6 485.9h0M491.8 446.2h0M564.3 514.3h0M511.1 446.0h0M639.1 498.3h0M518.5 416.1h0M613.5 539.3h0M528.6 454.8h0M670.2 539.6h0M607.2 534.7h0M632.0 525.5h0M603.7 522.9h0M628.3 564.2h0M516.1 481.2h0M504.3 440.3h0M515.3 475.1h0M514.0 463.6h0M565.5 506.9h0M555.7 455.8h0M604.5 504.6h0M536.3 482.6h0M557.3 471.8h0M549.1 521.5h0M514.1 470.1h0M511.2 461.0h0M481.3 461.6h0M508.5 466.0h0M501.3 427.6h0M516.2 490.5h0M459.6 454.1h0M556.6 467.5h0M481.0 452.5h0M482.9 451.3h0M547.0 441.0h0M537.5 496.2h0M511.7 436.0h0M616.9 515.7h0M520.8 482.8h0M599.6 541.6h0M654.7 517.7h0M597.0 519.5h0M613.7 537.0h0M566.6 506.5h0M512.3 479.1h0M489.2 418.3h0M561.5 476.2h0M568.5 448.1h0M430.2 418.2h0M590.8 488.3h0M525.0 473.3h0M531.3 486.8h0"/>
<path stroke="#cfa256" d="M567.7 480.9h0M597.1 515.3h0M459.2 417.1h0M483.0 473.2h0M531.4 436.1h0M612.4 512.9h0M606.4 537.1h0M493.0 428.7h0M555.7 481.9h0M452.4 429.0h0M572.5 534.7h0M590.0 512.6h0M573.9 476.9h0M552.1 463.4h0M570.6 496.0h0M567.4 493.3h0M539.0 478.6h0M518.8 468.2h0M474.2 431.7h0M496.4 459.1h0M543.8 492.0h0M635.0 529.4h0M547.1 492.4h0M558.7 491.5h0M482.5 420.6h0M584.6 490.7h0M555.5 444.8h0M588.0 530.8h0M582.5 540.0h0M562.9 491.9h0M512.1 453.2h0M535.8 444.2h0M467.8 467.2h0M476.6 411.6h0M595.5 495.6h0M529.4 470.6h0M529.3 445.7h0M485.8 440.8h0M472.8 465.9h0M643.3 515.7h0M621.8 534.2h0M486.2 426.0h0M578.7 473.7h0M533.5 481.7h0M555.2 457.3h0M416.2 442.6h0M586.4 493.3h0M586.5 478.7h0M547.0 468.9h0M525.3 453.4h0M561.9 494.8h0M546.5 525.1h0M550.6 476.5h0M585.2 506.4h0M515.1 442.2h0M528.2 491.9h0M489.3 469.9h0M556.0 474.8h0M600.0 502.1h0M433.4 401.5h0M641.3 544.4h0M498.4 460.9h0M575.4 507.5h0M620.1 519.1h0M463.2 427.4h0M525.7 458.0h0M473.3 451.0h0M516.6 429.8h0M617.1 515.6h0M499.0 472.3h0M494.0 436.3h0M482.9 450.0h0M592.9 481.7h0M498.9 406.8h0M477.8 442.7h0M557.2 494.8h0M469.6 446.1h0M539.4 493.7h0M555.2 480.3h0M591.0 531.7h0M538.6 462.5h0M536.4 465.8h0M657.4 520.4h0M559.9 450.5h0M570.1 476.7h0M605.5 519.4h0M558.8 475.9h0M514.3 461.4h0M559.5 454.9h0M530.7 479.9h0M516.1 488.6h0M527.0 471.7h0M410.8 404.3h0M477.8 462.6h0"/>
<path stroke="#d7b169" d="M548.6 443.1h0M566.9 492.9h0M488.7 436.8h0M549.0 452.4h0M527.6 491.5h0M567.9 457.6h0M538.2 455.0h0M394.5 399.9h0M535.7 432.7h0M569.7 473.7h0M564.9 459.7h0M527.8 441.1h0M572.1 516.5h0M473.2 428.3h0M546.9 468.9h0M587.0 461.2h0M524.4 461.0h0M478.1 425.2h0M544.2 462.2h0M536.9 441.1h0M548.0 439.2h0M496.4 430.2h0M441.4 424.6h0M520.5 475.2h0M539.1 479.8h0M627.4 554.4h0M540.0 470.4h0M526.0 470.9h0M499.9 444.9h0M463.6 380.5h0M470.8 441.2h0M521.9 478.6h0M677.9 536.1h0M443.3 409.6h0M629.7 496.7h0M611.0 528.8h0M590.3 505.6h0M618.5 516.6h0M597.5 491.1h0M436.6 424.8h0M525.1 469.1h0M546.5 467.6h0M537.7 478.4h0M669.2 540.3h0M587.6 537.8h0M540.4 446.8h0M581.9 473.6h0M572.8 504.6h0M527.0 447.2h0M579.9 464.9h0M564.7 488.7h0M448.8 386.9h0M522.9 468.3h0M556.9 487.3h0M582.1 505.0h0M514.7 456.0h0"/>
<path stroke="#dec17b" d="M522.3 463.8h0M531.4 479.1h0M535.3 506.5h0M600.1 499.8h0M504.2 455.3h0M528.9 485.7h0M524.0 462.5h0M529.5 493.1h0M455.6 438.5h0M543.5 485.8h0M533.1 453.4h0M534.9 444.2h0M595.2 492.7h0M546.7 456.9h0M644.8 536.4h0M627.3 533.1h0M608.9 515.5h0M476.5 450.4h0M498.3 457.0h0M475.6 412.9h0M455.7 437.0h0M442.0 442.9h0"/>
<path stroke="#e5cc8f" d="M632.0 479.5h0"/>
<path stroke="#ead59f" d="M570.8 475.3h0"/>
<path stroke="#b17423" d="M598.7 486.1h0M627.6 470.7h0M603.2 485.6h0"/>
<path stroke="#bf812d" d="M587.1 477.7h0M610.7 467.9h0M602.0 479.7h0M591.3 478.4h0M584.1 482.5h0M591.3 514.7h0M598.3 457.5h0M580.1 486.1h0M603.2 469.3h0M610.6 486.5h0M605.2 486.7h0M585.9 485.4h0M622.0 481.4h0M616.8 493.5h0M624.5 495.4h0"/>
<path stroke="#c79040" d="M607.7 482.7h0M623.9 477.2h0M630.4 479.8h0M594.8 473.2h0M627.6 483.1h0M602.3 456.5h0M617.4 482.6h0M613.1 485.0h0M591.8 473.9h0M603.4 496.3h0M606.5 499.3h0M619.0 486.2h0M611.8 489.9h0M591.3 463.8h0M607.1 484.7h0M605.4 500.4h0M603.5 487.6h0M589.8 472.1h0M578.5 476.6h0M590.5 454.5h0M618.6 448.1h0M617.0 471.3h0M594.8 489.3h0M590.0 447.7h0M594.6 497.4h0M615.7 457.8h0M583.6 490.4h0M603.3 472.9h0M603.9 482.3h0M618.3 495.5h0M580.1 482.4h0"/>
<path stroke="#cfa256" d="M585.7 471.2h0M579.2 486.2h0M575.3 483.4h0M600.7 461.7h0M591.6 495.7h0M617.6 467.7h0M602.0 453.4h0M634.6 488.4h0M578.9 499.6h0M619.7 478.1h0M603.3 486.4h0M599.3 488.2h0M603.4 473.8h0M599.0 497.3h0M568.6 489.0h0M585.4 482.2h0M614.2 448.2h0M598.7 463.9h0M625.0 490.3h0M597.7 475.7h0M604.0 470.5h0M596.3 495.1h0M600.4 475.5h0"/>
<path stroke="#d7b169" d="M603.6 484.5h0M624.1 493.1h0M621.7 488.1h0M621.0 471.0h0M606.8 485.2h0M586.3 489.1h0M601.2 501.4h0M610.0 478.0h0M629.2 473.9h0M625.4 452.2h0M630.4 476.3h0M604.1 496.5h0M600.7 475.6h0M614.6 475.8h0M584.1 482.4h0M611.7 491.1h0M596.2 481.1h0M602.7 468.5h0M623.1 479.2h0M613.0 478.6h0M586.7 460.5h0M619.9 453.4h0M602.4 488.3h0M607.4 491.1h0"/>
<path stroke="#dec17b" d="M616.5 464.4h0M621.5 460.5h0M610.1 489.3h0M573.1 494.7h0M616.3 478.9h0M603.5 471.2h0M598.7 471.4h0M608.8 483.6h0M593.7 457.4h0M601.0 497.3h0M615.6 490.7h0"/>
<path stroke="#e5cc8f" d="M605.7 492.8h0M622.2 464.4h0M622.3 483.7h0"/>
<path stroke="#c79040" d="M660.0 529.8h0M644.8 527.1h0"/>
<path stroke="#cfa256" d="M663.6 535.9h0M640.2 530.0h0M634.7 522.6h0M648.5 527.3h0"/>
<path stroke="#d7b169" d="M651.1 522.6h0M655.3 537.5h0M643.8 528.6h0M646.1 536.1h0M659.0 535.0h0"/>
<path stroke="#dec17b" d="M641.7 540.6h0M652.5 536.6h0M649.5 534.7h0M643.1 535.3h0M648.9 528.8h0M656.0 535.6h0M651.8 533.5h0"/>
<path stroke="#e5cc8f" d="M642.3 529.8h0M644.8 526.4h0M646.6 532.4h0M651.9 527.4h0M649.4 536.0h0M641.1 529.7h0M655.1 540.5h0M647.4 523.3h0"/>
<path stroke="#ead59f" d="M647.9 535.8h0M643.0 531.0h0M648.7 533.4h0M661.4 543.6h0M654.2 540.2h0M646.7 525.1h0M665.7 549.5h0M645.3 536.5h0"/>
<path stroke="#f1dfb3" d="M645.0 526.2h0M647.1 525.7h0M649.7 543.8h0M638.3 530.1h0"/>
<path stroke="#f6e8c3" d="M639.2 540.4h0M656.7 535.4h0M634.4 533.4h0M659.0 534.5h0M639.6 520.6h0M651.3 541.9h0M662.2 537.8h0"/>
<path stroke="#f6ebcf" d="M650.3 534.7h0M648.6 530.7h0M649.8 535.2h0"/>
<path stroke="#f5efdc" d="M639.0 525.5h0M649.1 530.1h0"/>
<path stroke="#b17423" d="M553.3 429.9h0"/>
<path stroke="#bf812d" d="M503.5 429.8h0M555.3 437.2h0"/>
<path stroke="#c79040" d="M542.7 442.4h0M602.2 478.1h0"/>
<path stroke="#cfa256" d="M503.6 439.1h0"/>
<path stroke="#d7b169" d="M584.1 438.8h0M531.2 442.9h0M530.7 441.0h0M569.0 464.0h0M526.8 430.7h0M531.9 429.3h0M569.8 452.5h0M563.6 445.9h0M556.2 448.6h0M538.3 422.9h0M540.2 426.7h0M525.9 413.5h0"/>
<path stroke="#dec17b" d="M535.9 426.9h0M566.1 440.7h0M584.0 444.9h0M575.5 464.8h0M566.7 480.3h0M579.1 469.4h0M543.9 457.9h0M567.1 444.2h0M549.1 423.2h0M543.7 438.6h0"/>
<path stroke="#e5cc8f" d="M578.4 469.8h0M551.8 429.5h0M532.2 432.6h0M545.9 448.9h0M597.5 471.2h0M556.0 448.3h0M557.7 443.1h0M612.0 474.6h0M535.9 438.8h0M545.2 439.8h0M541.6 438.4h0M582.1 461.4h0M509.9 402.6h0M522.7 414.0h0"/>
<path stroke="#ead59f" d="M539.2 442.4h0M562.2 467.6h0M562.7 428.3h0M581.4 439.2h0M567.4 456.0h0M560.8 427.4h0M531.1 436.4h0M511.8 428.1h0M589.7 452.5h0M542.1 447.6h0M522.9 427.2h0M587.1 438.0h0M546.4 446.4h0"/>
<path stroke="#f1dfb3" d="M529.8 432.5h0M551.0 445.0h0M543.9 450.0h0M562.4 464.2h0M538.8 438.0h0M572.5 473.8h0M604.0 457.1h0M556.9 447.2h0M582.8 464.3h0M517.8 442.4h0M546.7 439.6h0M569.8 445.1h0M551.0 437.4h0M569.7 446.4h0M553.0 442.0h0M582.8 434.5h0M551.9 424.6h0M569.5 449.4h0M578.6 470.7h0M546.7 429.7h0M590.6 447.7h0"/>
<path stroke="#f6e8c3" d="M548.2 466.8h0M600.8 458.1h0M588.3 466.3h0M520.5 415.0h0M552.6 451.2h0M545.0 440.9h0M586.2 451.0h0M561.6 468.6h0M544.3 439.8h0M553.6 457.1h0M590.6 464.9h0M574.4 450.6h0M567.7 456.6h0M585.4 462.8h0M582.2 466.5h0M521.9 433.7h0M589.8 467.8h0"/>
<path stroke="#f6ebcf" d="M535.0 432.1h0M531.7 437.0h0M541.2 421.2h0M586.2 478.8h0M532.0 425.7h0M519.8 441.5h0M547.1 444.0h0M587.2 464.0h0M547.9 433.6h0M537.0 447.6h0M530.8 457.5h0M531.1 439.0h0M530.4 418.0h0"/>
<path stroke="#f5efdc" d="M576.1 447.6h0M559.4 455.7h0M581.7 470.6h0M538.8 433.7h0M576.7 449.0h0M533.2 420.3h0M557.1 453.0h0M581.5 464.0h0M554.1 439.6h0M550.8 452.3h0M565.5 442.0h0M565.7 449.7h0M521.1 443.8h0M574.3 445.0h0"/>
<path stroke="#f5f2e8" d="M555.2 442.4h0M548.2 432.6h0M532.0 429.4h0M542.8 426.5h0"/>
<path stroke="#f4f5f5" d="M540.8 426.5h0M510.2 429.3h0M578.7 458.2h0M593.1 480.6h0"/>
<path stroke="#e9f2f1" d="M551.5 442.6h0M557.6 458.0h0"/>
<path stroke="#b17423" d="M443.3 431.0h0"/>
<path stroke="#bf812d" d="M451.6 438.5h0M431.9 427.2h0M460.6 430.9h0"/>
<path stroke="#c79040" d="M416.8 417.1h0M434.7 414.8h0M442.8 428.9h0M438.1 407.8h0M445.0 424.7h0M461.6 410.7h0M467.5 420.3h0M443.5 428.0h0M444.5 425.1h0"/>
<path stroke="#cfa256" d="M430.7 449.4h0M456.4 412.9h0M456.4 416.3h0M446.7 420.9h0M434.7 414.9h0M441.2 439.9h0M444.7 413.9h0M447.7 433.5h0M454.9 445.6h0M462.0 399.1h0"/>
<path stroke="#d7b169" d="M432.0 413.3h0M446.2 413.4h0M422.0 418.5h0M446.2 428.8h0M445.3 420.7h0M450.1 425.8h0M451.9 416.0h0M438.7 447.4h0M446.3 419.8h0M442.7 406.9h0"/>
<path stroke="#dec17b" d="M454.5 421.0h0"/>
<path stroke="#e5cc8f" d="M440.1 410.9h0"/>
<path stroke="#995d13" d="M500.9 448.8h0"/>
<path stroke="#a5691b" d="M523.2 442.4h0M474.9 463.4h0M474.4 443.5h0M502.0 464.5h0M486.8 439.4h0M476.0 436.9h0M457.4 428.9h0M454.3 467.5h0"/>
<path stroke="#b17423" d="M481.3 437.4h0M481.8 441.1h0M484.1 446.8h0M530.7 457.1h0M502.4 453.8h0M476.5 447.6h0M489.1 438.5h0M514.8 455.0h0M522.5 459.1h0M484.7 462.2h0M505.7 468.3h0M485.4 441.9h0M495.5 461.9h0M479.6 434.1h0M487.1 463.7h0M501.9 435.9h0M505.9 452.9h0M483.5 447.5h0M484.8 440.6h0M496.5 418.9h0M469.5 449.7h0M473.0 434.8h0"/>
<path stroke="#bf812d" d="M463.5 444.0h0M480.2 447.6h0M473.1 461.6h0M483.2 465.3h0M488.9 452.8h0M519.5 438.2h0M505.1 459.3h0M524.2 468.7h0M510.6 434.6h0M483.6 434.7h0M481.0 427.5h0M495.8 432.5h0M514.0 445.1h0M471.1 446.3h0M489.6 455.7h0M479.3 428.2h0M491.5 448.3h0M445.9 435.8h0M509.9 442.8h0M470.4 451.4h0M508.3 445.3h0M459.2 432.6h0M464.2 443.3h0M480.6 448.1h0M458.5 431.6h0M507.2 449.5h0M510.5 489.9h0M510.5 462.5h0M445.0 429.2h0M511.9 474.9h0M447.6 427.5h0M473.3 461.1h0M478.9 465.1h0M524.6 471.7h0M428.1 418.6h0M496.9 451.6h0M528.3 458.6h0M469.0 441.6h0M470.4 446.8h0M500.2 432.8h0M484.8 453.0h0M489.4 442.3h0M519.3 442.4h0M482.4 444.2h0M464.8 430.8h0M526.7 478.6h0M499.9 452.5h0M483.5 443.7h0M460.2 453.8h0M466.9 430.8h0M500.4 470.3h0M497.3 451.0h0M468.5 450.3h0"/>
<path stroke="#c79040" d="M527.9 463.2h0M462.6 453.4h0M517.6 467.5h0M529.3 462.6h0M495.7 442.7h0M444.1 429.1h0M494.1 447.0h0M493.8 442.4h0M482.6 454.0h0M479.1 456.2h0M530.2 443.5h0M460.4 442.9h0M488.1 455.7h0M462.5 458.2h0M518.8 473.4h0M496.2 458.0h0M492.3 448.2h0M471.6 462.3h0M526.0 478.3h0M495.3 448.7h0M480.6 441.7h0M511.8 460.7h0M504.9 456.3h0M490.6 474.2h0M493.0 446.6h0M508.7 460.7h0M486.6 430.5h0M480.6 442.9h0M500.1 463.9h0M459.0 458.3h0M482.7 459.0h0M465.8 463.1h0M523.7 461.0h0M470.3 428.5h0M498.5 450.5h0M529.7 453.3h0M511.9 451.4h0M506.3 442.9h0M492.4 443.9h0M513.7 467.3h0M456.6 448.2h0M499.0 433.4h0M494.5 467.4h0M453.9 436.4h0M499.3 445.1h0M464.5 418.3h0M478.7 424.6h0M475.8 442.7h0M525.3 475.7h0M470.6 441.4h0M469.6 436.0h0M545.1 462.9h0M485.2 452.5h0M475.7 467.8h0M503.7 445.6h0M474.7 437.0h0M473.5 462.7h0M457.0 440.1h0M490.3 446.8h0M485.9 457.3h0M511.6 456.1h0M517.8 467.0h0M502.7 452.5h0M510.4 465.6h0M514.4 466.3h0M522.0 453.7h0M484.3 439.5h0M497.5 445.9h0M497.1 459.0h0"/>
<path stroke="#cfa256" d="M519.6 461.3h0M498.9 443.6h0M499.0 476.0h0M489.5 458.9h0M449.2 435.1h0M511.7 449.2h0M495.2 441.9h0M465.6 456.8h0M498.1 442.2h0M486.8 443.0h0M477.8 444.5h0M485.5 435.9h0M500.4 433.6h0M460.8 449.4h0M449.8 435.9h0M519.6 449.2h0M479.8 447.1h0M512.1 457.4h0M525.4 447.9h0M499.3 456.5h0M503.5 438.1h0M498.7 450.6h0M466.7 434.8h0M467.5 448.9h0M474.3 449.5h0M512.3 433.0h0M510.0 445.3h0M500.0 453.3h0M514.6 452.6h0M474.4 446.4h0M481.9 467.3h0M530.4 454.3h0M490.4 454.1h0M525.1 442.5h0M500.8 446.9h0M507.4 459.0h0M532.0 453.9h0M490.2 467.0h0M507.2 436.3h0M507.7 461.6h0M497.4 465.0h0M485.7 470.6h0M503.9 459.2h0M491.9 452.1h0M529.2 470.7h0M483.8 440.6h0M492.8 442.7h0M483.4 459.7h0M478.2 443.1h0M506.9 459.2h0M471.4 431.2h0M474.6 466.5h0M503.3 450.4h0M507.3 469.2h0M508.1 442.8h0M490.7 440.3h0M477.0 463.4h0M508.4 475.3h0M524.0 474.6h0M460.0 435.2h0M485.7 460.0h0M476.7 457.6h0M486.3 446.9h0M474.0 462.1h0"/>
<path stroke="#d7b169" d="M500.1 450.1h0M470.3 443.3h0M489.5 437.4h0M509.6 467.3h0M489.7 438.9h0M497.2 443.9h0M517.4 450.3h0M490.7 442.8h0M505.6 453.5h0M491.9 422.2h0M494.3 452.3h0M471.9 439.4h0M501.3 451.2h0M495.4 446.3h0M483.1 428.7h0M487.3 426.2h0M492.7 435.6h0M493.9 437.8h0M485.2 457.1h0M489.3 453.9h0M473.5 433.9h0M469.1 447.6h0M454.8 461.9h0M478.6 427.5h0M465.0 445.6h0M511.0 478.5h0M467.1 430.4h0M480.7 443.2h0M517.0 452.2h0M456.1 431.3h0M493.2 466.1h0M502.8 433.7h0M463.0 434.9h0M524.6 458.5h0"/>
<path stroke="#dec17b" d="M455.2 441.5h0M477.1 451.6h0M513.6 456.2h0M488.8 462.2h0M507.9 429.4h0M495.9 451.3h0M475.8 482.7h0M530.6 453.0h0M488.0 454.4h0M487.7 452.6h0M492.9 438.7h0M488.5 431.4h0M460.2 461.9h0M470.5 443.6h0M539.8 468.9h0M528.5 460.2h0"/>
<path stroke="#e5cc8f" d="M511.5 440.5h0M477.6 433.3h0M493.6 454.6h0"/>
<path stroke="#d7b169" d="M506.7 447.6h0"/>
<path stroke="#dec17b" d="M474.4 419.5h0"/>
<path stroke="#e5cc8f" d="M486.0 416.9h0"/>
<path stroke="#ead59f" d="M496.8 436.5h0M500.4 439.6h0"/>
<path stroke="#f1dfb3" d="M512.2 437.7h0M507.7 428.1h0M469.3 415.9h0M502.8 450.5h0M466.5 415.4h0M478.0 438.9h0M500.9 425.7h0"/>
<path stroke="#f6e8c3" d="M501.2 438.1h0M518.8 449.3h0M525.9 449.8h0M501.9 437.9h0M480.5 416.5h0M476.3 419.6h0M490.6 435.0h0"/>
<path stroke="#f6ebcf" d="M474.5 443.8h0M456.3 406.6h0M494.5 423.2h0M491.9 420.4h0M463.4 415.7h0M488.4 427.6h0M495.6 441.9h0M498.4 443.4h0M483.9 433.3h0M509.2 442.0h0M499.5 428.5h0M499.3 442.0h0M454.1 415.3h0"/>
<path stroke="#f5efdc" d="M499.6 436.6h0M489.2 432.0h0M505.9 431.5h0M497.6 444.8h0M489.1 421.9h0M494.0 422.5h0M494.1 434.3h0M517.3 458.7h0M500.8 446.0h0M474.0 429.3h0M478.8 415.9h0M493.1 438.0h0M497.1 443.8h0M486.6 427.2h0M495.9 427.2h0M493.8 431.3h0M450.6 417.5h0M489.1 416.9h0M480.1 419.6h0M511.1 429.2h0"/>
<path stroke="#f5f2e8" d="M462.3 413.5h0M471.6 425.9h0M471.5 399.9h0M479.7 411.7h0M473.5 427.1h0M484.7 429.7h0M468.1 425.1h0M505.1 444.0h0M486.3 416.3h0M489.9 442.7h0M479.5 422.2h0M491.6 429.1h0M477.1 418.7h0M499.7 431.6h0M472.3 422.4h0M497.4 440.1h0M499.9 441.3h0"/>
<path stroke="#f4f5f5" d="M502.2 437.6h0M492.4 434.3h0M477.6 411.1h0M490.8 431.8h0M506.6 439.3h0M482.5 430.8h0M488.0 430.1h0M485.5 416.8h0M487.0 421.1h0M489.8 423.1h0M482.7 438.7h0M469.2 418.9h0M502.4 443.1h0M484.9 411.8h0M502.0 419.6h0M490.7 439.1h0M500.1 445.5h0M492.0 424.2h0"/>
<path stroke="#e9f2f1" d="M484.0 422.9h0M488.1 422.8h0M479.3 431.6h0M504.3 433.1h0M452.7 410.3h0M494.5 444.0h0M492.0 422.1h0M507.7 445.6h0M472.1 424.0h0M497.9 429.1h0M496.3 430.3h0M489.9 429.9h0M519.9 437.7h0M507.1 432.5h0M481.2 429.0h0M483.6 440.0h0M474.7 414.0h0"/>
<path stroke="#def0ed" d="M480.3 434.4h0M510.4 441.4h0M507.8 447.7h0M486.6 431.5h0M475.7 431.3h0M483.2 431.4h0M503.7 439.2h0M489.1 421.3h0M498.5 424.5h0M475.5 419.9h0"/>
<path stroke="#d2ede9" d="M515.0 433.5h0M490.9 430.8h0M505.1 441.5h0"/>
<path stroke="#b4e2db" d="M483.1 415.1h0M502.9 426.8h0M488.4 426.0h0"/>
<path stroke="#e9f2f1" d="M436.4 369.0h0M435.3 366.1h0M452.4 367.9h0"/>
<path stroke="#def0ed" d="M447.1 374.7h0M449.3 375.2h0M429.4 376.2h0M459.6 369.2h0M439.4 364.0h0M427.8 350.4h0M451.8 362.8h0M429.7 366.7h0M440.1 366.9h0M456.3 377.9h0M442.5 364.1h0M432.6 351.6h0"/>
<path stroke="#d2ede9" d="M446.3 367.7h0M443.9 385.5h0M450.4 362.6h0M447.5 366.2h0M444.8 352.1h0M427.9 363.9h0M434.8 364.8h0M464.4 369.8h0M432.4 359.8h0M449.4 372.9h0M444.0 358.8h0M428.6 355.1h0M443.6 372.7h0M464.6 364.5h0M432.4 353.7h0"/>
<path stroke="#c7eae5" d="M465.8 372.2h0M440.3 360.9h0M449.1 343.8h0M448.7 355.8h0M432.8 352.8h0M462.9 372.3h0M441.7 361.0h0M438.3 370.9h0M429.6 352.3h0M445.9 364.6h0M444.9 373.5h0M440.8 358.4h0M441.9 370.1h0M442.1 360.1h0M449.0 351.5h0"/>
<path stroke="#b4e2db" d="M451.1 359.7h0M458.2 363.5h0M453.3 380.7h0M435.0 351.0h0M457.5 366.7h0M470.9 356.4h0M446.2 359.9h0M465.4 365.3h0M448.9 352.1h0M447.5 385.9h0M442.2 357.4h0M446.7 366.2h0M434.1 374.0h0M449.3 365.0h0M446.9 355.5h0M456.5 366.0h0M448.9 371.3h0M454.8 365.9h0M436.4 372.1h0M437.5 356.2h0M443.1 353.7h0"/>
<path stroke="#a3dbd3" d="M439.6 378.0h0M452.5 363.1h0M447.7 377.0h0M447.0 356.4h0M441.9 373.3h0M468.3 373.9h0M457.9 378.4h0M421.7 354.4h0M459.2 365.0h0M447.2 367.8h0M444.9 367.4h0M446.6 363.4h0M449.0 373.6h0M444.2 379.1h0M443.3 365.5h0M448.9 357.6h0M456.9 377.7h0M453.8 383.8h0M453.9 365.8h0M470.4 371.5h0M451.4 360.2h0M461.0 364.0h0M456.5 350.6h0M448.8 372.4h0M444.9 375.8h0M454.2 361.4h0"/>
<path stroke="#92d4ca" d="M437.8 358.5h0M446.9 373.1h0M452.9 362.2h0M448.0 373.2h0M437.3 369.5h0M422.5 368.4h0M428.3 353.9h0"/>
<path stroke="#7fccc0" d="M441.7 358.1h0M437.4 377.0h0M450.6 374.0h0M439.0 361.3h0M433.7 372.9h0M449.0 378.1h0M443.2 364.8h0M459.8 369.9h0"/>
<path stroke="#6dbfb4" d="M435.2 356.1h0M453.0 366.3h0"/>
<path stroke="#58b0a7" d="M450.7 369.7h0"/>
<path stroke="#c7eae5" d="M523.9 403.6h0M527.2 409.0h0"/>
<path stroke="#b4e2db" d="M532.8 404.0h0"/>
<path stroke="#a3dbd3" d="M535.2 413.4h0M522.2 405.9h0M535.1 412.7h0"/>
<path stroke="#92d4ca" d="M539.1 408.5h0M521.7 411.2h0M539.2 416.4h0M533.5 414.8h0M535.3 411.1h0"/>
<path stroke="#7fccc0" d="M527.3 414.3h0M541.8 415.9h0M541.6 421.1h0M535.5 421.3h0M531.8 411.2h0M539.1 415.6h0M535.8 420.0h0"/>
<path stroke="#6dbfb4" d="M526.9 407.2h0M521.8 418.9h0M535.2 418.4h0M531.6 423.4h0M540.0 423.3h0M537.8 413.3h0M524.5 405.2h0"/>
<path stroke="#58b0a7" d="M529.3 416.2h0M537.2 416.2h0M527.8 417.3h0M531.5 406.3h0"/>
<path stroke="#47a49b" d="M525.9 407.3h0M521.9 413.6h0M524.9 418.4h0M535.8 414.4h0"/>
<path stroke="#35978f" d="M522.5 415.7h0M528.5 415.2h0"/>
<path stroke="#278a82" d="M541.9 420.8h0M538.6 419.6h0M525.4 416.5h0"/>
<path stroke="#1a7e76" d="M528.2 411.8h0M526.4 416.2h0"/>
<path stroke="#f4f5f5" d="M477.9 385.1h0"/>
<path stroke="#d2ede9" d="M458.8 401.7h0M473.2 376.6h0"/>
<path stroke="#c7eae5" d="M475.7 413.5h0M469.2 377.0h0M474.9 390.3h0M476.7 412.7h0M461.7 404.0h0M479.9 383.3h0M481.2 391.2h0"/>
<path stroke="#b4e2db" d="M472.5 396.1h0M515.4 424.9h0M484.8 380.3h0M456.2 385.9h0M482.4 389.9h0M477.0 401.6h0M476.9 368.8h0"/>
<path stroke="#a3dbd3" d="M502.1 393.1h0M474.4 381.7h0M471.0 376.9h0M486.5 397.6h0M476.9 409.4h0M465.7 410.2h0M462.8 394.8h0M465.4 384.3h0M468.4 404.4h0M473.0 378.2h0M467.2 375.1h0"/>
<path stroke="#92d4ca" d="M487.1 403.6h0M479.0 431.9h0M473.1 421.7h0M488.6 389.1h0M467.5 404.9h0M462.9 391.3h0M471.4 369.2h0M477.9 384.0h0M471.0 415.5h0M483.8 406.4h0M492.6 379.2h0M467.5 380.8h0M471.9 370.0h0M474.4 385.0h0M477.7 393.5h0M492.3 389.0h0M460.5 401.6h0"/>
<path stroke="#7fccc0" d="M456.5 405.5h0M458.8 401.3h0M453.7 390.3h0M496.4 405.1h0M480.8 388.7h0M492.6 396.2h0M471.1 394.5h0M474.2 394.9h0M438.4 388.3h0M469.5 377.1h0M471.4 392.0h0M468.0 393.9h0M487.0 397.7h0M478.8 394.3h0M480.0 408.0h0M484.6 406.7h0M497.6 408.2h0M475.1 410.2h0M465.3 388.8h0M444.4 389.4h0M468.9 388.0h0M465.6 396.7h0M487.2 399.7h0M485.1 386.7h0M451.8 400.1h0M496.4 403.0h0M489.3 422.9h0M474.1 392.5h0M441.9 378.9h0"/>
<path stroke="#6dbfb4" d="M469.5 388.1h0M464.1 409.4h0M480.5 383.3h0M472.2 398.8h0M485.9 404.0h0M475.3 394.0h0M478.4 374.0h0M499.2 398.2h0M507.1 406.7h0M493.3 403.9h0M493.2 389.6h0M471.4 392.3h0M473.2 396.0h0M443.5 368.9h0M496.1 377.1h0M496.7 404.6h0M481.5 380.7h0M456.1 386.5h0M471.3 398.0h0M464.3 357.7h0M492.3 404.3h0M472.1 393.1h0M503.5 395.4h0M482.1 391.8h0M482.1 386.8h0M471.9 370.2h0M480.4 376.5h0M492.6 399.1h0M475.5 386.4h0M485.5 405.8h0M456.2 403.0h0M462.1 398.1h0"/>
<path stroke="#58b0a7" d="M463.2 386.8h0M509.8 404.8h0M488.3 394.0h0M471.2 397.9h0M460.6 388.0h0M475.1 374.4h0M498.7 400.9h0M477.1 369.2h0M454.7 392.4h0M470.0 385.4h0M459.6 404.6h0M467.5 392.1h0M463.6 385.9h0M468.4 405.8h0M475.7 395.4h0M460.1 399.0h0M475.0 391.0h0M481.8 412.6h0M466.9 378.1h0M467.2 391.9h0M477.2 393.6h0M469.0 397.1h0M479.9 388.5h0M443.6 376.5h0M462.1 407.6h0M453.2 390.9h0M468.3 408.9h0M487.2 402.3h0M486.5 392.9h0M465.5 388.6h0M482.4 415.7h0"/>
<path stroke="#47a49b" d="M466.5 390.4h0M459.3 394.4h0M486.8 372.8h0M486.3 395.4h0M485.7 395.2h0M467.8 379.3h0M441.7 382.7h0M453.3 378.2h0M462.9 392.3h0M490.9 395.6h0M477.8 371.9h0M482.2 405.5h0M444.8 389.8h0M461.6 407.7h0M486.8 416.9h0M454.7 376.7h0M467.3 396.9h0M479.3 389.3h0M474.0 405.6h0M467.7 368.8h0M457.5 380.8h0M466.8 403.9h0M458.5 399.3h0M504.6 409.2h0M464.8 382.8h0M476.6 387.9h0M462.2 378.4h0M482.4 384.6h0M447.0 376.6h0M492.6 401.2h0M464.8 391.2h0"/>
<path stroke="#35978f" d="M459.8 394.7h0M469.2 375.4h0M478.4 387.8h0M470.0 383.2h0M481.4 386.9h0M486.7 406.6h0M467.7 387.6h0M478.5 379.8h0M465.8 372.2h0M454.2 378.6h0M471.7 391.8h0M465.4 382.8h0M485.4 412.0h0M466.8 395.4h0M469.7 387.4h0M478.2 393.8h0M456.8 386.6h0M460.3 390.3h0M472.9 414.5h0"/>
<path stroke="#278a82" d="M483.1 389.3h0M484.5 405.0h0M470.7 370.0h0M471.7 384.3h0M483.8 403.4h0M476.9 404.5h0M472.8 355.6h0M450.3 399.5h0M490.0 396.2h0M494.7 414.3h0M476.5 399.4h0M458.0 389.6h0M486.7 422.0h0M479.3 384.7h0M484.4 408.4h0M467.4 391.7h0M481.8 390.7h0M475.3 407.2h0M491.5 389.6h0"/>
<path stroke="#1a7e76" d="M454.1 384.4h0M469.2 401.1h0M489.9 402.9h0M487.7 391.9h0M466.6 422.7h0M501.0 397.3h0M474.9 380.6h0M470.3 394.4h0M449.6 381.7h0"/>
<path stroke="#0c7169" d="M499.6 399.9h0M478.9 402.7h0M465.9 380.3h0M486.3 389.4h0M504.4 401.2h0M468.0 376.2h0M455.2 394.8h0M454.2 389.6h0"/>
<path stroke="#01655d" d="M470.9 392.3h0M455.3 383.9h0M480.7 390.7h0M493.3 389.3h0M475.3 407.0h0"/>
<path stroke="#015b52" d="M473.8 399.7h0M478.4 376.3h0"/>
<path stroke="#0c7169" d="M509.1 423.3h0M504.3 410.9h0"/>
<path stroke="#01655d" d="M506.5 398.9h0M518.5 426.0h0M477.4 392.7h0M484.2 394.7h0M486.0 406.6h0M504.9 449.5h0M496.3 407.0h0M489.0 414.3h0M490.3 418.4h0"/>
<path stroke="#015b52" d="M500.1 420.0h0M504.1 403.7h0M481.3 403.4h0M471.8 405.9h0M473.1 384.9h0M484.7 406.9h0M497.2 407.1h0M481.5 403.0h0M491.1 394.9h0M512.2 430.3h0M505.0 426.7h0M488.8 421.0h0M476.0 407.6h0M522.3 437.7h0M493.0 413.5h0M474.8 407.1h0M478.2 400.7h0M484.4 410.6h0M479.9 409.9h0M477.1 394.2h0M504.1 409.1h0M506.4 424.2h0M481.1 394.3h0M495.1 409.8h0M470.8 398.3h0M510.6 426.6h0M487.0 411.0h0M498.2 420.9h0M488.9 410.4h0M489.8 399.5h0M502.6 406.8h0M516.1 420.3h0M489.8 433.0h0M515.6 419.9h0M508.2 437.4h0M491.6 415.4h0"/>
<path stroke="#005046" d="M499.8 398.4h0M491.5 400.2h0M503.0 398.0h0M497.8 419.6h0M496.9 418.0h0M477.2 408.6h0M471.9 395.4h0M498.2 419.2h0M500.9 404.8h0M490.5 416.1h0M490.1 386.7h0M500.5 424.8h0M503.1 419.8h0M484.1 386.7h0M506.8 424.9h0M499.8 412.5h0M483.6 383.9h0M489.6 406.9h0M504.0 412.6h0M493.2 423.0h0M499.1 412.0h0M485.5 405.2h0M488.1 408.7h0M479.2 398.0h0M473.3 382.3h0M491.0 416.9h0M508.8 405.3h0M502.7 417.8h0M494.3 405.5h0M494.8 390.6h0M513.6 419.7h0M498.2 392.7h0M473.4 419.3h0M495.6 415.9h0M509.1 420.0h0M485.1 396.6h0M507.9 411.0h0M506.9 406.9h0M500.0 396.0h0M505.1 421.6h0M491.6 408.5h0M511.0 403.0h0M499.1 403.7h0M517.9 405.8h0M482.5 394.8h0M505.1 405.1h0M501.3 407.3h0M515.7 422.9h0M523.7 409.3h0M479.8 394.8h0M475.0 407.3h0M482.5 400.0h0M491.3 423.9h0M492.2 417.0h0M490.1 400.7h0M494.9 388.0h0M490.1 390.0h0"/>
<path stroke="#00463b" d="M464.0 397.2h0M495.6 408.5h0M506.4 423.3h0M504.9 421.2h0M495.3 429.1h0M500.1 410.6h0M495.4 418.8h0M499.3 408.7h0M487.8 382.2h0M492.4 385.3h0M520.9 426.3h0M498.5 390.7h0M493.5 404.2h0M510.3 412.3h0M500.7 405.7h0M504.7 409.5h0M479.7 399.1h0M499.9 420.3h0M516.3 436.2h0M510.9 425.3h0M492.7 422.1h0M495.9 414.6h0M473.9 379.4h0M495.8 401.9h0M494.6 419.9h0M511.3 411.8h0M493.1 385.5h0M487.7 415.1h0M503.4 409.4h0M505.3 409.4h0M488.9 412.6h0M487.1 406.2h0M504.4 407.7h0M523.7 434.8h0M524.8 418.5h0M507.4 402.0h0M491.2 415.8h0M494.1 426.4h0M470.2 402.0h0M486.1 402.7h0M467.5 385.5h0M500.8 415.6h0M481.5 394.9h0M495.4 421.3h0M516.5 421.8h0M512.2 414.2h0M507.0 403.1h0M494.7 414.5h0M515.6 411.6h0M484.2 418.9h0M492.6 389.8h0M475.8 411.8h0M483.0 415.7h0M515.9 427.4h0M472.1 395.5h0M466.4 389.7h0M507.2 428.0h0M487.0 411.0h0M498.5 409.0h0M472.9 383.7h0M484.1 396.7h0M506.1 412.4h0M487.3 400.6h0M494.0 418.0h0M500.0 416.0h0M483.9 404.0h0M482.1 399.2h0M499.1 400.1h0M486.0 401.6h0M478.5 405.0h0M489.8 391.2h0"/>
<path stroke="#003c30" d="M509.0 412.8h0M501.9 405.4h0M500.8 401.6h0M511.1 399.7h0M489.2 411.4h0M491.2 414.0h0M516.2 430.9h0M501.6 430.1h0M491.4 398.0h0M479.3 399.7h0M511.2 414.0h0M508.1 419.6h0M486.2 415.1h0M486.4 412.3h0M471.4 405.7h0M499.3 407.8h0M484.1 401.2h0M508.3 419.8h0M491.9 396.2h0M504.3 406.0h0M509.9 418.5h0M510.7 432.4h0M488.1 414.4h0M519.9 411.9h0M503.8 422.7h0M487.9 417.2h0M498.4 406.4h0M479.5 389.9h0M497.0 415.7h0M519.4 439.2h0M481.6 432.8h0M509.5 413.4h0M531.1 432.1h0M486.4 403.9h0M488.7 388.3h0M495.6 404.4h0M500.7 428.4h0M502.8 443.1h0M486.8 398.6h0M480.6 410.4h0M500.1 402.5h0M499.0 423.9h0M496.0 402.9h0M452.2 407.5h0M500.3 412.1h0M487.3 418.0h0M503.8 415.9h0M488.6 412.0h0M503.1 424.8h0M505.4 433.7h0M506.4 404.3h0M503.4 412.1h0M494.1 391.5h0M489.6 392.1h0M517.2 436.4h0M504.7 420.6h0M497.4 403.1h0M485.8 386.5h0M509.8 414.5h0M519.9 409.7h0M504.2 410.7h0M498.2 421.2h0M487.6 406.3h0M495.6 408.2h0M510.6 412.4h0M493.3 404.2h0M496.3 397.6h0M494.5 398.6h0M480.5 394.1h0M496.1 404.9h0M488.3 407.1h0M478.2 400.2h0M483.3 405.7h0M506.3 406.3h0M510.3 416.9h0M507.0 407.0h0M492.3 430.9h0M494.8 395.6h0M490.7 408.9h0M507.7 419.1h0M484.8 421.5h0M489.2 398.4h0M497.6 421.2h0M503.3 432.4h0M515.3 410.6h0M476.3 409.2h0M497.7 418.3h0M506.5 412.2h0M508.1 406.4h0M506.9 403.6h0M475.9 386.1h0M503.8 417.4h0M492.6 396.5h0M500.9 422.2h0M506.9 430.0h0M464.4 379.7h0M488.9 409.1h0M480.8 393.8h0M483.4 411.7h0M469.6 384.2h0M495.1 417.2h0M499.3 409.1h0M488.2 407.1h0M496.5 400.5h0M488.4 407.0h0M483.6 390.9h0M519.2 429.4h0M483.1 404.9h0M519.0 424.4h0M502.7 413.4h0M501.7 414.9h0M510.9 418.7h0M477.8 399.7h0M497.7 424.2h0M512.5 417.6h0M494.7 402.5h0M489.9 402.6h0M490.0 411.5h0M526.2 441.2h0M519.2 434.1h0M508.9 417.5h0M503.9 420.8h0M469.6 393.3h0M503.5 403.5h0M509.1 415.8h0M474.3 405.3h0M482.3 401.5h0M495.7 395.4h0M495.2 419.6h0M508.3 432.4h0M502.9 418.3h0M500.4 394.3h0M479.3 406.9h0M483.9 399.1h0M504.7 425.3h0M488.6 405.0h0M479.4 413.5h0M482.1 399.7h0M502.2 419.3h0M505.4 402.3h0M475.5 403.9h0M469.8 419.1h0M487.6 406.2h0M496.8 430.2h0M501.4 423.4h0M481.2 387.2h0M502.5 408.0h0M510.2 418.0h0M491.4 413.0h0M513.0 416.4h0M502.3 391.7h0M483.8 405.0h0M493.7 421.3h0M486.8 406.5h0M491.7 389.6h0M501.7 410.4h0M499.0 407.9h0M489.8 411.9h0M481.9 418.4h0M493.8 423.8h0M473.9 388.3h0M510.4 421.7h0M471.3 387.0h0M490.3 404.2h0M467.6 396.1h0M495.9 413.1h0M478.9 419.1h0M482.2 402.2h0M508.6 420.3h0M507.0 413.9h0M498.2 410.4h0M508.6 422.6h0M477.5 392.1h0M476.4 390.5h0M503.8 410.9h0M522.6 419.2h0M480.2 408.5h0M507.2 432.3h0M507.0 415.6h0M507.5 418.0h0M484.6 412.5h0M493.1 413.4h0M499.7 405.6h0M512.2 426.3h0M486.1 412.8h0"/>
<path stroke="#003c30" d="M492.3 413.0h0M523.9 432.0h0M506.6 427.9h0M509.2 411.3h0M503.4 414.0h0M497.9 408.7h0M495.4 415.2h0M490.3 406.8h0M503.8 410.0h0M497.9 413.0h0M502.6 404.5h0M503.0 415.9h0M508.3 409.1h0M513.4 418.0h0M504.9 416.9h0M491.9 404.9h0M509.6 431.9h0M508.7 425.3h0M510.3 412.4h0M506.6 431.0h0M499.1 415.5h0M494.8 416.3h0M500.4 430.6h0M503.2 420.8h0M507.3 421.0h0M499.6 418.2h0M507.2 433.6h0M499.5 425.3h0M505.8 418.0h0M490.8 412.9h0M502.0 418.7h0M496.8 416.4h0M491.3 413.6h0M499.7 415.9h0M510.9 407.5h0M493.0 428.7h0M487.4 413.8h0M491.5 417.5h0M498.4 410.7h0M488.2 414.7h0M513.2 408.6h0M501.3 413.7h0M492.8 415.6h0M497.7 415.4h0M500.9 420.0h0M493.2 425.7h0M493.1 397.7h0M492.6 408.1h0M510.2 428.4h0M500.7 423.8h0M511.0 420.3h0M502.1 416.5h0M501.8 420.0h0M498.7 420.3h0M475.2 416.4h0M513.3 419.5h0M483.9 414.4h0M506.2 421.8h0M499.3 415.2h0M498.1 403.2h0M492.6 403.0h0M488.4 411.7h0M494.9 416.9h0M502.9 402.6h0M495.7 414.1h0M495.8 402.2h0M501.0 420.5h0M495.2 411.8h0M498.5 420.5h0M488.1 410.9h0M501.8 424.9h0M512.7 420.6h0M505.4 419.8h0M513.5 424.8h0M494.3 408.6h0M491.0 411.5h0M494.4 409.3h0M507.9 418.2h0M499.3 410.0h0M508.9 410.6h0M513.0 423.4h0M487.5 418.9h0M495.4 419.3h0M508.0 421.7h0M495.0 410.3h0M493.3 416.1h0M497.0 409.2h0M503.2 410.7h0M518.8 423.9h0M493.2 415.6h0M518.4 422.0h0M506.5 418.1h0M500.6 424.6h0M499.1 420.2h0M494.7 408.7h0M505.9 427.4h0M508.1 429.3h0M501.0 420.9h0M491.4 408.1h0M490.7 421.4h0M492.6 404.7h0M499.9 408.2h0M496.7 407.2h0M498.2 419.4h0M504.0 415.1h0M498.1 409.7h0M503.6 431.4h0M495.1 405.4h0M494.4 408.4h0M489.0 421.5h0M517.5 436.3h0M486.0 420.9h0M486.2 411.8h0M496.7 415.6h0M496.7 417.0h0M517.2 422.2h0M496.1 407.4h0M486.0 423.4h0M505.9 422.5h0M515.0 416.1h0M513.7 409.6h0M504.3 414.9h0M503.4 407.8h0M513.3 425.4h0M522.0 425.5h0M487.4 420.5h0M497.7 417.2h0M495.6 407.4h0M504.8 413.8h0M498.4 423.5h0M497.7 413.5h0M504.2 424.8h0M493.9 418.9h0M513.8 415.7h0M495.4 416.9h0M494.5 406.0h0M501.4 413.0h0M493.3 426.6h0M502.8 416.5h0M488.7 417.0h0M512.3 418.9h0M507.0 411.1h0M522.1 432.6h0M507.9 416.3h0M502.5 416.2h0M507.1 430.7h0M501.3 421.6h0M516.1 418.5h0M505.1 421.1h0M498.6 414.1h0M497.1 412.2h0M507.2 420.3h0M491.4 408.2h0M505.2 419.9h0M490.7 396.4h0M508.8 423.4h0M503.0 411.2h0M500.2 425.1h0M499.6 416.4h0M504.2 423.1h0M498.3 424.1h0M491.0 402.7h0M501.1 404.1h0M496.1 421.4h0M491.4 410.5h0M511.9 414.3h0M501.5 410.4h0M510.5 423.3h0M500.0 423.6h0M515.2 427.3h0M501.4 413.5h0M497.9 410.0h0M492.7 398.0h0M492.1 416.6h0M501.9 404.8h0M497.9 418.4h0M505.6 407.8h0M492.9 411.8h0M509.4 418.2h0M493.9 411.5h0M502.1 415.6h0M504.6 421.3h0M494.9 405.3h0M507.1 408.2h0M506.4 415.3h0M520.9 431.1h0M495.6 412.9h0M507.7 424.5h0M492.3 408.8h0M495.6 411.0h0M501.4 413.6h0M511.9 419.1h0M494.5 415.9h0M512.5 423.4h0M493.6 426.6h0M492.2 421.6h0M497.8 416.5h0M497.8 410.2h0M511.9 420.0h0M498.6 420.5h0"/>
</g>
<line x1="425.3" y1="369.0" x2="660.0" y2="531.4" stroke="#000" stroke-width="1.9"/>
<g clip-path="url(#c4)" stroke-linecap="round" stroke-width="3.50" fill="none">
<path stroke="#a5691b" d="M272.4 677.0h0M262.2 705.3h0"/>
<path stroke="#b17423" d="M291.2 662.4h0M272.9 678.2h0M289.2 671.6h0M275.6 671.2h0"/>
<path stroke="#bf812d" d="M283.9 677.9h0M266.7 692.6h0M281.4 662.7h0M293.9 668.1h0M252.2 698.8h0M257.3 698.4h0M265.4 691.0h0M268.7 673.9h0M255.0 689.1h0M273.3 679.5h0M258.4 704.4h0M286.0 675.0h0M294.2 678.2h0"/>
<path stroke="#c79040" d="M259.8 692.2h0M292.6 669.8h0M285.5 674.3h0M263.5 686.0h0M283.4 684.5h0M278.6 686.9h0M289.1 668.5h0M293.6 665.5h0M291.2 663.1h0M261.3 684.1h0M264.2 685.3h0M270.3 681.7h0M257.5 679.0h0M281.1 666.9h0M282.1 661.2h0M264.4 682.7h0M283.9 678.2h0M274.7 686.8h0"/>
<path stroke="#cfa256" d="M243.9 695.2h0M279.4 665.3h0M288.3 668.4h0M282.8 666.9h0M284.0 670.0h0M266.2 690.1h0M279.3 684.6h0M262.2 702.6h0M276.0 692.6h0M287.4 659.0h0M250.6 691.0h0M265.7 695.9h0M258.6 700.9h0M289.1 665.4h0M281.7 668.3h0M267.1 680.3h0M256.5 708.2h0M274.4 677.1h0M255.7 710.6h0M275.8 669.9h0M283.4 662.0h0"/>
<path stroke="#d7b169" d="M260.7 703.9h0M281.5 683.1h0M250.0 692.4h0"/>
<path stroke="#dec17b" d="M265.1 700.5h0M248.3 696.2h0M267.2 683.8h0M268.5 687.9h0"/>
<path stroke="#bf812d" d="M270.3 666.8h0M280.9 673.2h0"/>
<path stroke="#c79040" d="M277.9 672.6h0M280.8 678.2h0M294.0 677.4h0M286.3 696.9h0M271.5 689.2h0M278.5 686.6h0M281.9 663.5h0M248.0 698.4h0M283.6 664.4h0M267.6 654.3h0"/>
<path stroke="#cfa256" d="M261.1 693.4h0M279.7 664.4h0M294.4 667.7h0M282.4 657.8h0M287.2 681.1h0M268.6 675.0h0M265.2 683.3h0M268.2 697.1h0M272.2 700.2h0M281.8 680.8h0M286.4 691.0h0M267.9 693.1h0M283.0 685.6h0"/>
<path stroke="#d7b169" d="M289.6 663.4h0M268.6 668.2h0M273.3 687.6h0M267.9 686.5h0M266.1 689.2h0"/>
<path stroke="#dec17b" d="M281.7 666.7h0M267.3 675.7h0M289.8 689.8h0M287.7 678.4h0M284.0 690.2h0M256.7 688.2h0M286.5 676.4h0"/>
<path stroke="#e5cc8f" d="M284.3 685.5h0M273.9 685.1h0"/>
<path stroke="#f1dfb3" d="M273.2 678.4h0"/>
<path stroke="#a5691b" d="M233.4 691.4h0"/>
<path stroke="#b17423" d="M212.1 787.3h0M235.9 735.5h0M191.8 766.4h0M248.1 783.6h0M236.1 754.5h0M284.7 691.5h0"/>
<path stroke="#bf812d" d="M229.1 748.5h0M187.2 737.0h0M262.6 718.0h0M212.5 735.5h0M217.1 749.9h0M268.2 748.4h0M219.4 736.2h0M238.4 750.7h0M236.3 726.0h0M283.4 754.2h0M285.4 707.9h0M252.9 743.0h0M195.0 753.9h0M215.9 715.0h0M263.1 730.3h0M231.5 711.3h0M262.0 752.0h0M198.6 800.2h0M213.8 752.0h0M273.7 704.4h0M285.5 685.3h0M248.9 735.7h0M271.9 747.9h0M239.2 727.2h0M232.2 740.6h0"/>
<path stroke="#c79040" d="M236.6 746.3h0M222.4 743.0h0M230.6 731.8h0M239.8 715.7h0M242.9 735.3h0M232.6 743.0h0M181.3 751.1h0M236.1 730.9h0M242.5 741.1h0M255.9 754.1h0M241.2 737.9h0M253.1 726.2h0M189.3 784.6h0M260.3 733.4h0M199.4 728.4h0M224.2 742.4h0M207.2 775.4h0M255.9 736.1h0M239.4 710.9h0M244.8 750.1h0M260.3 729.5h0M288.1 724.0h0M179.8 796.5h0M273.2 736.5h0M197.6 731.9h0M193.7 754.0h0M254.0 748.0h0M191.2 776.2h0M254.9 762.4h0M249.1 734.0h0M257.6 719.4h0M174.6 778.1h0M237.5 727.5h0M289.7 727.2h0M190.9 722.5h0M250.2 710.2h0M270.3 722.0h0M228.5 718.8h0M293.4 725.0h0M287.7 722.5h0M248.7 711.8h0M191.5 800.5h0M149.6 757.9h0M190.6 752.2h0M244.6 753.1h0M271.9 735.6h0M170.2 750.7h0M243.9 719.1h0M221.6 737.2h0M193.6 775.8h0M258.3 745.4h0M251.4 706.7h0M301.9 697.5h0M224.6 773.2h0M247.8 723.4h0M203.1 749.4h0M189.7 761.9h0M249.7 733.0h0M239.4 771.3h0"/>
<path stroke="#cfa256" d="M215.9 770.1h0M190.5 743.5h0M223.2 745.2h0M246.4 761.5h0M239.2 747.8h0M208.1 747.0h0M269.3 721.1h0M188.2 739.6h0M258.7 736.3h0M196.0 711.1h0M231.9 724.4h0M256.7 713.7h0M224.4 766.1h0M282.1 697.1h0M280.8 731.3h0M203.6 790.4h0M243.7 736.3h0M176.1 763.4h0M187.2 759.9h0M216.7 759.5h0M251.8 724.2h0M257.4 738.1h0M254.0 734.2h0M259.3 722.9h0M288.5 693.7h0M257.5 762.9h0M215.8 748.9h0M243.8 733.9h0M241.1 694.1h0M245.1 733.8h0M230.5 745.7h0M229.9 740.5h0M236.4 714.6h0M258.2 723.0h0M267.0 694.1h0M146.5 821.9h0M198.3 771.4h0M274.6 662.8h0M208.4 793.5h0M271.5 768.3h0M262.4 734.0h0M273.3 737.8h0M242.1 708.6h0M199.3 741.3h0M189.0 730.6h0M261.2 696.4h0M215.2 755.9h0M221.6 807.1h0M212.5 768.0h0M243.1 739.7h0M203.1 761.6h0M223.2 771.9h0M208.5 753.4h0M217.3 738.1h0M207.4 761.9h0M248.8 717.1h0M212.9 760.4h0M238.4 739.5h0"/>
<path stroke="#d7b169" d="M195.0 768.2h0M240.3 731.2h0M196.6 794.6h0M164.0 772.6h0M292.7 783.8h0M198.0 763.8h0M187.6 760.3h0M244.5 774.4h0M225.2 747.9h0M237.7 760.3h0M251.4 748.7h0M229.7 723.6h0M278.9 710.0h0M164.5 736.9h0M234.8 733.6h0M285.4 756.5h0M187.7 720.6h0M303.8 702.6h0M230.5 744.0h0M259.4 740.7h0M266.3 738.8h0M228.9 780.5h0M205.1 776.5h0M241.3 755.9h0M219.1 758.1h0M214.5 732.5h0M228.6 718.8h0M195.8 759.7h0M240.6 743.3h0M239.3 710.7h0M202.1 761.1h0M214.3 761.0h0M214.8 726.1h0M251.5 740.5h0M167.7 750.7h0M223.4 750.0h0M205.4 728.8h0M269.2 759.0h0M263.1 756.8h0M226.9 715.4h0M243.1 751.8h0M211.7 757.3h0M240.5 732.3h0M193.9 795.7h0M230.6 747.7h0M277.8 711.3h0M239.1 675.7h0M250.0 702.0h0"/>
<path stroke="#dec17b" d="M240.5 736.8h0M213.8 765.0h0M211.6 788.2h0M202.1 732.4h0M194.1 738.4h0M224.8 799.2h0M155.1 788.7h0M254.7 712.9h0M258.2 758.6h0M231.5 729.7h0M141.8 773.6h0M244.6 715.5h0M212.2 772.7h0M267.9 739.1h0M208.7 763.4h0M265.3 699.7h0M176.2 731.0h0M206.2 784.4h0M240.5 697.5h0M252.1 707.5h0M257.4 739.2h0M313.1 716.7h0M237.7 740.2h0M254.8 731.9h0M246.7 702.8h0M252.6 715.5h0M301.8 687.7h0M196.4 771.8h0M257.8 700.3h0"/>
<path stroke="#e5cc8f" d="M238.0 765.2h0M219.1 756.0h0M255.9 739.9h0M195.5 784.8h0"/>
<path stroke="#b17423" d="M162.0 827.2h0"/>
<path stroke="#bf812d" d="M241.7 821.4h0"/>
<path stroke="#c79040" d="M199.0 845.0h0M232.6 833.7h0M212.2 833.5h0"/>
<path stroke="#cfa256" d="M266.1 851.1h0M175.2 857.8h0M182.4 832.9h0M214.8 833.8h0M199.6 815.0h0M207.1 828.3h0M201.5 838.8h0"/>
<path stroke="#d7b169" d="M192.3 806.7h0"/>
<path stroke="#dec17b" d="M175.0 813.1h0"/>
<path stroke="#e5cc8f" d="M215.8 847.2h0"/>
<path stroke="#b17423" d="M237.6 778.4h0"/>
<path stroke="#bf812d" d="M196.4 778.8h0"/>
<path stroke="#c79040" d="M226.1 769.9h0M180.3 790.0h0M210.6 776.0h0"/>
<path stroke="#cfa256" d="M198.0 761.9h0"/>
<path stroke="#d7b169" d="M188.8 779.9h0M257.6 768.8h0M246.6 763.1h0M137.6 773.3h0M222.4 771.6h0M241.9 758.8h0M242.8 760.5h0M223.6 769.4h0M222.9 767.4h0M217.8 771.3h0"/>
<path stroke="#dec17b" d="M202.0 783.5h0M198.8 774.5h0M218.5 784.9h0M236.5 765.1h0M191.4 778.6h0M206.0 792.3h0M202.9 801.2h0M197.3 783.6h0M214.5 765.5h0M190.6 787.5h0M225.9 782.7h0M269.8 764.7h0M199.4 790.9h0M247.0 759.0h0M177.4 779.9h0M233.8 773.3h0M185.8 785.5h0"/>
<path stroke="#e5cc8f" d="M164.4 784.9h0M154.4 782.6h0M267.1 760.5h0M177.1 782.1h0M199.6 776.0h0M195.3 786.9h0M160.4 780.0h0M214.0 789.0h0M206.3 775.7h0M169.4 789.9h0M184.8 780.9h0M247.5 757.5h0M194.1 778.4h0M219.6 762.8h0M170.2 776.6h0M208.9 771.1h0M150.9 777.3h0M170.4 789.7h0M195.2 769.6h0M208.8 771.8h0M171.9 786.6h0"/>
<path stroke="#ead59f" d="M210.2 770.2h0M244.8 772.0h0M203.9 778.9h0M198.3 785.3h0M264.3 758.4h0M208.6 783.3h0M186.4 784.1h0M197.1 788.4h0M279.9 773.4h0M145.3 773.3h0M183.3 783.0h0M242.4 768.4h0M213.4 775.8h0M234.4 784.6h0M184.5 786.7h0M203.6 767.1h0M219.2 784.7h0M185.8 784.5h0M173.4 792.1h0M196.7 777.4h0M219.5 778.0h0M262.9 772.1h0M205.4 781.1h0M211.4 783.2h0M242.9 767.1h0"/>
<path stroke="#f1dfb3" d="M214.8 768.0h0M223.0 768.0h0M229.5 779.9h0M231.7 781.9h0M271.0 770.6h0M181.0 770.7h0M214.7 768.6h0M205.9 772.6h0M208.4 780.9h0M196.4 783.0h0M217.4 773.3h0M194.4 782.8h0M221.8 778.3h0M228.3 760.5h0M292.8 754.1h0M201.6 798.0h0M192.6 780.4h0M178.4 778.3h0M218.2 779.4h0M203.3 788.7h0M231.3 783.3h0M241.1 768.8h0M232.7 773.9h0M179.6 773.1h0M200.6 777.6h0M173.2 770.9h0M222.4 781.2h0M187.4 787.0h0M193.4 774.9h0M233.8 780.3h0M186.1 781.9h0M240.7 772.0h0M197.9 764.2h0M165.1 777.0h0M190.1 795.0h0M154.7 774.3h0M214.5 793.5h0M222.2 775.2h0"/>
<path stroke="#f6e8c3" d="M246.7 770.9h0M172.5 789.8h0M169.6 777.9h0M194.2 784.6h0M215.2 770.2h0M200.9 780.5h0M196.1 777.5h0M227.1 774.9h0M185.5 783.8h0M236.3 766.1h0M173.1 795.9h0M202.2 791.9h0M194.3 787.4h0M235.7 768.6h0M198.6 778.3h0M186.2 782.5h0M187.0 783.3h0M168.2 787.5h0M225.8 782.7h0M196.8 777.9h0M201.0 779.0h0M206.2 794.1h0M223.7 773.7h0M197.3 771.8h0M204.0 773.6h0M223.3 775.8h0M183.5 774.2h0M195.0 785.3h0M224.3 766.5h0M203.4 798.6h0M238.5 786.7h0M228.7 773.5h0M181.6 788.5h0M222.1 783.3h0M221.6 778.9h0"/>
<path stroke="#f6ebcf" d="M169.8 781.6h0M235.9 777.2h0M169.7 776.3h0M192.9 786.3h0M245.6 760.8h0M238.4 759.4h0M233.9 771.5h0M211.0 788.7h0M206.9 776.2h0M232.6 790.4h0M205.2 773.8h0M236.5 765.4h0M205.2 776.7h0M201.4 774.2h0M198.2 777.8h0M186.1 788.7h0M250.4 770.4h0M256.6 774.4h0M234.1 782.8h0"/>
<path stroke="#f5efdc" d="M239.0 774.1h0M231.9 769.1h0M135.7 781.8h0M214.5 780.8h0M192.8 785.9h0M187.3 776.6h0M185.7 794.3h0M227.2 772.8h0"/>
<path stroke="#f5f2e8" d="M174.9 783.2h0M203.0 770.1h0M211.9 760.4h0M222.7 779.8h0M183.3 790.4h0M221.5 767.9h0M209.8 767.9h0M176.3 779.9h0"/>
<path stroke="#f4f5f5" d="M201.8 766.1h0M146.2 779.7h0M257.7 772.1h0M175.7 780.1h0M184.2 774.3h0M184.4 767.8h0M227.8 786.8h0"/>
<path stroke="#e9f2f1" d="M224.0 772.7h0M221.5 775.2h0M232.4 769.1h0M232.5 766.4h0"/>
<path stroke="#def0ed" d="M170.9 790.4h0M214.0 784.8h0"/>
<path stroke="#995d13" d="M217.6 791.8h0M248.8 786.5h0"/>
<path stroke="#a5691b" d="M271.7 785.0h0M235.6 788.9h0M244.9 783.9h0M217.9 785.3h0M268.5 776.8h0"/>
<path stroke="#b17423" d="M271.9 776.5h0M251.3 780.5h0M254.5 773.4h0M238.4 798.4h0M261.8 781.0h0M229.6 787.7h0M205.8 816.2h0M246.5 779.5h0M234.0 773.2h0M245.2 774.2h0M246.1 781.0h0M232.1 792.8h0M227.6 801.4h0M206.6 778.6h0M254.5 783.6h0M224.8 791.5h0M240.6 793.9h0M216.1 798.1h0M221.2 797.7h0M247.9 791.6h0M210.2 790.6h0M237.9 791.4h0M255.8 783.2h0M281.1 775.5h0M226.5 786.8h0M250.0 793.8h0M276.3 789.9h0M224.2 788.0h0"/>
<path stroke="#bf812d" d="M213.7 780.3h0M236.4 792.7h0M237.1 783.9h0M253.9 777.2h0M241.3 783.4h0M249.4 785.0h0M238.1 788.3h0M248.3 782.4h0M240.3 776.5h0M230.7 790.5h0M244.9 781.4h0M263.8 782.0h0M222.8 791.8h0M280.3 784.5h0M260.5 780.9h0M226.9 784.2h0M220.7 797.8h0M242.0 788.7h0M220.1 783.6h0M221.5 781.2h0M250.4 774.7h0M261.4 779.2h0M253.5 786.1h0M212.8 799.6h0M245.8 786.8h0M242.3 789.1h0M183.4 814.2h0M259.2 777.5h0M251.3 770.3h0M246.7 777.2h0M269.8 775.7h0M217.8 778.7h0"/>
<path stroke="#c79040" d="M224.8 783.1h0M238.3 784.2h0M227.2 793.8h0M227.8 782.3h0M254.9 785.7h0M217.5 796.6h0M234.7 777.2h0M219.5 791.9h0M273.9 778.0h0M255.6 790.1h0M199.0 797.9h0M287.3 780.6h0M216.3 786.0h0M229.0 772.8h0M226.2 786.8h0M226.2 779.5h0M239.6 779.2h0M245.8 785.5h0M251.1 786.2h0M234.4 807.2h0M230.0 789.4h0M230.5 787.7h0M216.3 799.0h0M219.2 796.2h0M243.9 782.1h0M236.3 795.3h0M251.9 783.4h0M261.8 793.9h0M231.1 788.9h0M239.7 778.1h0"/>
<path stroke="#cfa256" d="M235.7 776.9h0M231.5 782.3h0M243.8 788.2h0M242.0 776.3h0M186.2 792.8h0M212.9 791.8h0M247.3 789.7h0M263.9 781.9h0M257.9 773.1h0M266.7 784.2h0M224.2 782.8h0M247.2 778.9h0M227.6 790.6h0M239.9 782.7h0M231.2 795.0h0M240.3 785.4h0M211.5 785.2h0"/>
<path stroke="#d7b169" d="M233.4 776.8h0M260.0 783.7h0M220.2 779.4h0M279.7 778.3h0M221.8 783.1h0M215.0 792.9h0M235.5 782.1h0M250.2 776.5h0M252.7 781.8h0M249.8 781.7h0M234.3 782.4h0M232.2 797.1h0"/>
<path stroke="#dec17b" d="M237.8 784.8h0M236.0 784.9h0M251.5 790.3h0M211.9 790.7h0"/>
<path stroke="#8b500a" d="M200.2 824.2h0"/>
<path stroke="#995d13" d="M232.8 806.8h0M208.5 810.9h0"/>
<path stroke="#a5691b" d="M223.8 808.2h0M205.6 800.1h0M175.2 818.9h0M194.7 819.7h0M191.6 790.4h0M188.2 807.4h0M216.0 809.7h0M200.2 807.2h0M207.8 797.8h0M186.5 815.9h0M239.1 807.6h0M243.6 818.6h0M201.0 810.6h0"/>
<path stroke="#b17423" d="M207.4 813.8h0M210.0 807.7h0M207.0 814.7h0M209.6 821.2h0M197.0 811.3h0M211.3 809.4h0M208.8 800.7h0M208.8 802.7h0M181.6 824.3h0M210.7 813.6h0M226.3 822.8h0M208.1 811.0h0M197.9 810.8h0M196.9 812.0h0M185.0 804.2h0M199.6 805.1h0M201.2 809.0h0M201.7 814.4h0M184.6 812.3h0M213.0 825.1h0M194.4 828.4h0M214.8 811.0h0M199.9 811.1h0M208.2 819.0h0M209.6 820.8h0M178.1 817.2h0"/>
<path stroke="#bf812d" d="M234.9 820.0h0M218.8 802.5h0M242.7 821.7h0M185.9 821.4h0M216.3 815.2h0M217.1 802.7h0M204.9 814.1h0M237.6 809.9h0M225.2 803.5h0M207.3 807.7h0M189.0 812.4h0M209.2 808.4h0M228.0 814.6h0M211.3 816.3h0M211.4 809.8h0M191.9 816.7h0M226.5 819.1h0M226.2 829.3h0M213.4 810.1h0M211.0 825.8h0M205.4 806.2h0M201.1 807.1h0M229.1 809.5h0M200.8 803.0h0M215.9 821.2h0M191.4 814.6h0M214.4 826.8h0M203.9 818.1h0M224.0 835.8h0M226.0 820.9h0M207.5 821.5h0M211.4 812.8h0M203.3 811.6h0M242.3 823.4h0M212.9 799.1h0M241.6 815.6h0M170.6 807.8h0M211.8 829.0h0M223.3 813.2h0M219.1 805.2h0M175.4 811.1h0M181.1 820.3h0M203.5 811.8h0M211.9 803.4h0M206.7 812.5h0M200.6 815.3h0M170.0 807.2h0M220.0 809.5h0M235.9 818.3h0M206.9 807.2h0M176.9 808.3h0M223.2 807.1h0M238.0 818.7h0M204.7 816.1h0M215.6 820.1h0M236.6 817.3h0M223.2 806.6h0M213.6 809.7h0M224.7 813.7h0M200.9 829.1h0M201.9 817.2h0M211.8 805.6h0M215.5 825.6h0M196.0 818.7h0M185.5 818.0h0M231.2 807.6h0"/>
<path stroke="#c79040" d="M217.8 812.7h0M197.9 806.0h0M197.9 803.2h0M187.0 805.7h0M207.2 818.0h0M198.2 815.1h0M206.9 797.2h0M180.1 811.5h0M206.2 820.7h0M182.0 829.9h0M210.3 809.5h0M181.6 810.5h0M224.4 804.9h0M225.5 807.3h0M224.5 804.8h0M245.0 830.0h0M175.7 809.5h0M232.5 806.0h0M212.5 797.0h0M230.5 801.3h0M173.1 816.6h0M196.6 810.3h0M188.5 804.3h0M219.4 813.3h0M228.8 807.9h0M199.9 810.8h0M184.4 796.0h0M180.4 815.0h0M241.6 811.2h0M222.1 816.0h0M221.2 815.5h0M219.4 819.7h0M207.7 816.9h0M227.5 825.7h0M238.7 805.4h0M133.3 817.2h0M174.0 802.1h0M169.2 815.8h0M206.5 800.4h0M194.5 807.9h0M245.5 795.3h0M249.9 815.9h0M204.1 802.3h0M203.2 808.7h0M232.8 821.1h0M227.7 805.6h0M188.4 813.0h0M206.8 800.7h0M216.3 811.8h0"/>
<path stroke="#cfa256" d="M210.6 830.7h0M208.1 817.1h0M245.3 815.6h0M220.5 817.6h0M227.6 806.2h0M198.7 812.9h0M192.4 810.6h0M193.1 793.8h0M210.5 800.7h0M188.9 819.8h0M190.2 807.7h0M204.3 813.8h0M206.1 828.4h0M195.5 823.5h0M220.0 807.7h0M218.0 806.5h0M185.2 818.6h0M178.7 821.9h0M197.0 800.6h0M213.5 796.8h0M219.7 806.6h0M218.6 814.5h0M195.3 804.6h0M217.4 808.7h0M222.2 820.7h0M228.6 799.9h0M234.8 802.7h0M213.5 835.2h0"/>
<path stroke="#d7b169" d="M202.1 807.9h0M189.9 820.4h0M200.7 809.2h0M212.4 811.8h0M221.0 809.3h0M235.3 809.7h0M213.5 805.3h0M167.8 792.4h0M161.9 829.2h0M219.6 800.0h0M187.3 821.3h0M207.8 808.8h0"/>
<path stroke="#dec17b" d="M197.4 809.2h0M201.7 824.9h0M215.9 815.1h0"/>
<path stroke="#e9f2f1" d="M167.9 775.7h0"/>
<path stroke="#def0ed" d="M171.4 777.9h0M142.3 771.4h0"/>
<path stroke="#d2ede9" d="M183.0 761.2h0"/>
<path stroke="#c7eae5" d="M121.3 773.9h0M148.7 777.3h0"/>
<path stroke="#b4e2db" d="M137.9 774.3h0M177.3 767.5h0M168.9 784.7h0M128.5 767.1h0M124.5 767.6h0M137.1 760.4h0M168.5 768.7h0M97.1 773.6h0"/>
<path stroke="#a3dbd3" d="M185.2 783.6h0M161.9 779.6h0M177.3 778.4h0M168.5 782.4h0M181.4 777.0h0"/>
<path stroke="#92d4ca" d="M111.6 773.6h0M158.9 780.3h0M136.8 780.1h0M158.6 776.1h0M128.7 778.7h0M198.1 769.8h0M126.0 775.8h0M165.4 782.1h0"/>
<path stroke="#7fccc0" d="M140.5 775.3h0M163.7 769.3h0M134.4 766.4h0M180.0 784.7h0M185.6 773.9h0M111.6 787.4h0M114.9 774.6h0M125.1 761.5h0M167.4 779.5h0"/>
<path stroke="#6dbfb4" d="M153.8 786.3h0M124.5 781.7h0M134.6 764.8h0M119.4 776.4h0M125.2 784.2h0M159.8 793.1h0M152.8 786.9h0M150.5 768.2h0"/>
<path stroke="#58b0a7" d="M124.0 768.2h0M135.2 774.7h0M146.5 783.5h0M164.2 758.6h0M101.8 784.6h0M158.5 768.5h0M113.3 765.1h0M188.3 762.5h0M179.0 784.7h0M115.7 783.9h0M147.6 776.1h0M131.3 778.3h0"/>
<path stroke="#47a49b" d="M185.4 769.5h0M116.1 788.5h0M113.2 773.7h0M118.8 779.9h0"/>
<path stroke="#35978f" d="M194.4 769.2h0M131.7 776.8h0M89.2 761.4h0M159.4 777.0h0M93.9 784.4h0"/>
<path stroke="#278a82" d="M125.3 771.7h0M133.5 776.3h0M91.4 775.1h0"/>
<path stroke="#1a7e76" d="M116.7 778.8h0"/>
<path stroke="#0c7169" d="M227.4 785.7h0"/>
<path stroke="#58b0a7" d="M217.6 788.9h0M177.3 798.6h0M203.9 797.5h0"/>
<path stroke="#47a49b" d="M200.7 800.5h0M191.6 803.0h0M210.1 800.0h0M196.2 794.2h0"/>
<path stroke="#35978f" d="M216.0 798.6h0M220.8 799.4h0"/>
<path stroke="#278a82" d="M209.3 798.7h0M180.2 795.7h0M202.4 788.8h0"/>
<path stroke="#1a7e76" d="M216.3 793.3h0M206.9 794.9h0M189.8 793.5h0M239.2 791.9h0M173.3 795.6h0M205.0 792.6h0"/>
<path stroke="#0c7169" d="M206.3 795.5h0M245.9 791.1h0M180.7 799.8h0M219.2 795.4h0M216.7 795.4h0M164.2 800.6h0M191.2 792.4h0M169.9 800.6h0"/>
<path stroke="#01655d" d="M209.8 797.6h0M190.5 802.3h0M217.0 795.5h0M161.6 795.3h0M150.4 797.9h0M210.0 798.1h0M200.4 796.7h0M229.3 800.6h0M182.6 796.3h0M207.4 791.3h0M177.4 789.2h0"/>
<path stroke="#015b52" d="M176.9 790.5h0M202.4 788.0h0M228.6 801.4h0M207.8 791.3h0M192.2 795.9h0M203.3 796.9h0M188.6 800.0h0M232.6 792.9h0M219.5 797.4h0M223.0 804.0h0M183.9 800.0h0M214.4 799.0h0M180.5 795.4h0M206.5 794.7h0"/>
<path stroke="#005046" d="M186.9 800.5h0M212.2 800.2h0M233.9 798.2h0M215.0 795.1h0M188.6 794.3h0M167.4 795.2h0M189.6 798.8h0M218.3 795.6h0M184.6 796.9h0M177.7 795.6h0M194.9 796.9h0M215.5 798.1h0M227.4 792.9h0"/>
<path stroke="#00463b" d="M203.7 796.4h0M213.1 798.2h0M219.7 797.8h0M198.4 795.1h0M208.4 797.9h0M238.9 795.7h0M180.4 791.7h0M199.6 801.8h0"/>
<path stroke="#003c30" d="M178.5 799.0h0M183.8 795.0h0M188.5 793.5h0M201.6 798.6h0M237.0 796.9h0M192.8 803.2h0M185.5 800.5h0M236.4 801.4h0M170.1 793.6h0M170.7 797.5h0M225.5 800.0h0M198.0 792.3h0M210.8 791.3h0M158.4 790.1h0M193.2 792.7h0M192.6 796.6h0M228.1 795.3h0M210.4 791.0h0"/>
<path stroke="#c7eae5" d="M119.4 797.4h0"/>
<path stroke="#b4e2db" d="M140.2 793.7h0M70.2 804.2h0"/>
<path stroke="#92d4ca" d="M98.9 789.5h0M135.2 793.1h0M53.4 806.5h0M78.5 806.2h0M173.9 800.4h0M146.5 791.2h0M148.9 810.0h0M168.0 804.1h0M124.2 794.9h0"/>
<path stroke="#7fccc0" d="M174.3 806.0h0M106.2 805.7h0M143.0 816.1h0M141.6 803.4h0M171.3 792.5h0M185.2 803.7h0M90.3 803.4h0"/>
<path stroke="#6dbfb4" d="M96.8 814.0h0M149.3 800.7h0M144.9 794.2h0M170.2 791.5h0M161.3 803.8h0M128.0 795.7h0M164.3 787.0h0M121.4 792.1h0M64.6 803.5h0M124.3 802.5h0M120.8 794.6h0M147.5 789.8h0M99.0 795.2h0M112.4 804.2h0M128.9 786.3h0M155.4 791.8h0"/>
<path stroke="#58b0a7" d="M147.6 807.8h0M157.9 795.4h0M137.2 791.1h0M136.6 796.6h0M98.6 814.6h0M172.2 797.2h0M164.0 804.6h0M123.1 809.1h0M60.3 793.1h0M124.1 806.2h0"/>
<path stroke="#47a49b" d="M128.8 797.5h0M89.1 796.7h0M147.6 790.1h0M130.8 793.0h0M130.5 799.8h0M139.2 789.8h0M148.0 803.2h0M126.8 789.9h0M196.0 795.6h0M121.2 788.8h0M114.6 801.0h0M69.9 796.9h0M112.4 788.8h0M143.4 794.1h0M102.3 796.1h0M71.8 794.9h0M115.0 798.6h0M186.8 794.9h0M165.7 782.3h0"/>
<path stroke="#35978f" d="M111.6 790.3h0M110.5 789.0h0M114.1 807.5h0M89.3 805.6h0M135.0 799.5h0M127.3 792.1h0M96.6 797.8h0M47.0 788.8h0M178.2 800.7h0M101.3 793.6h0M166.7 804.7h0M110.2 792.1h0M142.8 800.1h0M125.3 793.8h0M114.9 784.7h0M193.0 791.6h0M116.8 801.0h0M144.0 788.8h0M125.3 801.9h0M112.2 797.7h0M113.1 814.0h0"/>
<path stroke="#278a82" d="M136.9 793.3h0M139.1 794.9h0M170.7 796.3h0M140.0 792.0h0M94.2 793.6h0M200.8 789.1h0M105.2 797.7h0M129.7 805.1h0M170.2 795.5h0M105.5 797.6h0M115.7 799.2h0M133.1 792.6h0M114.1 793.2h0M87.7 791.4h0M128.3 808.4h0M99.3 803.8h0M174.1 803.4h0M186.4 805.4h0M99.3 812.9h0M111.6 796.3h0M133.1 807.8h0"/>
<path stroke="#1a7e76" d="M92.6 797.5h0M136.7 806.8h0M84.6 809.4h0M144.4 800.0h0M140.3 801.5h0M78.3 797.3h0M170.4 784.9h0M170.0 790.4h0M84.4 802.6h0M112.0 795.1h0M76.2 805.9h0M110.6 790.0h0M157.1 802.4h0M90.3 803.2h0M91.7 792.2h0M153.5 793.0h0M71.4 805.3h0M113.6 783.7h0M116.6 797.1h0M105.4 801.3h0M143.4 793.5h0M140.4 794.9h0M167.7 798.6h0M197.0 792.2h0M119.6 788.9h0M144.8 794.3h0M86.4 803.6h0M143.3 790.2h0M145.7 793.8h0"/>
<path stroke="#0c7169" d="M106.7 788.2h0M118.3 808.5h0M144.6 787.7h0M82.6 796.8h0M171.2 801.3h0M149.2 792.3h0M103.4 790.3h0M150.4 801.6h0M70.5 798.0h0M80.9 810.3h0M67.7 782.6h0M128.7 797.7h0M107.4 794.2h0M61.4 793.2h0M120.9 796.8h0M85.7 806.6h0M117.2 794.4h0M54.2 797.4h0M52.5 793.9h0"/>
<path stroke="#01655d" d="M128.7 815.9h0M139.4 789.8h0M91.3 802.8h0M102.7 798.0h0M105.3 803.2h0M110.1 797.2h0M150.8 799.4h0M76.1 787.7h0M98.2 802.8h0M164.0 805.6h0M111.9 791.1h0M109.9 811.9h0M117.3 795.7h0M100.5 799.4h0M90.0 795.3h0M129.0 792.7h0"/>
<path stroke="#015b52" d="M130.3 795.5h0M141.3 800.7h0M140.6 797.8h0M99.8 794.6h0M85.5 800.7h0M137.7 801.2h0M127.1 801.6h0M163.8 792.2h0M88.0 793.5h0"/>
<path stroke="#005046" d="M121.8 801.2h0M138.6 808.8h0M115.0 804.9h0M92.0 801.2h0M137.5 792.9h0M136.1 807.3h0M106.5 804.7h0M144.4 793.8h0M142.7 797.0h0"/>
<path stroke="#00463b" d="M163.4 786.2h0M93.2 797.3h0M134.6 791.8h0M160.3 788.8h0M93.0 802.1h0M175.7 797.4h0"/>
<path stroke="#003c30" d="M129.8 808.4h0M163.6 798.2h0M116.4 799.0h0M129.6 791.8h0M143.1 787.8h0M118.8 792.6h0"/>
<path stroke="#92d4ca" d="M99.8 798.2h0"/>
<path stroke="#6dbfb4" d="M125.0 794.9h0M106.5 800.2h0M97.4 792.6h0M100.0 798.1h0"/>
<path stroke="#58b0a7" d="M102.4 789.4h0M78.8 794.8h0M121.6 801.8h0M73.9 792.8h0M88.9 795.5h0M85.1 789.6h0M120.4 793.8h0"/>
<path stroke="#47a49b" d="M94.5 792.2h0M98.1 792.9h0M121.3 791.4h0M77.9 790.2h0M84.3 796.8h0M93.9 801.0h0M96.1 793.3h0M118.6 789.3h0"/>
<path stroke="#35978f" d="M112.9 796.2h0M118.9 796.4h0M115.3 796.0h0M113.8 794.5h0M103.9 798.6h0M83.4 804.3h0M83.1 797.8h0M76.8 800.4h0M105.5 796.4h0M97.4 790.4h0M91.6 803.6h0M122.7 788.6h0M104.0 793.2h0M79.7 794.1h0M94.4 789.0h0"/>
<path stroke="#278a82" d="M119.5 794.9h0M73.3 801.3h0M106.1 793.9h0M120.3 792.8h0M99.4 790.8h0M84.6 797.2h0M92.6 804.1h0M104.3 791.4h0M120.4 796.0h0M111.8 794.4h0M79.0 798.4h0M89.4 790.7h0M77.3 796.5h0M88.8 793.5h0M87.5 796.0h0M109.8 796.3h0M73.3 793.0h0M80.6 797.6h0M116.4 792.7h0M79.3 793.5h0"/>
<path stroke="#1a7e76" d="M79.5 795.8h0M106.5 797.9h0M110.6 800.6h0M100.9 790.5h0M78.9 798.9h0M73.8 797.3h0M109.6 796.3h0M87.8 795.6h0M107.8 797.2h0M79.1 792.6h0M100.4 794.5h0M113.8 799.7h0M122.5 800.7h0M120.3 791.0h0M109.2 794.6h0M78.8 795.9h0M103.4 790.7h0M98.8 797.6h0"/>
<path stroke="#0c7169" d="M104.1 790.6h0M107.6 793.7h0M100.6 795.2h0M91.6 798.8h0M81.4 795.1h0M124.0 794.3h0M123.5 793.3h0M99.1 795.5h0M104.4 799.6h0M86.3 802.3h0M115.4 793.5h0M90.5 803.0h0M95.7 802.3h0M99.9 800.3h0M85.9 797.4h0M119.8 799.0h0M102.2 792.1h0M81.4 795.1h0M110.6 797.3h0M101.0 800.4h0M104.3 797.7h0M103.3 790.4h0M118.3 799.3h0M86.6 794.7h0"/>
<path stroke="#01655d" d="M73.2 792.9h0M83.7 800.0h0M112.6 795.5h0M103.7 799.0h0M93.9 798.9h0M86.7 799.5h0M77.9 795.6h0M123.2 793.6h0M79.3 798.9h0M82.8 796.6h0M120.5 795.8h0M104.7 797.5h0M75.4 796.9h0M76.1 802.6h0M87.7 793.7h0M84.2 798.2h0M86.0 795.0h0M113.5 791.6h0M124.4 798.0h0M106.6 793.4h0M101.5 790.7h0"/>
<path stroke="#015b52" d="M96.4 794.4h0M86.8 804.3h0M80.3 798.7h0M83.9 800.9h0M95.7 801.4h0M124.5 788.2h0M95.2 794.9h0M102.9 794.9h0M115.3 795.4h0M113.0 794.4h0M105.3 801.8h0M93.4 796.4h0M80.3 794.1h0M94.1 796.3h0M114.3 801.0h0M108.3 792.5h0M92.6 792.1h0M89.5 796.7h0M110.8 793.1h0"/>
<path stroke="#005046" d="M84.6 792.2h0M111.2 792.9h0M123.8 794.2h0M113.6 789.7h0M122.0 804.4h0M116.7 795.0h0M119.3 794.3h0M82.9 801.4h0M85.8 797.8h0M123.6 795.5h0"/>
<path stroke="#00463b" d="M75.1 792.0h0M106.9 795.4h0M108.7 794.6h0M95.5 796.0h0M74.2 801.6h0M122.6 797.6h0M102.2 790.3h0M100.8 794.2h0"/>
<path stroke="#003c30" d="M105.6 795.9h0M84.3 794.3h0M95.2 796.8h0M121.0 794.9h0M81.5 794.6h0"/>
<path stroke="#0c7169" d="M169.5 802.2h0"/>
<path stroke="#01655d" d="M157.6 797.1h0M138.6 796.0h0M189.0 796.3h0M160.1 791.4h0"/>
<path stroke="#015b52" d="M177.3 798.3h0M133.5 800.1h0M155.8 797.0h0M156.0 791.4h0M162.3 800.6h0M188.7 790.2h0M108.3 793.0h0M163.2 796.9h0M165.3 790.3h0M206.5 796.4h0M112.6 795.9h0M149.5 795.4h0M144.6 787.8h0M174.3 791.1h0M137.1 795.3h0M201.3 793.0h0M179.6 793.6h0M173.4 791.4h0M152.0 792.9h0M146.3 799.2h0M182.4 789.3h0M161.0 794.2h0M155.7 790.9h0M180.1 803.2h0M163.6 794.3h0"/>
<path stroke="#005046" d="M180.8 800.4h0M177.4 789.3h0M157.7 794.4h0M140.0 797.0h0M174.5 807.1h0M158.9 797.9h0M181.6 796.8h0M165.1 804.7h0M163.0 802.7h0M139.9 786.6h0M137.7 790.5h0M116.6 792.7h0M158.7 801.2h0M174.5 798.3h0M108.0 790.9h0M113.5 793.9h0M115.2 798.0h0M163.8 796.9h0M135.9 797.0h0M180.8 794.3h0M125.8 788.8h0M117.0 801.7h0M193.9 797.9h0M137.3 796.7h0M165.5 794.9h0M174.1 792.6h0M140.9 806.7h0M154.9 794.2h0M156.3 800.3h0M135.9 803.6h0M164.1 798.4h0M171.8 795.4h0M137.2 795.0h0M176.5 794.5h0M172.6 791.4h0M135.4 796.3h0M149.9 796.6h0M130.1 788.4h0M156.9 790.2h0"/>
<path stroke="#00463b" d="M164.9 800.8h0M109.0 802.7h0M166.4 790.4h0M119.4 799.4h0M130.5 791.6h0M122.5 795.8h0M101.1 791.9h0M179.2 783.5h0M180.8 795.7h0M150.8 796.9h0M131.7 794.2h0M172.5 791.9h0M162.9 792.6h0M158.5 794.4h0M137.3 782.6h0M198.7 801.5h0M153.2 787.7h0M178.1 785.6h0M169.3 796.3h0M118.4 801.4h0M173.0 797.2h0M154.2 797.5h0M187.9 791.5h0M218.7 791.8h0M197.2 793.6h0M146.1 797.0h0M175.2 805.8h0M179.3 794.9h0M194.4 797.7h0M153.2 787.2h0M138.6 804.2h0M152.1 793.8h0M143.1 780.0h0M142.2 803.4h0M144.1 794.9h0M173.2 792.0h0M170.0 796.4h0M180.2 804.3h0M135.9 800.6h0M136.0 793.9h0M162.9 795.9h0M145.0 796.8h0M170.7 793.6h0M155.1 803.3h0M170.2 793.3h0M214.9 791.3h0M161.0 791.9h0M131.9 799.6h0M103.9 785.8h0M173.4 796.2h0M124.0 801.1h0M168.1 796.4h0M143.8 793.3h0M116.4 787.0h0M136.0 803.8h0M107.9 797.5h0M125.3 793.9h0M147.0 797.9h0M157.3 795.1h0M166.3 793.5h0M172.6 799.9h0M118.9 798.6h0M146.6 800.3h0M205.4 800.6h0M152.2 803.2h0M160.2 794.0h0M196.9 787.2h0M88.1 783.5h0M108.8 796.4h0M134.6 799.6h0M137.1 793.2h0M169.4 791.4h0M87.0 800.3h0M138.4 802.8h0M170.4 784.6h0M172.2 793.2h0M134.1 803.4h0M191.1 803.0h0M174.0 794.1h0M136.6 795.0h0M183.5 794.7h0M158.9 795.9h0M173.6 788.3h0"/>
<path stroke="#003c30" d="M179.3 799.8h0M151.5 803.3h0M149.3 787.0h0M116.2 796.3h0M168.6 791.7h0M119.6 793.5h0M168.3 792.5h0M124.6 797.7h0M122.9 801.2h0M145.9 796.2h0M114.9 799.3h0M189.8 793.2h0M155.4 798.5h0M152.8 791.5h0M136.0 802.3h0M146.3 794.3h0M167.2 791.9h0M130.0 790.1h0M130.8 793.7h0M146.2 789.6h0M149.0 795.6h0M145.1 791.8h0M148.8 786.4h0M190.8 807.0h0M163.7 793.5h0M165.0 804.3h0M149.8 788.4h0M161.5 789.7h0M165.1 790.7h0M81.3 797.7h0M141.9 793.8h0M131.8 799.2h0M159.4 796.8h0M173.4 783.1h0M158.2 797.6h0M177.1 801.6h0M152.2 789.8h0M184.7 800.3h0M170.9 788.7h0M159.3 794.0h0M140.8 798.0h0M161.4 794.0h0M123.1 797.0h0M161.4 796.2h0M150.9 792.9h0M187.0 795.4h0M166.1 791.8h0M201.8 804.7h0M138.3 792.8h0M155.4 793.6h0M173.3 794.1h0M115.8 793.7h0M147.5 797.3h0M163.6 805.1h0M166.2 795.1h0M135.8 792.6h0M137.9 792.6h0M183.8 791.9h0M195.1 785.5h0M110.9 793.3h0M183.4 795.1h0M102.7 794.2h0M137.7 790.5h0M166.2 797.6h0M158.6 787.6h0M146.8 791.3h0M142.0 785.9h0M160.3 804.3h0M139.4 790.6h0M160.4 797.4h0M123.8 797.6h0M215.8 804.7h0M164.4 794.8h0M145.4 799.5h0M143.1 796.9h0M139.2 799.5h0M126.4 792.8h0M141.5 788.6h0M136.5 800.7h0M99.2 795.4h0M110.4 804.9h0M184.3 801.2h0M187.9 795.7h0M156.7 789.2h0M103.4 793.9h0M213.6 803.5h0M129.9 792.1h0M87.5 788.0h0M150.2 795.8h0M143.8 795.9h0M176.6 789.5h0M103.0 801.1h0M182.6 806.8h0M165.3 797.1h0M189.3 799.6h0M133.4 797.7h0M158.8 785.0h0M151.4 774.2h0M186.8 790.6h0M157.8 800.7h0M121.1 797.5h0M163.5 800.1h0M206.6 795.2h0M173.5 794.4h0M152.5 801.9h0M195.6 796.5h0M164.0 789.3h0M197.6 789.9h0M138.3 802.6h0M155.5 794.1h0M134.3 800.2h0M208.7 798.4h0M143.8 795.6h0M161.8 786.8h0M167.4 794.7h0M143.3 795.7h0M145.4 797.7h0M227.8 803.0h0M135.8 794.2h0M177.5 795.9h0M165.0 797.2h0M200.0 798.8h0M139.7 788.7h0M197.5 789.4h0M148.3 797.2h0M163.3 797.9h0M161.9 793.1h0M113.2 799.4h0M199.4 799.2h0M141.6 794.5h0M189.3 801.3h0M175.1 796.1h0M123.6 799.9h0M150.0 798.3h0M156.5 797.9h0M199.2 793.9h0M139.0 795.5h0M164.9 804.9h0M170.6 801.6h0M158.3 794.4h0M146.2 796.7h0M136.3 800.7h0M141.8 796.4h0M138.4 789.6h0M176.2 804.0h0M174.8 794.3h0M170.8 801.2h0M111.6 801.1h0M119.2 790.7h0M133.3 795.4h0M200.0 789.0h0M159.8 790.0h0M133.0 791.2h0M162.9 795.9h0M164.4 787.5h0M159.6 787.6h0M127.9 797.4h0M104.7 791.8h0M159.1 786.9h0M141.0 802.0h0M134.9 788.4h0M132.6 787.9h0M181.2 798.1h0M191.1 793.2h0M138.2 793.8h0M157.5 804.5h0M165.7 788.4h0M165.8 800.5h0M173.0 781.7h0M164.8 793.2h0M178.4 787.4h0M157.8 793.1h0M179.2 782.8h0M147.5 797.7h0M111.5 794.1h0M158.2 784.4h0M216.8 793.6h0M137.1 796.8h0M85.6 789.5h0M150.4 799.6h0M202.4 778.9h0M144.5 792.1h0M190.8 790.7h0M176.9 797.3h0M150.1 798.3h0M109.1 803.7h0M140.2 799.0h0M162.5 799.6h0M156.2 793.6h0M107.6 785.4h0M188.0 784.0h0M155.4 790.0h0M142.0 799.2h0M188.0 793.9h0M138.4 797.5h0M121.3 795.7h0M158.1 792.3h0M164.3 801.7h0M126.7 797.5h0M197.9 796.0h0M145.7 799.6h0M153.8 786.0h0M144.8 800.3h0M151.1 801.6h0M147.3 793.8h0M112.4 790.5h0M160.2 791.1h0M148.4 785.9h0M181.5 795.6h0M162.2 788.2h0M172.8 798.1h0M130.4 782.4h0M127.8 793.6h0M135.0 796.0h0M142.9 799.6h0M132.9 794.1h0M167.1 798.4h0M155.9 797.5h0M213.8 807.5h0M142.4 798.6h0M166.7 794.5h0M173.8 788.1h0M198.6 784.3h0M153.7 793.3h0M155.3 802.8h0M143.2 788.4h0M151.4 787.5h0M146.2 796.5h0M152.0 800.3h0M193.3 793.7h0M167.4 785.2h0M172.6 793.3h0M147.4 787.2h0M127.7 805.8h0M105.4 789.2h0M110.1 795.8h0M140.7 793.5h0M103.0 807.7h0M169.6 791.5h0M154.3 794.4h0M147.3 788.9h0M157.0 790.4h0M167.8 794.6h0M149.1 790.6h0M179.7 784.6h0M154.0 784.6h0M184.5 783.1h0M142.9 795.5h0M173.5 797.9h0M159.1 795.1h0M197.5 785.0h0M189.3 795.1h0M176.4 791.8h0M218.6 786.7h0M178.6 789.6h0M169.7 800.0h0M150.1 795.7h0M138.3 791.4h0M149.4 792.3h0M159.6 795.9h0M138.8 800.3h0M148.8 792.6h0M160.0 790.8h0M136.5 794.2h0M143.5 790.0h0M198.3 789.9h0M142.0 801.8h0M127.0 800.9h0"/>
</g>
<line x1="78.0" y1="806.0" x2="311.6" y2="772.1" stroke="#000" stroke-width="1.9"/>
<g clip-path="url(#c5)" stroke-linecap="round" stroke-width="3.50" fill="none">
<path stroke="#c79040" d="M435.4 711.6h0M443.3 714.5h0M428.2 725.4h0M430.3 732.1h0M415.5 721.8h0M421.6 711.5h0"/>
<path stroke="#cfa256" d="M438.2 724.4h0M434.2 721.6h0M423.1 709.3h0M407.2 717.1h0M431.2 705.6h0M420.4 707.3h0M444.4 715.5h0M427.9 709.4h0M410.5 715.5h0M439.2 709.9h0"/>
<path stroke="#d7b169" d="M427.8 713.9h0M425.4 711.4h0M440.0 714.6h0M423.0 715.0h0"/>
<path stroke="#dec17b" d="M432.6 711.5h0M441.4 722.5h0"/>
<path stroke="#e5cc8f" d="M413.3 722.3h0M431.9 713.3h0M434.4 717.5h0"/>
<path stroke="#7e4909" d="M473.4 734.7h0"/>
<path stroke="#995d13" d="M477.5 731.9h0M458.2 736.1h0M456.6 729.2h0M455.0 729.3h0M452.4 734.7h0"/>
<path stroke="#a5691b" d="M464.2 727.1h0M465.6 723.1h0M463.6 722.0h0M468.0 731.9h0M450.8 727.7h0M466.3 738.9h0M452.1 729.5h0M450.3 736.8h0M455.7 728.1h0M461.2 734.9h0M466.8 735.7h0M456.3 740.7h0"/>
<path stroke="#b17423" d="M450.5 730.2h0M482.8 733.0h0M459.0 731.9h0M459.1 737.1h0M461.7 725.1h0M476.7 730.3h0M474.6 742.5h0M464.2 730.4h0M461.4 728.9h0M473.3 734.2h0M455.9 729.9h0M453.8 723.6h0M449.8 732.0h0M457.9 727.8h0M479.8 733.9h0M473.6 739.8h0M452.0 726.0h0M489.1 728.9h0M446.9 731.8h0M455.6 724.1h0M469.3 736.2h0M467.9 727.9h0"/>
<path stroke="#bf812d" d="M445.2 722.3h0M455.5 736.8h0M469.2 734.0h0M480.9 730.8h0M471.3 730.6h0M453.8 727.7h0M467.5 737.6h0M463.5 731.0h0M457.2 737.6h0M458.6 733.3h0M444.9 729.0h0M448.5 726.4h0M456.5 726.8h0M471.9 726.4h0M466.5 729.6h0M464.9 724.5h0M483.5 734.3h0M448.9 726.6h0M467.5 735.6h0M459.0 719.0h0M468.3 734.9h0M453.6 724.8h0M472.5 724.0h0M468.7 738.7h0M458.5 729.1h0M474.3 736.7h0M469.9 728.3h0M451.3 734.5h0M442.0 727.6h0M463.4 730.2h0M463.8 731.9h0M468.6 728.2h0M461.1 726.2h0M463.2 731.2h0M461.5 726.3h0M458.8 732.8h0"/>
<path stroke="#c79040" d="M463.1 729.6h0M473.9 728.1h0M456.7 739.8h0M456.9 733.2h0M459.2 728.8h0M454.7 728.1h0M453.4 722.3h0M449.0 720.6h0M468.3 734.1h0M469.8 738.7h0M474.5 730.5h0M445.3 723.2h0M468.2 725.4h0M431.6 724.8h0M462.6 726.0h0M490.8 740.1h0M451.2 730.0h0M458.9 732.3h0M466.9 727.6h0M460.3 732.6h0M478.3 735.1h0M449.6 718.5h0M466.0 724.2h0M461.4 726.0h0M455.1 722.4h0M437.7 733.6h0M471.0 734.9h0M475.6 727.0h0M454.4 730.8h0M457.8 722.0h0"/>
<path stroke="#cfa256" d="M461.8 727.6h0M460.9 733.3h0M463.4 723.9h0M454.2 716.6h0M473.3 725.9h0M442.3 737.3h0M466.3 734.4h0M454.0 721.1h0M472.5 732.2h0"/>
<path stroke="#d7b169" d="M465.3 737.5h0M468.1 730.5h0M452.0 733.8h0"/>
<path stroke="#dec17b" d="M473.0 728.3h0M452.9 725.2h0"/>
<path stroke="#a5691b" d="M503.4 722.8h0"/>
<path stroke="#b17423" d="M496.1 711.5h0M531.9 716.3h0"/>
<path stroke="#bf812d" d="M492.6 710.4h0M476.8 713.4h0M485.3 713.5h0M495.8 713.6h0M483.7 706.4h0M471.8 710.4h0M477.8 713.6h0M497.3 714.8h0M506.7 708.5h0M514.4 715.4h0M476.2 705.0h0M489.1 713.9h0M473.6 701.7h0M486.4 708.6h0M508.7 711.2h0M528.5 725.8h0M475.9 705.8h0"/>
<path stroke="#c79040" d="M485.5 710.4h0M506.3 721.3h0M499.6 714.0h0M542.6 725.7h0M505.4 720.3h0M493.7 706.3h0M469.5 705.7h0M474.6 702.2h0M478.1 706.9h0M514.9 719.9h0M466.5 705.8h0M458.2 700.7h0M502.0 714.9h0M496.2 716.3h0M488.8 705.2h0"/>
<path stroke="#cfa256" d="M506.6 721.3h0M484.0 711.7h0M507.8 714.9h0M484.9 701.0h0M475.6 710.8h0M481.8 713.4h0M496.2 710.2h0M505.2 713.7h0M480.9 711.3h0M495.6 711.5h0M493.2 709.7h0M505.6 707.5h0M500.0 710.4h0M496.4 712.4h0M517.0 723.4h0M498.7 708.4h0M491.9 706.4h0M483.9 708.8h0"/>
<path stroke="#d7b169" d="M502.9 716.0h0M475.0 710.7h0M509.9 706.3h0M502.0 711.2h0M494.9 709.8h0M487.6 712.6h0M494.1 714.3h0M466.8 703.4h0M496.5 710.3h0M484.1 717.2h0"/>
<path stroke="#dec17b" d="M481.1 708.3h0M485.9 707.2h0M506.5 718.7h0M514.4 716.7h0M512.3 711.6h0M506.7 715.6h0M483.6 709.0h0"/>
<path stroke="#bf812d" d="M505.5 731.2h0"/>
<path stroke="#c79040" d="M541.7 735.9h0M590.1 762.3h0M549.2 745.2h0M579.4 763.9h0M551.1 757.1h0M547.7 749.9h0M535.6 749.5h0M532.6 733.2h0M554.0 748.2h0M511.3 718.6h0M533.4 737.0h0"/>
<path stroke="#cfa256" d="M574.9 756.5h0M542.8 745.8h0M551.4 747.1h0M530.3 732.2h0M530.1 742.8h0M561.3 759.3h0M531.1 753.0h0M560.5 759.6h0M526.1 742.9h0M586.5 769.8h0M558.7 752.9h0M558.2 748.5h0M536.4 737.7h0M540.4 751.1h0M538.8 739.5h0M566.0 747.4h0M547.6 753.6h0M568.4 743.8h0M509.8 745.9h0M581.4 765.3h0M547.5 752.2h0"/>
<path stroke="#d7b169" d="M561.0 755.7h0M519.1 730.8h0M552.2 760.1h0M509.1 732.6h0M505.6 727.8h0M543.4 741.0h0M582.3 755.0h0M532.9 737.2h0M542.2 752.7h0M577.3 757.3h0M590.9 753.9h0M557.3 756.9h0M562.7 752.3h0M547.6 752.2h0M531.3 739.6h0M559.7 754.6h0M529.0 750.2h0M536.9 733.1h0M525.1 749.4h0M526.2 736.7h0M524.3 726.3h0M579.5 754.9h0M548.4 749.9h0M541.7 751.4h0M524.1 738.1h0M502.3 735.6h0M518.0 731.7h0M539.8 742.5h0M533.0 746.7h0M541.4 735.4h0M505.6 740.3h0M557.4 754.4h0M566.4 755.2h0M517.0 738.4h0M547.5 761.1h0M576.9 761.7h0M582.6 758.4h0M535.8 741.4h0M514.6 734.8h0"/>
<path stroke="#dec17b" d="M511.2 728.2h0M533.8 736.1h0M580.9 761.5h0M548.6 751.1h0M560.0 751.5h0M542.1 746.6h0M579.7 757.8h0M560.7 750.4h0M590.6 761.2h0M535.9 748.3h0M534.9 747.8h0M585.9 756.3h0M579.2 752.1h0M508.4 735.6h0M569.6 762.8h0M569.5 754.5h0M551.8 757.0h0M503.1 733.9h0M579.8 763.6h0M566.2 760.1h0M534.0 751.1h0M563.1 763.4h0M592.8 752.0h0M583.2 756.6h0M551.1 749.7h0M528.1 742.1h0M552.3 759.9h0M557.7 754.2h0M558.6 746.1h0M541.2 751.8h0M546.9 746.5h0M586.1 762.7h0M569.2 754.7h0"/>
<path stroke="#e5cc8f" d="M498.0 737.4h0M555.5 748.8h0M520.1 746.7h0M551.2 756.9h0M552.5 749.9h0M503.9 724.7h0M558.8 757.8h0M512.7 740.6h0M517.5 733.7h0M553.5 739.4h0M520.4 730.3h0M551.9 747.7h0M514.2 729.7h0M525.0 747.1h0M522.0 737.8h0M549.2 750.1h0M582.0 756.2h0M588.3 752.1h0M517.6 725.8h0M572.5 746.9h0M545.7 753.8h0M522.3 753.3h0M557.3 742.0h0M531.4 734.2h0M563.2 744.8h0M516.7 737.0h0M503.5 727.8h0"/>
<path stroke="#ead59f" d="M508.2 726.1h0M511.1 742.0h0M508.5 730.8h0M528.3 729.0h0M522.4 735.7h0M507.9 730.2h0M518.1 736.4h0"/>
<path stroke="#f1dfb3" d="M502.7 736.8h0"/>
<path stroke="#a5691b" d="M585.9 763.2h0"/>
<path stroke="#b17423" d="M644.0 778.1h0M623.6 778.8h0M590.6 753.6h0"/>
<path stroke="#bf812d" d="M625.8 782.6h0M626.3 772.5h0M639.5 782.7h0M639.2 770.4h0M638.1 777.6h0M599.1 765.2h0M646.6 780.1h0M636.5 767.1h0M604.4 764.6h0M599.2 757.2h0M597.8 755.4h0M625.3 760.8h0M641.7 780.1h0M645.1 784.1h0M639.4 773.4h0M633.0 778.6h0M637.7 768.2h0"/>
<path stroke="#c79040" d="M621.1 771.8h0M593.7 771.4h0M651.9 775.3h0M596.1 757.4h0M615.5 766.7h0M604.3 766.7h0M586.6 765.5h0M597.9 762.3h0M592.2 767.7h0M632.4 775.1h0M636.6 786.0h0M601.6 756.6h0M630.3 779.1h0M648.7 781.5h0M585.2 757.8h0M623.4 768.7h0M602.2 761.5h0M589.0 757.0h0M600.1 773.8h0M590.3 756.4h0M643.5 777.0h0"/>
<path stroke="#cfa256" d="M628.1 782.2h0M617.4 760.7h0M598.9 750.6h0M594.5 757.2h0M644.0 782.3h0M639.1 786.1h0M626.1 766.6h0M600.0 763.6h0M615.2 771.8h0M610.2 771.4h0M634.4 772.7h0M597.6 767.8h0M644.1 768.7h0M586.0 761.2h0M614.5 771.9h0M646.7 787.5h0M641.4 780.1h0M637.9 780.9h0M622.1 772.7h0M605.2 760.0h0M585.9 760.7h0M641.0 765.9h0M607.8 759.7h0M594.1 750.2h0M645.6 780.7h0M641.2 768.3h0M632.9 783.8h0M619.3 772.1h0M594.1 759.2h0"/>
<path stroke="#d7b169" d="M636.7 772.7h0M592.5 765.0h0M599.1 759.7h0M615.4 768.7h0M635.4 769.1h0M618.1 772.3h0M596.1 756.7h0M643.4 779.6h0M596.0 763.5h0M632.6 778.8h0M620.4 775.9h0M620.9 779.7h0M612.2 760.1h0M647.7 777.7h0M611.8 774.3h0M602.3 758.4h0M639.1 792.0h0"/>
<path stroke="#dec17b" d="M639.5 765.2h0M584.0 766.7h0M636.0 774.2h0M605.5 775.8h0M625.5 776.2h0M648.2 767.4h0M596.2 761.9h0M615.7 758.5h0"/>
<path stroke="#e5cc8f" d="M628.4 774.7h0M633.6 783.5h0M629.4 770.7h0M601.9 771.7h0"/>
<path stroke="#995d13" d="M631.8 786.4h0"/>
<path stroke="#a5691b" d="M644.7 782.8h0"/>
<path stroke="#b17423" d="M636.2 783.0h0M638.8 788.1h0M638.2 778.2h0M640.7 779.9h0"/>
<path stroke="#bf812d" d="M631.5 781.9h0M633.8 783.7h0M635.6 791.7h0M626.6 772.0h0M638.9 779.9h0M641.1 786.0h0M643.4 784.7h0M643.0 790.4h0M633.2 785.4h0M637.9 783.6h0"/>
<path stroke="#c79040" d="M643.7 786.2h0M645.7 791.7h0M634.1 783.9h0M640.7 787.6h0M636.7 786.2h0M647.4 783.9h0"/>
<path stroke="#cfa256" d="M636.4 790.3h0M644.4 792.1h0M643.9 781.1h0M650.2 782.3h0M639.8 778.0h0M640.3 782.1h0M637.9 794.0h0M644.4 784.8h0M643.4 785.6h0M644.7 786.2h0M629.7 781.2h0"/>
<path stroke="#d7b169" d="M647.2 791.5h0M629.6 781.7h0M648.5 784.7h0M637.5 785.0h0M638.2 780.4h0M638.3 786.6h0M635.1 789.1h0"/>
<path stroke="#bf812d" d="M487.7 760.0h0"/>
<path stroke="#c79040" d="M486.1 736.7h0"/>
<path stroke="#cfa256" d="M478.1 749.5h0M484.4 748.4h0"/>
<path stroke="#d7b169" d="M486.6 753.0h0M484.2 758.4h0M479.6 746.1h0"/>
<path stroke="#dec17b" d="M481.1 749.7h0M494.2 748.2h0M494.0 752.4h0M485.3 748.4h0M493.4 748.3h0M498.6 744.0h0"/>
<path stroke="#e5cc8f" d="M474.3 764.4h0"/>
<path stroke="#ead59f" d="M505.9 737.2h0M479.6 767.3h0M482.8 751.5h0M498.8 752.5h0M491.8 747.6h0M485.8 748.9h0M487.1 745.7h0M483.6 738.2h0M485.9 746.7h0M492.1 754.5h0M485.2 747.3h0M485.1 737.0h0M484.2 748.1h0"/>
<path stroke="#f1dfb3" d="M482.7 748.1h0M492.3 749.0h0M488.3 759.0h0M491.2 747.2h0M493.0 756.8h0"/>
<path stroke="#f6e8c3" d="M488.0 753.5h0M485.0 754.5h0M475.8 738.2h0M498.7 744.4h0M504.3 748.9h0M498.2 739.2h0M491.6 752.2h0M492.0 747.4h0M477.2 762.8h0M492.8 752.4h0"/>
<path stroke="#f6ebcf" d="M475.4 753.4h0M491.1 749.6h0M487.9 752.7h0M489.0 760.5h0M481.9 751.5h0M482.2 766.0h0M491.1 750.7h0M476.2 742.2h0"/>
<path stroke="#f5efdc" d="M482.2 755.5h0M486.7 748.7h0M477.7 765.3h0M485.3 753.0h0M492.2 738.5h0"/>
<path stroke="#f5f2e8" d="M485.8 756.5h0M491.1 745.6h0"/>
<path stroke="#f4f5f5" d="M485.6 763.9h0M485.8 749.3h0"/>
<path stroke="#e9f2f1" d="M482.0 758.0h0"/>
<path stroke="#e9f2f1" d="M505.4 727.6h0"/>
<path stroke="#def0ed" d="M520.1 734.5h0M505.5 720.0h0M515.7 726.4h0M514.0 719.6h0"/>
<path stroke="#d2ede9" d="M528.5 730.6h0M530.2 728.3h0M495.8 720.1h0M513.0 722.9h0M520.5 726.3h0M502.7 723.7h0M511.6 728.9h0M524.9 742.9h0M513.4 725.6h0M524.1 731.7h0M500.0 724.9h0M530.2 732.1h0"/>
<path stroke="#c7eae5" d="M511.0 719.4h0M505.3 723.9h0M509.4 726.6h0M503.4 719.1h0M528.1 723.8h0M514.2 721.1h0M505.1 722.7h0M528.4 724.3h0M513.6 727.8h0M504.0 718.5h0M537.2 729.1h0"/>
<path stroke="#b4e2db" d="M516.3 727.1h0M519.0 720.4h0M513.6 728.1h0M517.5 718.7h0M520.7 730.9h0M512.7 711.8h0M518.4 729.8h0M503.8 726.3h0M491.4 723.9h0M505.8 721.3h0M515.4 719.8h0M512.7 726.3h0M528.1 730.6h0"/>
<path stroke="#a3dbd3" d="M530.0 730.4h0M520.4 727.3h0M501.4 720.0h0M523.4 728.4h0M510.2 719.1h0M506.5 723.3h0M528.2 728.4h0M511.3 723.9h0"/>
<path stroke="#92d4ca" d="M507.7 718.5h0M528.8 726.1h0M531.3 730.2h0M514.1 719.3h0M518.8 721.4h0"/>
<path stroke="#7fccc0" d="M513.9 725.3h0M510.8 722.2h0"/>
<path stroke="#6dbfb4" d="M510.8 717.6h0M526.8 726.0h0"/>
<path stroke="#58b0a7" d="M505.3 726.2h0M519.6 722.4h0"/>
<path stroke="#6dbfb4" d="M476.4 722.5h0M482.8 727.1h0"/>
<path stroke="#58b0a7" d="M472.9 725.1h0M470.7 722.3h0"/>
<path stroke="#47a49b" d="M464.2 722.5h0"/>
<path stroke="#35978f" d="M471.5 718.4h0M489.6 721.3h0M471.6 711.0h0M461.2 720.8h0M468.3 719.3h0"/>
<path stroke="#278a82" d="M464.5 720.6h0M470.3 721.1h0M471.1 725.9h0M475.7 727.1h0M469.6 727.5h0M479.2 724.5h0M473.2 722.3h0M470.2 723.6h0M469.4 723.0h0M475.8 731.0h0M472.6 721.3h0"/>
<path stroke="#1a7e76" d="M474.1 719.3h0M473.3 723.0h0M490.2 726.3h0M479.8 723.6h0M466.6 720.0h0M475.9 715.5h0M473.8 717.0h0M469.6 719.7h0M471.9 718.2h0M475.9 720.2h0M475.1 720.3h0M479.9 727.7h0M466.9 715.3h0"/>
<path stroke="#0c7169" d="M480.2 725.9h0M476.1 725.1h0M462.2 717.6h0M463.6 718.1h0M483.1 727.3h0M473.4 727.3h0"/>
<path stroke="#01655d" d="M475.9 722.4h0M483.2 726.6h0M466.7 726.5h0M474.4 726.7h0M478.3 730.6h0M466.3 723.5h0M481.0 725.8h0M469.9 723.8h0"/>
<path stroke="#015b52" d="M466.3 721.0h0M467.0 720.7h0M481.6 718.0h0M479.8 726.4h0M475.7 716.4h0M477.3 719.7h0"/>
<path stroke="#005046" d="M473.6 722.7h0M469.8 726.7h0M469.5 729.5h0"/>
<path stroke="#00463b" d="M479.2 725.8h0M482.8 715.1h0"/>
<path stroke="#003c30" d="M475.4 711.8h0"/>
<path stroke="#1a7e76" d="M488.3 723.3h0"/>
<path stroke="#0c7169" d="M475.8 717.2h0M492.6 718.6h0M496.2 720.7h0M478.2 718.1h0"/>
<path stroke="#01655d" d="M481.8 723.8h0M485.0 720.0h0M480.1 723.7h0M486.1 725.7h0M477.2 716.0h0M485.0 720.5h0M475.6 717.4h0M501.8 727.7h0M486.0 722.4h0M496.3 726.1h0M472.6 721.8h0"/>
<path stroke="#015b52" d="M501.3 726.4h0M480.4 723.3h0M495.4 724.6h0M481.0 718.4h0M483.5 719.5h0M464.9 717.7h0M485.2 718.6h0M490.4 722.9h0M485.3 724.7h0"/>
<path stroke="#005046" d="M490.5 717.3h0M481.5 721.6h0M473.3 719.1h0M477.2 720.3h0M492.5 721.7h0M490.6 723.4h0M487.1 727.5h0M483.2 721.3h0M477.8 725.6h0M499.5 721.8h0"/>
<path stroke="#00463b" d="M509.9 721.3h0M494.1 722.7h0M504.5 729.4h0M474.0 718.1h0M493.4 730.9h0M479.7 720.4h0M477.9 721.9h0M485.1 718.5h0M485.0 717.6h0"/>
<path stroke="#003c30" d="M481.1 718.9h0M490.6 726.8h0M481.3 721.0h0M486.3 724.2h0M490.1 720.1h0M498.6 726.6h0M486.3 722.8h0M482.8 729.2h0M507.7 724.7h0M478.1 726.7h0M488.4 719.8h0M485.0 722.5h0M493.6 723.0h0M485.5 724.8h0M479.5 720.3h0M490.6 725.0h0"/>
<path stroke="#01655d" d="M489.0 744.1h0"/>
<path stroke="#015b52" d="M493.3 709.4h0M489.0 733.1h0"/>
<path stroke="#005046" d="M486.3 728.1h0M491.8 715.7h0M490.3 733.9h0M486.6 723.6h0M492.3 748.7h0M495.5 732.1h0M492.3 734.2h0M485.1 727.6h0"/>
<path stroke="#00463b" d="M487.5 732.7h0M489.2 712.2h0M493.3 728.3h0M490.1 732.8h0M490.3 712.6h0M487.9 742.3h0M487.9 726.0h0M492.7 728.4h0M485.7 728.8h0M490.6 730.1h0M485.2 732.4h0M488.7 720.1h0"/>
<path stroke="#003c30" d="M488.9 720.5h0M486.6 717.0h0M490.2 719.1h0M491.1 737.3h0M488.0 735.0h0M490.9 739.6h0M486.7 731.7h0M486.0 725.0h0M490.3 733.4h0M487.0 729.0h0M488.1 712.9h0M491.1 719.1h0M488.8 723.1h0M488.8 732.7h0M489.3 721.8h0M487.7 745.0h0M490.7 735.3h0M494.2 719.9h0M490.6 733.8h0M490.7 714.9h0M486.9 727.5h0M490.7 738.2h0M492.7 732.6h0M485.3 723.1h0M490.0 720.3h0M488.2 730.9h0M488.9 734.9h0M491.2 729.1h0M491.1 736.3h0M487.7 736.4h0M491.4 720.8h0M488.9 734.3h0M490.4 727.0h0M489.9 715.5h0M485.8 729.8h0M489.6 739.3h0M492.5 727.4h0M485.2 725.7h0M493.3 728.2h0M486.7 721.4h0M491.6 737.4h0M488.7 752.5h0M491.8 728.8h0M491.9 725.3h0M490.1 719.8h0M489.6 716.9h0M488.6 725.1h0"/>
<path stroke="#005046" d="M493.9 716.0h0"/>
<path stroke="#00463b" d="M490.2 731.4h0M485.1 716.0h0M506.2 724.7h0M482.3 725.9h0M491.2 722.7h0M478.6 711.8h0M487.4 715.5h0M485.2 716.1h0M478.1 708.4h0M486.8 728.9h0"/>
<path stroke="#003c30" d="M498.7 719.5h0M485.3 706.9h0M490.0 720.3h0M495.8 730.1h0M495.8 719.2h0M489.9 709.3h0M486.7 724.3h0M504.5 724.1h0M485.7 720.9h0M482.4 717.7h0M490.0 716.6h0M494.7 711.4h0M488.9 722.9h0M481.5 735.8h0M487.8 718.7h0M488.3 712.2h0M494.7 713.8h0M498.1 719.4h0M482.8 726.6h0M506.2 720.1h0M486.9 726.3h0M498.1 714.2h0M489.1 731.6h0M492.2 713.8h0M501.2 721.7h0M503.9 716.4h0M492.0 724.7h0M497.5 724.1h0M490.6 721.3h0M483.3 712.6h0M487.5 715.6h0M472.0 722.3h0M488.8 710.6h0M497.4 719.8h0M488.2 726.9h0M494.0 732.2h0M492.5 722.4h0M500.0 714.8h0M490.9 712.6h0M503.4 726.6h0M476.1 719.8h0M490.5 726.6h0M486.2 729.2h0M486.5 726.5h0M486.4 718.8h0M483.1 719.9h0M477.7 714.8h0M498.3 727.0h0M495.7 720.7h0M474.2 731.7h0M486.3 724.5h0M492.7 718.7h0M481.2 727.5h0M485.6 713.6h0M488.6 720.8h0M491.7 726.2h0M499.4 715.0h0M484.5 717.4h0M490.4 715.8h0M482.9 717.1h0M495.6 715.8h0M485.6 737.2h0M498.8 713.9h0M483.3 716.3h0M491.6 721.2h0M486.4 710.2h0M486.8 723.1h0M491.1 707.1h0M495.7 721.5h0M501.6 723.0h0M495.9 722.8h0M492.5 716.8h0M492.1 720.8h0M485.9 714.2h0M486.7 717.6h0M499.5 721.6h0M492.7 724.1h0M494.8 718.9h0M486.2 725.2h0M497.5 713.4h0M496.4 719.2h0M498.4 730.4h0M495.0 728.1h0M490.5 722.1h0M491.6 728.0h0M488.8 718.5h0M478.5 723.8h0M485.0 718.3h0M502.6 729.6h0M506.2 711.2h0M495.5 713.7h0M485.9 726.7h0M490.7 710.1h0M488.1 740.0h0M485.7 717.9h0M489.3 725.3h0M487.8 711.1h0M493.4 719.0h0M485.5 730.0h0M500.4 724.0h0M511.8 720.7h0M489.8 731.0h0M486.0 707.7h0M495.7 720.9h0M493.2 721.7h0M499.9 714.4h0M484.4 717.2h0M485.0 725.2h0M484.2 728.8h0M482.1 709.9h0M489.1 731.2h0M489.2 722.2h0M486.6 722.8h0M498.7 718.7h0M485.9 731.0h0M492.7 715.4h0M493.7 731.9h0M496.7 716.8h0M498.1 705.9h0M496.4 718.4h0M496.3 712.3h0M488.1 730.2h0M492.7 717.6h0M481.1 722.0h0M489.3 728.6h0M481.9 724.5h0M502.7 726.0h0M486.1 710.2h0M486.8 722.9h0M487.3 717.0h0M485.0 732.3h0M489.5 718.9h0M489.5 715.8h0M500.6 717.0h0M494.2 727.4h0M485.1 719.9h0M492.8 720.7h0M486.1 709.2h0M495.9 716.0h0M487.5 713.8h0M495.9 731.1h0M493.5 714.7h0M492.5 723.6h0M503.3 722.3h0M488.0 717.7h0M492.2 717.3h0M493.9 719.7h0M491.1 716.5h0M483.6 721.2h0M481.8 722.3h0M486.5 729.6h0M496.3 717.2h0M499.4 719.7h0M498.7 720.8h0M489.3 711.2h0M474.1 721.6h0M499.5 720.7h0M473.4 724.6h0M491.9 721.8h0"/>
</g>
<line x1="421.6" y1="704.2" x2="653.4" y2="772.1" stroke="#000" stroke-width="1.9"/>
<rect x="70.96" y="28.70" width="248.44" height="221.60" fill="none" stroke="#000" stroke-width="1.1"/>
<path d="M70.96 250.30v4.86M112.37 250.30v4.86M153.77 250.30v4.86M195.18 250.30v4.86M236.59 250.30v4.86M277.99 250.30v4.86M319.40 250.30v4.86M70.96 250.30h-4.86M70.96 194.90h-4.86M70.96 139.50h-4.86M70.96 84.10h-4.86M70.96 28.70h-4.86" stroke="#000" stroke-width="1.1" fill="none"/>
<rect x="418.50" y="28.70" width="248.70" height="221.60" fill="none" stroke="#000" stroke-width="1.1"/>
<path d="M418.50 250.30v4.86M480.68 250.30v4.86M542.85 250.30v4.86M605.03 250.30v4.86M667.20 250.30v4.86M418.50 250.30h-4.86M418.50 225.68h-4.86M418.50 201.06h-4.86M418.50 176.43h-4.86M418.50 151.81h-4.86M418.50 127.19h-4.86M418.50 102.57h-4.86M418.50 77.94h-4.86M418.50 53.32h-4.86M418.50 28.70h-4.86" stroke="#000" stroke-width="1.1" fill="none"/>
<rect x="70.96" y="338.70" width="248.44" height="221.60" fill="none" stroke="#000" stroke-width="1.1"/>
<path d="M70.96 560.30v4.86M112.37 560.30v4.86M153.77 560.30v4.86M195.18 560.30v4.86M236.59 560.30v4.86M277.99 560.30v4.86M319.40 560.30v4.86M70.96 560.30h-4.86M70.96 528.64h-4.86M70.96 496.99h-4.86M70.96 465.33h-4.86M70.96 433.67h-4.86M70.96 402.01h-4.86M70.96 370.36h-4.86M70.96 338.70h-4.86" stroke="#000" stroke-width="1.1" fill="none"/>
<rect x="418.50" y="338.70" width="248.70" height="221.60" fill="none" stroke="#000" stroke-width="1.1"/>
<path d="M418.50 560.30v4.86M454.03 560.30v4.86M489.56 560.30v4.86M525.09 560.30v4.86M560.61 560.30v4.86M596.14 560.30v4.86M631.67 560.30v4.86M667.20 560.30v4.86M418.50 560.30h-4.86M418.50 535.68h-4.86M418.50 511.06h-4.86M418.50 486.43h-4.86M418.50 461.81h-4.86M418.50 437.19h-4.86M418.50 412.57h-4.86M418.50 387.94h-4.86M418.50 363.32h-4.86M418.50 338.70h-4.86" stroke="#000" stroke-width="1.1" fill="none"/>
<rect x="70.96" y="648.70" width="248.44" height="221.60" fill="none" stroke="#000" stroke-width="1.1"/>
<path d="M70.96 870.30v4.86M112.37 870.30v4.86M153.77 870.30v4.86M195.18 870.30v4.86M236.59 870.30v4.86M277.99 870.30v4.86M319.40 870.30v4.86M70.96 855.53h-4.86M70.96 825.98h-4.86M70.96 796.43h-4.86M70.96 766.89h-4.86M70.96 737.34h-4.86M70.96 707.79h-4.86M70.96 678.25h-4.86M70.96 648.70h-4.86" stroke="#000" stroke-width="1.1" fill="none"/>
<rect x="418.50" y="648.70" width="248.70" height="221.60" fill="none" stroke="#000" stroke-width="1.1"/>
<path d="M418.50 870.30v4.86M454.03 870.30v4.86M489.56 870.30v4.86M525.09 870.30v4.86M560.61 870.30v4.86M596.14 870.30v4.86M631.67 870.30v4.86M667.20 870.30v4.86M418.50 870.30h-4.86M418.50 845.68h-4.86M418.50 821.06h-4.86M418.50 796.43h-4.86M418.50 771.81h-4.86M418.50 747.19h-4.86M418.50 722.57h-4.86M418.50 697.94h-4.86M418.50 673.32h-4.86M418.50 648.70h-4.86" stroke="#000" stroke-width="1.1" fill="none"/>
<text x="54.15" y="271.02" textLength="33.6" lengthAdjust="spacingAndGlyphs">−1.0</text>
<text x="95.62" y="271.02" textLength="33.5" lengthAdjust="spacingAndGlyphs">−0.5</text>
<text x="142.84" y="271.02" textLength="21.9" lengthAdjust="spacingAndGlyphs">0.0</text>
<text x="184.24" y="271.02" textLength="21.9" lengthAdjust="spacingAndGlyphs">0.5</text>
<text x="225.59" y="271.02" textLength="22.0" lengthAdjust="spacingAndGlyphs">1.0</text>
<text x="266.99" y="271.02" textLength="22.0" lengthAdjust="spacingAndGlyphs">1.5</text>
<text x="308.46" y="271.02" textLength="21.9" lengthAdjust="spacingAndGlyphs">2.0</text>
<text x="27.74" y="255.80" textLength="33.5" lengthAdjust="spacingAndGlyphs">−0.2</text>
<text x="27.61" y="200.40" textLength="33.6" lengthAdjust="spacingAndGlyphs">−0.1</text>
<text x="39.36" y="145.00" textLength="21.9" lengthAdjust="spacingAndGlyphs">0.0</text>
<text x="39.24" y="89.60" textLength="22.0" lengthAdjust="spacingAndGlyphs">0.1</text>
<text x="39.36" y="34.20" textLength="21.9" lengthAdjust="spacingAndGlyphs">0.2</text>
<text x="102.31" y="289.28" textLength="185.8" lengthAdjust="spacingAndGlyphs">Changes in leaf area index</text>
<text transform="translate(19.06 231.88) rotate(-90)" textLength="184.8" lengthAdjust="spacingAndGlyphs">Changes in surface albedo</text>
<text x="70.96" y="19.97" textLength="220.5" lengthAdjust="spacingAndGlyphs">(a)  Daytime (08−16 LST) mean</text>
<text x="401.75" y="271.02" textLength="33.5" lengthAdjust="spacingAndGlyphs">−0.2</text>
<text x="463.86" y="271.02" textLength="33.6" lengthAdjust="spacingAndGlyphs">−0.1</text>
<text x="531.91" y="271.02" textLength="21.9" lengthAdjust="spacingAndGlyphs">0.0</text>
<text x="594.03" y="271.02" textLength="22.0" lengthAdjust="spacingAndGlyphs">0.1</text>
<text x="656.26" y="271.02" textLength="21.9" lengthAdjust="spacingAndGlyphs">0.2</text>
<text x="379.53" y="255.80" textLength="29.2" lengthAdjust="spacingAndGlyphs">−12</text>
<text x="379.53" y="231.18" textLength="29.2" lengthAdjust="spacingAndGlyphs">−10</text>
<text x="388.28" y="206.56" textLength="20.5" lengthAdjust="spacingAndGlyphs">−8</text>
<text x="388.28" y="181.93" textLength="20.5" lengthAdjust="spacingAndGlyphs">−6</text>
<text x="388.40" y="157.31" textLength="20.4" lengthAdjust="spacingAndGlyphs">−4</text>
<text x="388.40" y="132.69" textLength="20.4" lengthAdjust="spacingAndGlyphs">−2</text>
<text x="400.03" y="108.07" textLength="8.8" lengthAdjust="spacingAndGlyphs">0</text>
<text x="400.03" y="83.44" textLength="8.8" lengthAdjust="spacingAndGlyphs">2</text>
<text x="400.03" y="58.82" textLength="8.8" lengthAdjust="spacingAndGlyphs">4</text>
<text x="399.90" y="34.20" textLength="8.9" lengthAdjust="spacingAndGlyphs">6</text>
<text x="450.48" y="289.28" textLength="184.8" lengthAdjust="spacingAndGlyphs">Changes in surface albedo</text>
<text transform="translate(370.97 281.38) rotate(-90)" textLength="283.8" lengthAdjust="spacingAndGlyphs">Changes in land surface temperature (K)</text>
<text x="418.50" y="19.97" textLength="220.4" lengthAdjust="spacingAndGlyphs">(b)  Daytime (08−16 LST) mean</text>
<text x="54.15" y="581.02" textLength="33.6" lengthAdjust="spacingAndGlyphs">−1.0</text>
<text x="95.62" y="581.02" textLength="33.5" lengthAdjust="spacingAndGlyphs">−0.5</text>
<text x="142.84" y="581.02" textLength="21.9" lengthAdjust="spacingAndGlyphs">0.0</text>
<text x="184.24" y="581.02" textLength="21.9" lengthAdjust="spacingAndGlyphs">0.5</text>
<text x="225.59" y="581.02" textLength="22.0" lengthAdjust="spacingAndGlyphs">1.0</text>
<text x="266.99" y="581.02" textLength="22.0" lengthAdjust="spacingAndGlyphs">1.5</text>
<text x="308.46" y="581.02" textLength="21.9" lengthAdjust="spacingAndGlyphs">2.0</text>
<text x="23.24" y="565.80" textLength="38.0" lengthAdjust="spacingAndGlyphs">−100</text>
<text x="32.11" y="534.14" textLength="29.1" lengthAdjust="spacingAndGlyphs">−50</text>
<text x="52.49" y="502.49" textLength="8.8" lengthAdjust="spacingAndGlyphs">0</text>
<text x="43.74" y="470.83" textLength="17.5" lengthAdjust="spacingAndGlyphs">50</text>
<text x="34.86" y="439.17" textLength="26.4" lengthAdjust="spacingAndGlyphs">100</text>
<text x="34.86" y="407.51" textLength="26.4" lengthAdjust="spacingAndGlyphs">150</text>
<text x="34.99" y="375.86" textLength="26.2" lengthAdjust="spacingAndGlyphs">200</text>
<text x="34.99" y="344.20" textLength="26.2" lengthAdjust="spacingAndGlyphs">250</text>
<text x="102.31" y="599.28" textLength="185.8" lengthAdjust="spacingAndGlyphs">Changes in leaf area index</text>
<text transform="translate(11.68 594.55) rotate(-90)" textLength="290.1" lengthAdjust="spacingAndGlyphs">Changes in turbulent heat fluxes (W m<tspan font-size="10.2" dy="-5.5">−2</tspan><tspan dy="5.5">)</tspan></text>
<text x="70.96" y="329.97" textLength="220.7" lengthAdjust="spacingAndGlyphs">(c)  Daytime (08−16 LST) mean</text>
<text x="399.50" y="581.02" textLength="38.0" lengthAdjust="spacingAndGlyphs">−100</text>
<text x="439.47" y="581.02" textLength="29.1" lengthAdjust="spacingAndGlyphs">−50</text>
<text x="485.18" y="581.02" textLength="8.8" lengthAdjust="spacingAndGlyphs">0</text>
<text x="516.34" y="581.02" textLength="17.5" lengthAdjust="spacingAndGlyphs">50</text>
<text x="547.43" y="581.02" textLength="26.4" lengthAdjust="spacingAndGlyphs">100</text>
<text x="582.96" y="581.02" textLength="26.4" lengthAdjust="spacingAndGlyphs">150</text>
<text x="618.55" y="581.02" textLength="26.2" lengthAdjust="spacingAndGlyphs">200</text>
<text x="654.08" y="581.02" textLength="26.2" lengthAdjust="spacingAndGlyphs">250</text>
<text x="379.53" y="565.80" textLength="29.2" lengthAdjust="spacingAndGlyphs">−12</text>
<text x="379.53" y="541.18" textLength="29.2" lengthAdjust="spacingAndGlyphs">−10</text>
<text x="388.28" y="516.56" textLength="20.5" lengthAdjust="spacingAndGlyphs">−8</text>
<text x="388.28" y="491.93" textLength="20.5" lengthAdjust="spacingAndGlyphs">−6</text>
<text x="388.40" y="467.31" textLength="20.4" lengthAdjust="spacingAndGlyphs">−4</text>
<text x="388.40" y="442.69" textLength="20.4" lengthAdjust="spacingAndGlyphs">−2</text>
<text x="400.03" y="418.07" textLength="8.8" lengthAdjust="spacingAndGlyphs">0</text>
<text x="400.03" y="393.44" textLength="8.8" lengthAdjust="spacingAndGlyphs">2</text>
<text x="400.03" y="368.82" textLength="8.8" lengthAdjust="spacingAndGlyphs">4</text>
<text x="399.90" y="344.20" textLength="8.9" lengthAdjust="spacingAndGlyphs">6</text>
<text x="397.80" y="601.28" textLength="290.1" lengthAdjust="spacingAndGlyphs">Changes in turbulent heat fluxes (W m<tspan font-size="10.2" dy="-5.5">−2</tspan><tspan dy="5.5">)</tspan></text>
<text transform="translate(370.97 591.38) rotate(-90)" textLength="283.8" lengthAdjust="spacingAndGlyphs">Changes in land surface temperature (K)</text>
<text x="418.50" y="329.97" textLength="220.4" lengthAdjust="spacingAndGlyphs">(d)  Daytime (08−16 LST) mean</text>
<text x="54.15" y="891.02" textLength="33.6" lengthAdjust="spacingAndGlyphs">−1.0</text>
<text x="95.62" y="891.02" textLength="33.5" lengthAdjust="spacingAndGlyphs">−0.5</text>
<text x="142.84" y="891.02" textLength="21.9" lengthAdjust="spacingAndGlyphs">0.0</text>
<text x="184.24" y="891.02" textLength="21.9" lengthAdjust="spacingAndGlyphs">0.5</text>
<text x="225.59" y="891.02" textLength="22.0" lengthAdjust="spacingAndGlyphs">1.0</text>
<text x="266.99" y="891.02" textLength="22.0" lengthAdjust="spacingAndGlyphs">1.5</text>
<text x="308.46" y="891.02" textLength="21.9" lengthAdjust="spacingAndGlyphs">2.0</text>
<text x="32.11" y="861.03" textLength="29.1" lengthAdjust="spacingAndGlyphs">−20</text>
<text x="31.99" y="831.48" textLength="29.2" lengthAdjust="spacingAndGlyphs">−10</text>
<text x="52.49" y="801.93" textLength="8.8" lengthAdjust="spacingAndGlyphs">0</text>
<text x="43.61" y="772.39" textLength="17.6" lengthAdjust="spacingAndGlyphs">10</text>
<text x="43.74" y="742.84" textLength="17.5" lengthAdjust="spacingAndGlyphs">20</text>
<text x="43.74" y="713.29" textLength="17.5" lengthAdjust="spacingAndGlyphs">30</text>
<text x="43.74" y="683.75" textLength="17.5" lengthAdjust="spacingAndGlyphs">40</text>
<text x="43.74" y="654.20" textLength="17.5" lengthAdjust="spacingAndGlyphs">50</text>
<text x="102.31" y="909.28" textLength="185.8" lengthAdjust="spacingAndGlyphs">Changes in leaf area index</text>
<text transform="translate(20.43 904.55) rotate(-90)" textLength="290.1" lengthAdjust="spacingAndGlyphs">Changes in turbulent heat fluxes (W m<tspan font-size="10.2" dy="-5.5">−2</tspan><tspan dy="5.5">)</tspan></text>
<text x="70.96" y="639.97" textLength="224.7" lengthAdjust="spacingAndGlyphs">(e) Nighttime (20−04 LST) mean</text>
<text x="403.94" y="891.02" textLength="29.1" lengthAdjust="spacingAndGlyphs">−20</text>
<text x="439.40" y="891.02" textLength="29.2" lengthAdjust="spacingAndGlyphs">−10</text>
<text x="485.18" y="891.02" textLength="8.8" lengthAdjust="spacingAndGlyphs">0</text>
<text x="516.27" y="891.02" textLength="17.6" lengthAdjust="spacingAndGlyphs">10</text>
<text x="551.86" y="891.02" textLength="17.5" lengthAdjust="spacingAndGlyphs">20</text>
<text x="587.39" y="891.02" textLength="17.5" lengthAdjust="spacingAndGlyphs">30</text>
<text x="622.92" y="891.02" textLength="17.5" lengthAdjust="spacingAndGlyphs">40</text>
<text x="658.45" y="891.02" textLength="17.5" lengthAdjust="spacingAndGlyphs">50</text>
<text x="379.53" y="875.80" textLength="29.2" lengthAdjust="spacingAndGlyphs">−12</text>
<text x="379.53" y="851.18" textLength="29.2" lengthAdjust="spacingAndGlyphs">−10</text>
<text x="388.28" y="826.56" textLength="20.5" lengthAdjust="spacingAndGlyphs">−8</text>
<text x="388.28" y="801.93" textLength="20.5" lengthAdjust="spacingAndGlyphs">−6</text>
<text x="388.40" y="777.31" textLength="20.4" lengthAdjust="spacingAndGlyphs">−4</text>
<text x="388.40" y="752.69" textLength="20.4" lengthAdjust="spacingAndGlyphs">−2</text>
<text x="400.03" y="728.07" textLength="8.8" lengthAdjust="spacingAndGlyphs">0</text>
<text x="400.03" y="703.44" textLength="8.8" lengthAdjust="spacingAndGlyphs">2</text>
<text x="400.03" y="678.82" textLength="8.8" lengthAdjust="spacingAndGlyphs">4</text>
<text x="399.90" y="654.20" textLength="8.9" lengthAdjust="spacingAndGlyphs">6</text>
<text x="397.80" y="911.28" textLength="290.1" lengthAdjust="spacingAndGlyphs">Changes in turbulent heat fluxes (W m<tspan font-size="10.2" dy="-5.5">−2</tspan><tspan dy="5.5">)</tspan></text>
<text transform="translate(370.97 901.38) rotate(-90)" textLength="283.8" lengthAdjust="spacingAndGlyphs">Changes in land surface temperature (K)</text>
<text x="418.50" y="639.97" textLength="225.2" lengthAdjust="spacingAndGlyphs">(f)  Nighttime (20−04 LST) mean</text>
<text x="127.06" y="977.30" textLength="21.9" lengthAdjust="spacingAndGlyphs">0.0</text>
<text x="241.24" y="977.30" textLength="21.9" lengthAdjust="spacingAndGlyphs">0.2</text>
<text x="355.41" y="977.30" textLength="21.9" lengthAdjust="spacingAndGlyphs">0.4</text>
<text x="469.53" y="977.30" textLength="22.0" lengthAdjust="spacingAndGlyphs">0.6</text>
<text x="583.70" y="977.30" textLength="22.0" lengthAdjust="spacingAndGlyphs">0.8</text>
<text x="313.66" y="995.60" textLength="105.4" lengthAdjust="spacingAndGlyphs">Humidity index</text>
<text x="207.60" y="50.90" textLength="104.0" lengthAdjust="spacingAndGlyphs">slope =  −0.06</text>
<text x="207.60" y="72.10" textLength="70.5" lengthAdjust="spacingAndGlyphs"><tspan font-style="italic">R</tspan> = −0.70</text>
<text x="207.60" y="94.20" textLength="67.8" lengthAdjust="spacingAndGlyphs"><tspan font-style="italic">P</tspan> &lt; 0.001</text>
<text x="430.94" y="50.90" textLength="101.1" lengthAdjust="spacingAndGlyphs">slope =  33.10</text>
<text x="430.94" y="72.10" textLength="64.3" lengthAdjust="spacingAndGlyphs"><tspan font-style="italic">R</tspan> =  0.63</text>
<text x="430.94" y="94.20" textLength="67.8" lengthAdjust="spacingAndGlyphs"><tspan font-style="italic">P</tspan> &lt; 0.001</text>
<text x="83.38" y="360.90" textLength="101.1" lengthAdjust="spacingAndGlyphs">slope =  56.07</text>
<text x="83.38" y="382.10" textLength="64.3" lengthAdjust="spacingAndGlyphs"><tspan font-style="italic">R</tspan> =  0.63</text>
<text x="83.38" y="404.20" textLength="67.8" lengthAdjust="spacingAndGlyphs"><tspan font-style="italic">P</tspan> &lt; 0.001</text>
<text x="555.29" y="360.90" textLength="103.9" lengthAdjust="spacingAndGlyphs">slope =  −0.04</text>
<text x="555.29" y="382.10" textLength="70.6" lengthAdjust="spacingAndGlyphs"><tspan font-style="italic">R</tspan> = −0.76</text>
<text x="555.29" y="404.20" textLength="67.8" lengthAdjust="spacingAndGlyphs"><tspan font-style="italic">P</tspan> &lt; 0.001</text>
<text x="83.38" y="670.90" textLength="92.4" lengthAdjust="spacingAndGlyphs">slope =  4.17</text>
<text x="83.38" y="692.10" textLength="64.5" lengthAdjust="spacingAndGlyphs"><tspan font-style="italic">R</tspan> =  0.38</text>
<text x="83.38" y="714.20" textLength="67.8" lengthAdjust="spacingAndGlyphs"><tspan font-style="italic">P</tspan> &lt; 0.001</text>
<text x="555.29" y="670.90" textLength="104.0" lengthAdjust="spacingAndGlyphs">slope =  −0.08</text>
<text x="555.29" y="692.10" textLength="71.5" lengthAdjust="spacingAndGlyphs"><tspan font-style="italic">R</tspan> = −0.53</text>
<text x="555.29" y="714.20" textLength="67.8" lengthAdjust="spacingAndGlyphs"><tspan font-style="italic">P</tspan> &lt; 0.001</text>
<g opacity="0.8"><rect x="138.00" y="940.80" width="456.70" height="14.70" fill="url(#cb)"/>
<polygon points="594.70,940.80 618.00,948.15 594.70,955.50" fill="#003c30"/></g>
<path d="M138.00 956.70v4.86M252.18 956.70v4.86M366.35 956.70v4.86M480.53 956.70v4.86M594.70 956.70v4.86" stroke="#000" stroke-width="1.1" fill="none"/>
</svg></body></html>
